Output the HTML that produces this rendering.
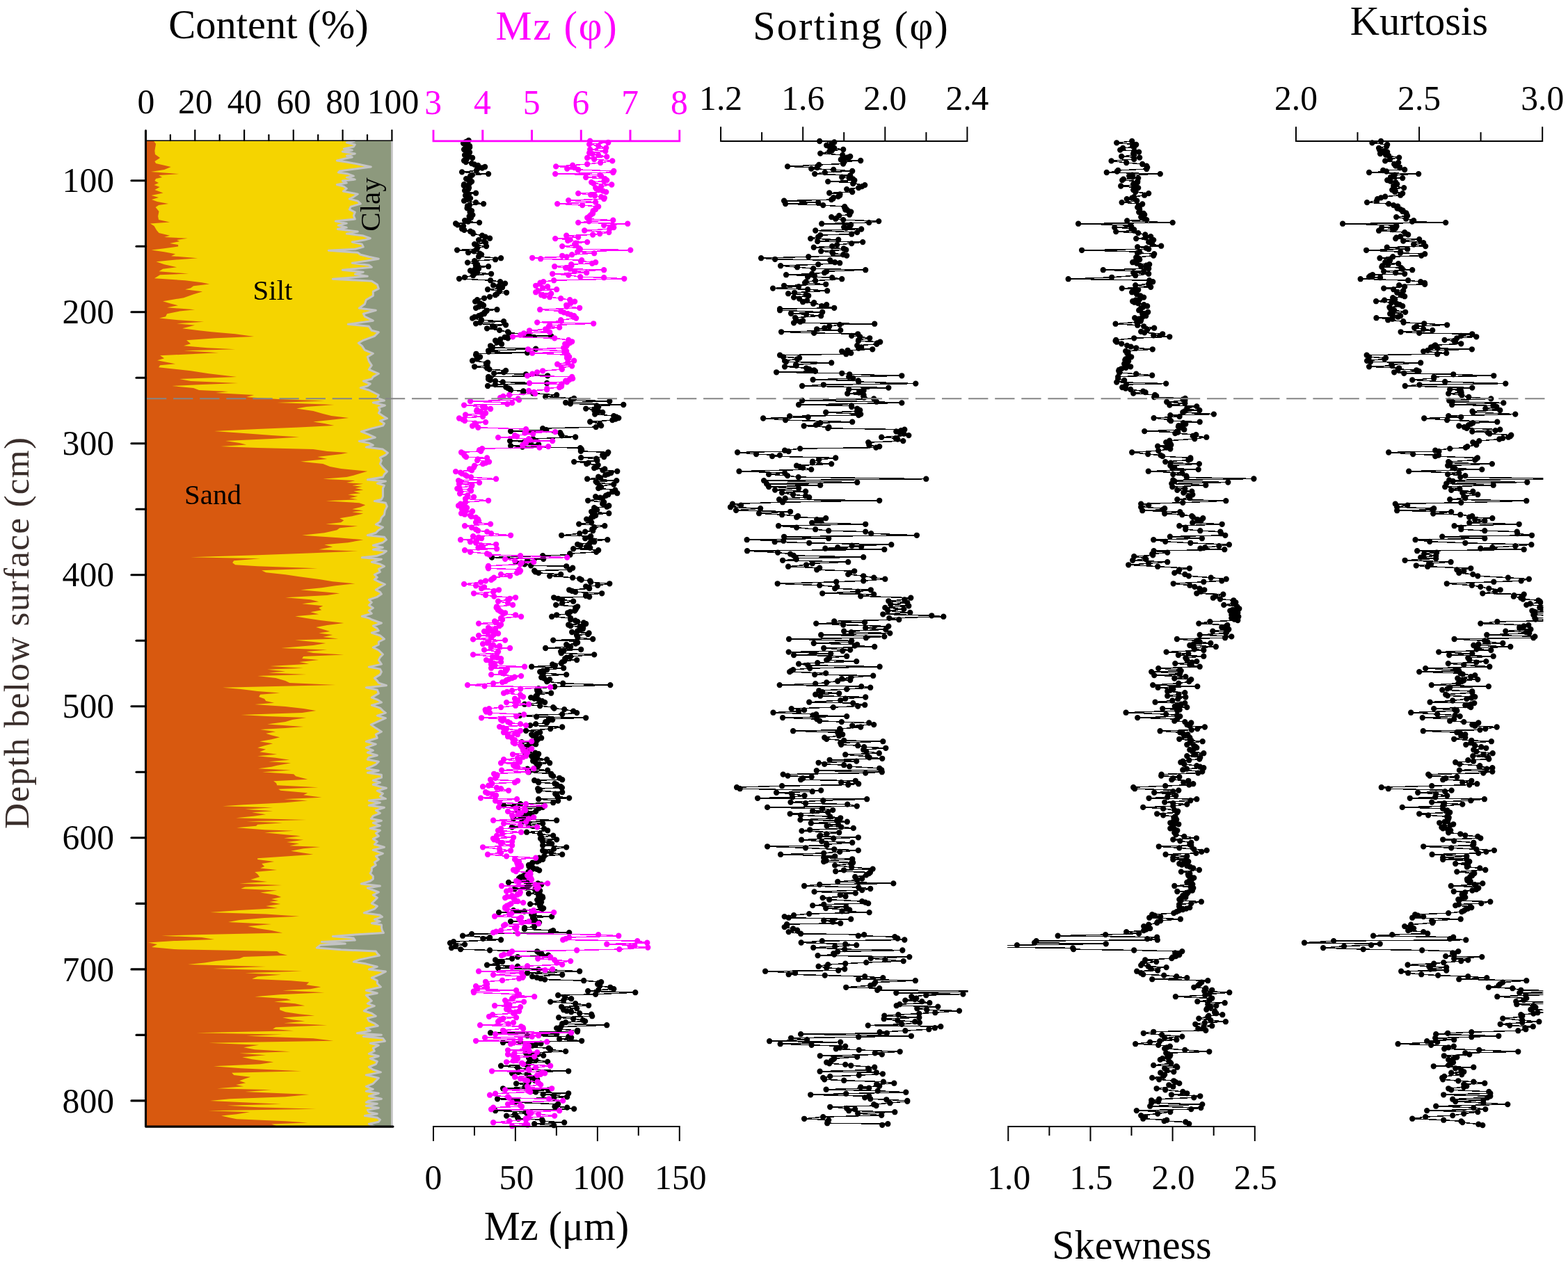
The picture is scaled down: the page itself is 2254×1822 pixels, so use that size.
<!DOCTYPE html>
<html lang="en"><head><meta charset="utf-8"><title>Grain-size parameters vs depth</title>
<style>html,body{margin:0;padding:0;background:#fff}svg{display:block}</style></head>
<body>
<svg width="2254" height="1822" viewBox="0 0 2254 1822" font-family='"Liberation Serif", "DejaVu Serif", serif' role="img" aria-label="Grain-size parameters versus depth below surface">
<rect width="2254" height="1822" fill="#fff"/>
<rect x="209.5" y="202.8" width="353.9" height="1417.3" fill="#8d997d"/>
<polygon points="209.5,202.8 510.3,202.8 498.3,205.0 510.3,208.0 508.3,211.0 494.3,214.0 506.3,216.0 492.3,218.0 510.3,221.0 498.3,224.0 506.3,226.0 496.3,228.0 484.3,231.0 498.3,233.0 514.3,236.0 533.3,240.0 510.3,243.0 488.3,246.0 486.3,248.0 500.3,250.1 508.3,253.1 498.3,255.1 510.3,258.1 492.3,260.1 498.3,263.1 484.3,265.5 494.3,268.1 498.3,271.1 493.3,275.1 514.3,279.1 508.3,283.1 502.3,286.1 514.3,289.1 518.3,293.1 504.3,297.1 502.3,301.1 510.3,305.1 508.3,310.1 510.3,315.1 482.3,318.1 498.3,321.1 486.3,324.1 498.3,327.1 485.3,329.5 514.3,333.1 498.3,336.1 522.3,339.1 532.3,342.7 524.3,345.1 506.3,348.1 520.3,351.1 522.3,355.1 510.3,358.2 472.3,360.2 514.3,363.2 518.3,366.2 530.3,369.2 544.3,372.2 526.3,375.2 506.3,378.2 530.3,381.2 534.3,384.2 492.3,388.2 522.3,391.2 510.3,394.2 528.3,397.2 478.3,401.2 534.3,404.2 542.3,409.2 544.3,415.2 536.3,419.2 536.3,425.2 526.3,431.2 524.3,437.2 516.3,443.2 540.3,446.2 522.3,451.2 524.3,455.2 536.3,461.2 500.3,466.3 530.3,469.3 534.3,475.3 544.3,477.7 538.3,483.3 522.3,489.3 515.3,493.3 520.3,497.3 524.3,503.3 536.3,508.3 528.3,513.3 530.3,519.3 534.3,525.3 530.3,531.3 544.3,537.3 536.3,541.9 534.3,545.0 522.3,548.0 532.3,552.0 528.3,555.0 518.3,557.6 530.3,561.0 536.3,564.0 544.3,568.0 542.3,572.4 552.4,576.0 536.3,579.0 553.4,583.0 544.3,586.0 546.4,590.0 544.3,594.0 550.4,598.1 556.4,601.7 546.4,605.1 552.4,609.1 550.4,612.1 534.3,616.1 519.3,620.7 528.3,624.1 539.3,629.1 528.3,632.1 516.3,634.5 530.3,637.1 536.3,640.1 526.3,643.1 550.4,646.1 557.4,651.1 554.4,654.1 546.4,658.1 548.4,662.1 546.4,667.1 550.4,672.1 556.4,678.1 552.4,682.1 550.4,686.1 528.3,689.7 554.4,692.1 542.3,695.1 552.4,698.1 550.4,702.1 550.4,708.2 550.4,714.2 548.4,718.2 538.3,720.6 554.4,723.2 556.4,728.2 553.4,734.2 552.4,740.2 548.4,744.2 546.4,750.2 540.3,754.2 550.4,758.2 544.3,762.2 540.3,766.2 528.3,769.8 552.4,772.2 555.4,776.2 550.4,780.2 536.3,784.2 550.4,787.2 536.3,790.2 555.4,792.6 550.4,796.2 542.3,799.2 520.3,801.8 548.4,804.2 534.3,808.2 546.4,811.3 552.4,814.3 544.3,818.3 546.4,822.3 538.3,826.3 542.3,830.3 538.3,833.3 544.3,836.3 553.4,840.3 546.4,844.3 540.3,848.3 546.4,851.3 548.4,854.3 542.3,858.3 530.3,862.3 534.3,866.3 530.3,870.3 536.3,874.3 530.3,878.3 534.3,882.3 520.3,886.3 530.3,888.9 534.3,891.0 548.4,896.0 536.3,900.0 542.3,904.0 544.3,907.0 534.3,910.0 546.4,914.0 552.4,919.0 544.3,923.0 544.3,927.0 536.3,931.0 544.3,935.0 550.4,941.0 546.4,945.1 544.3,949.1 548.4,955.1 530.3,959.1 546.4,962.1 548.4,966.1 546.4,970.1 538.3,975.1 542.3,979.1 544.3,982.1 555.4,985.7 526.3,988.7 542.3,992.1 544.3,997.1 534.3,1003.1 542.3,1006.1 548.4,1010.1 534.3,1014.1 546.4,1018.1 550.4,1022.1 554.4,1025.1 542.3,1029.1 554.4,1032.7 546.4,1036.1 533.3,1042.1 540.3,1047.1 548.4,1052.2 540.3,1056.2 542.3,1061.2 526.3,1066.2 540.3,1070.2 526.3,1075.2 536.3,1079.2 528.3,1082.2 542.3,1086.2 530.3,1089.2 528.3,1092.2 544.3,1095.2 540.3,1099.2 534.3,1102.2 527.3,1105.2 544.3,1108.2 528.3,1111.2 548.4,1114.2 548.4,1118.2 536.3,1122.2 546.4,1125.2 536.3,1128.2 546.4,1131.2 555.4,1133.2 542.3,1137.2 550.4,1141.2 546.4,1145.2 554.4,1148.6 530.3,1151.2 546.4,1154.2 530.3,1158.3 552.4,1161.3 540.3,1165.3 546.4,1169.3 536.3,1173.3 533.3,1177.3 548.4,1180.3 536.3,1183.3 546.4,1187.3 532.3,1191.3 546.4,1194.3 540.3,1198.3 544.3,1202.3 536.3,1206.3 542.3,1210.3 538.3,1214.3 552.4,1218.3 536.3,1222.3 550.4,1227.3 540.3,1231.3 544.3,1235.9 538.3,1240.0 540.3,1244.0 534.3,1248.0 534.3,1252.0 532.3,1256.0 536.3,1260.0 536.3,1264.0 532.3,1267.0 519.3,1271.0 546.4,1274.0 528.3,1277.0 536.3,1280.0 544.3,1283.0 536.3,1287.0 542.3,1291.1 538.3,1295.1 534.3,1299.1 542.3,1303.1 538.3,1307.1 523.3,1312.7 546.4,1316.1 549.4,1318.5 538.3,1322.1 546.4,1325.1 534.3,1327.7 548.4,1330.1 548.4,1334.1 549.4,1338.1 551.4,1341.5 510.3,1344.1 478.3,1346.5 508.3,1349.1 510.3,1352.1 462.3,1354.5 496.3,1357.1 460.3,1359.1 455.3,1363.1 490.3,1365.7 540.3,1368.1 542.3,1371.1 545.3,1374.1 530.3,1377.1 516.3,1380.1 508.3,1383.1 526.3,1386.1 542.3,1390.1 530.3,1394.1 554.4,1397.1 546.4,1401.2 534.3,1406.2 542.3,1410.2 542.3,1414.2 547.4,1419.2 526.3,1424.2 542.3,1428.2 526.3,1431.2 530.3,1435.2 534.3,1439.2 528.3,1443.2 538.3,1446.6 528.3,1450.2 523.3,1453.8 534.3,1457.2 540.3,1461.2 528.3,1464.2 530.3,1468.2 538.3,1471.8 543.3,1475.2 526.3,1478.6 532.3,1482.2 513.3,1485.8 548.4,1488.2 522.3,1490.6 550.4,1493.2 553.4,1497.2 532.3,1500.2 544.3,1503.2 536.3,1507.3 538.3,1511.3 530.3,1515.3 544.3,1518.7 532.3,1522.3 542.3,1526.3 540.3,1530.3 530.3,1534.3 536.3,1538.3 547.4,1541.9 526.3,1545.9 544.3,1550.3 540.3,1554.3 536.3,1558.3 526.3,1562.3 536.3,1566.3 526.3,1569.3 544.3,1572.3 530.3,1576.3 548.4,1580.3 530.3,1582.9 526.3,1585.2 542.3,1587.2 526.3,1590.2 544.3,1593.2 528.3,1596.2 530.3,1599.2 542.3,1601.8 524.3,1604.6 542.3,1607.2 546.4,1610.2 544.3,1613.2 530.3,1616.2 538.3,1620.1 209.5,1620.1" fill="#f5d400"/>
<clipPath id="c0"><rect x="209.5" y="200.8" width="353.9" height="1419.3"/></clipPath>
<polyline points="510.3,202.8 498.3,205.0 510.3,208.0 508.3,211.0 494.3,214.0 506.3,216.0 492.3,218.0 510.3,221.0 498.3,224.0 506.3,226.0 496.3,228.0 484.3,231.0 498.3,233.0 514.3,236.0 533.3,240.0 510.3,243.0 488.3,246.0 486.3,248.0 500.3,250.1 508.3,253.1 498.3,255.1 510.3,258.1 492.3,260.1 498.3,263.1 484.3,265.5 494.3,268.1 498.3,271.1 493.3,275.1 514.3,279.1 508.3,283.1 502.3,286.1 514.3,289.1 518.3,293.1 504.3,297.1 502.3,301.1 510.3,305.1 508.3,310.1 510.3,315.1 482.3,318.1 498.3,321.1 486.3,324.1 498.3,327.1 485.3,329.5 514.3,333.1 498.3,336.1 522.3,339.1 532.3,342.7 524.3,345.1 506.3,348.1 520.3,351.1 522.3,355.1 510.3,358.2 472.3,360.2 514.3,363.2 518.3,366.2 530.3,369.2 544.3,372.2 526.3,375.2 506.3,378.2 530.3,381.2 534.3,384.2 492.3,388.2 522.3,391.2 510.3,394.2 528.3,397.2 478.3,401.2 534.3,404.2 542.3,409.2 544.3,415.2 536.3,419.2 536.3,425.2 526.3,431.2 524.3,437.2 516.3,443.2 540.3,446.2 522.3,451.2 524.3,455.2 536.3,461.2 500.3,466.3 530.3,469.3 534.3,475.3 544.3,477.7 538.3,483.3 522.3,489.3 515.3,493.3 520.3,497.3 524.3,503.3 536.3,508.3 528.3,513.3 530.3,519.3 534.3,525.3 530.3,531.3 544.3,537.3 536.3,541.9 534.3,545.0 522.3,548.0 532.3,552.0 528.3,555.0 518.3,557.6 530.3,561.0 536.3,564.0 544.3,568.0 542.3,572.4 552.4,576.0 536.3,579.0 553.4,583.0 544.3,586.0 546.4,590.0 544.3,594.0 550.4,598.1 556.4,601.7 546.4,605.1 552.4,609.1 550.4,612.1 534.3,616.1 519.3,620.7 528.3,624.1 539.3,629.1 528.3,632.1 516.3,634.5 530.3,637.1 536.3,640.1 526.3,643.1 550.4,646.1 557.4,651.1 554.4,654.1 546.4,658.1 548.4,662.1 546.4,667.1 550.4,672.1 556.4,678.1 552.4,682.1 550.4,686.1 528.3,689.7 554.4,692.1 542.3,695.1 552.4,698.1 550.4,702.1 550.4,708.2 550.4,714.2 548.4,718.2 538.3,720.6 554.4,723.2 556.4,728.2 553.4,734.2 552.4,740.2 548.4,744.2 546.4,750.2 540.3,754.2 550.4,758.2 544.3,762.2 540.3,766.2 528.3,769.8 552.4,772.2 555.4,776.2 550.4,780.2 536.3,784.2 550.4,787.2 536.3,790.2 555.4,792.6 550.4,796.2 542.3,799.2 520.3,801.8 548.4,804.2 534.3,808.2 546.4,811.3 552.4,814.3 544.3,818.3 546.4,822.3 538.3,826.3 542.3,830.3 538.3,833.3 544.3,836.3 553.4,840.3 546.4,844.3 540.3,848.3 546.4,851.3 548.4,854.3 542.3,858.3 530.3,862.3 534.3,866.3 530.3,870.3 536.3,874.3 530.3,878.3 534.3,882.3 520.3,886.3 530.3,888.9 534.3,891.0 548.4,896.0 536.3,900.0 542.3,904.0 544.3,907.0 534.3,910.0 546.4,914.0 552.4,919.0 544.3,923.0 544.3,927.0 536.3,931.0 544.3,935.0 550.4,941.0 546.4,945.1 544.3,949.1 548.4,955.1 530.3,959.1 546.4,962.1 548.4,966.1 546.4,970.1 538.3,975.1 542.3,979.1 544.3,982.1 555.4,985.7 526.3,988.7 542.3,992.1 544.3,997.1 534.3,1003.1 542.3,1006.1 548.4,1010.1 534.3,1014.1 546.4,1018.1 550.4,1022.1 554.4,1025.1 542.3,1029.1 554.4,1032.7 546.4,1036.1 533.3,1042.1 540.3,1047.1 548.4,1052.2 540.3,1056.2 542.3,1061.2 526.3,1066.2 540.3,1070.2 526.3,1075.2 536.3,1079.2 528.3,1082.2 542.3,1086.2 530.3,1089.2 528.3,1092.2 544.3,1095.2 540.3,1099.2 534.3,1102.2 527.3,1105.2 544.3,1108.2 528.3,1111.2 548.4,1114.2 548.4,1118.2 536.3,1122.2 546.4,1125.2 536.3,1128.2 546.4,1131.2 555.4,1133.2 542.3,1137.2 550.4,1141.2 546.4,1145.2 554.4,1148.6 530.3,1151.2 546.4,1154.2 530.3,1158.3 552.4,1161.3 540.3,1165.3 546.4,1169.3 536.3,1173.3 533.3,1177.3 548.4,1180.3 536.3,1183.3 546.4,1187.3 532.3,1191.3 546.4,1194.3 540.3,1198.3 544.3,1202.3 536.3,1206.3 542.3,1210.3 538.3,1214.3 552.4,1218.3 536.3,1222.3 550.4,1227.3 540.3,1231.3 544.3,1235.9 538.3,1240.0 540.3,1244.0 534.3,1248.0 534.3,1252.0 532.3,1256.0 536.3,1260.0 536.3,1264.0 532.3,1267.0 519.3,1271.0 546.4,1274.0 528.3,1277.0 536.3,1280.0 544.3,1283.0 536.3,1287.0 542.3,1291.1 538.3,1295.1 534.3,1299.1 542.3,1303.1 538.3,1307.1 523.3,1312.7 546.4,1316.1 549.4,1318.5 538.3,1322.1 546.4,1325.1 534.3,1327.7 548.4,1330.1 548.4,1334.1 549.4,1338.1 551.4,1341.5 510.3,1344.1 478.3,1346.5 508.3,1349.1 510.3,1352.1 462.3,1354.5 496.3,1357.1 460.3,1359.1 455.3,1363.1 490.3,1365.7 540.3,1368.1 542.3,1371.1 545.3,1374.1 530.3,1377.1 516.3,1380.1 508.3,1383.1 526.3,1386.1 542.3,1390.1 530.3,1394.1 554.4,1397.1 546.4,1401.2 534.3,1406.2 542.3,1410.2 542.3,1414.2 547.4,1419.2 526.3,1424.2 542.3,1428.2 526.3,1431.2 530.3,1435.2 534.3,1439.2 528.3,1443.2 538.3,1446.6 528.3,1450.2 523.3,1453.8 534.3,1457.2 540.3,1461.2 528.3,1464.2 530.3,1468.2 538.3,1471.8 543.3,1475.2 526.3,1478.6 532.3,1482.2 513.3,1485.8 548.4,1488.2 522.3,1490.6 550.4,1493.2 553.4,1497.2 532.3,1500.2 544.3,1503.2 536.3,1507.3 538.3,1511.3 530.3,1515.3 544.3,1518.7 532.3,1522.3 542.3,1526.3 540.3,1530.3 530.3,1534.3 536.3,1538.3 547.4,1541.9 526.3,1545.9 544.3,1550.3 540.3,1554.3 536.3,1558.3 526.3,1562.3 536.3,1566.3 526.3,1569.3 544.3,1572.3 530.3,1576.3 548.4,1580.3 530.3,1582.9 526.3,1585.2 542.3,1587.2 526.3,1590.2 544.3,1593.2 528.3,1596.2 530.3,1599.2 542.3,1601.8 524.3,1604.6 542.3,1607.2 546.4,1610.2 544.3,1613.2 530.3,1616.2 538.3,1620.1" fill="none" stroke="#c4c4c4" stroke-width="3.0" stroke-linejoin="round" clip-path="url(#c0)"/>
<polygon points="209.5,202.8 221.0,202.8 224.1,207.0 223.0,213.0 222.4,217.0 223.0,222.0 230.1,227.0 222.4,232.0 224.1,235.0 245.7,240.0 236.1,244.0 217.0,247.0 257.1,250.1 228.1,252.1 233.1,255.1 224.1,257.1 222.4,260.1 228.1,263.1 221.6,266.1 229.7,269.1 222.4,273.1 234.5,277.5 217.6,281.1 228.1,284.1 218.0,287.1 226.1,290.1 242.1,293.1 228.1,295.1 223.6,298.1 228.5,304.1 227.1,311.1 228.1,316.1 244.1,319.5 216.0,321.5 221.6,325.1 225.1,331.1 228.5,335.1 244.1,338.7 236.1,341.1 269.7,342.7 254.1,345.1 258.1,347.1 244.1,350.1 256.1,352.1 256.1,354.5 236.1,357.2 217.6,359.6 236.1,362.2 252.1,365.2 246.1,368.2 284.1,371.2 250.1,373.8 224.5,376.2 236.1,380.2 254.1,384.2 234.1,386.8 228.5,390.2 271.1,393.6 230.1,395.2 222.0,400.2 266.1,403.2 290.1,406.2 301.1,408.4 278.1,411.2 274.1,414.2 266.1,416.2 291.1,419.2 278.1,423.2 264.1,428.2 234.1,433.2 244.1,436.2 256.1,439.2 240.1,442.2 280.1,445.2 258.1,447.6 240.1,451.2 238.1,455.2 229.1,457.6 256.1,460.2 293.1,462.8 254.1,465.3 280.1,467.7 262.1,472.3 286.1,475.3 304.1,477.3 338.2,480.3 365.2,483.9 310.1,486.3 268.1,489.3 274.1,494.3 264.1,497.3 298.1,500.3 338.2,502.3 264.1,504.3 314.1,507.3 230.1,511.3 236.1,515.3 226.1,518.3 252.1,523.3 230.1,525.3 228.1,528.3 274.1,533.3 300.1,537.3 340.2,541.9 258.1,545.0 274.1,548.0 342.2,551.0 290.1,553.0 247.1,555.0 278.1,558.0 286.1,561.0 328.1,563.0 310.1,565.0 365.2,568.0 354.2,571.0 400.2,574.0 466.3,576.4 398.2,579.0 480.3,582.0 440.3,585.0 426.2,587.6 450.3,591.0 464.3,595.0 476.3,598.1 501.3,601.1 474.3,604.1 450.3,606.5 466.3,609.1 480.3,612.1 430.2,614.5 370.2,617.1 308.1,620.1 350.2,623.1 390.2,626.1 430.2,628.5 390.2,631.1 324.1,634.1 344.2,637.1 354.2,639.5 317.1,642.1 370.2,644.1 450.3,646.1 470.3,649.1 500.3,651.1 490.3,653.1 456.3,657.1 470.3,660.1 432.2,663.7 464.3,667.1 474.3,671.1 490.3,674.1 528.3,677.7 520.3,680.1 510.3,683.1 498.3,686.1 464.3,688.7 510.3,691.1 498.3,694.1 522.3,695.7 506.3,698.1 520.3,700.1 510.3,702.1 522.3,704.6 508.3,706.6 518.3,709.2 500.3,711.2 514.3,713.8 502.3,716.2 514.3,718.2 468.3,720.2 516.3,723.2 525.3,726.2 518.3,729.2 506.3,732.2 522.3,734.2 506.3,736.2 522.3,738.6 506.3,742.2 488.3,745.2 494.3,748.2 490.3,751.2 468.3,753.8 514.3,756.6 488.3,759.2 484.3,762.2 466.3,766.2 434.2,769.8 486.3,773.2 522.3,776.2 500.3,780.2 466.3,783.2 478.3,786.6 458.3,790.2 514.3,792.6 450.3,795.2 370.2,798.2 274.1,801.2 374.2,803.2 336.2,806.2 334.2,809.2 338.2,812.3 370.2,814.3 456.3,817.3 376.2,820.3 382.2,823.3 410.2,826.3 430.2,829.3 460.3,833.3 478.3,836.3 510.3,839.3 482.3,842.3 462.3,845.3 432.2,848.3 466.3,851.3 488.3,853.3 470.3,855.9 410.2,859.3 446.3,862.3 458.3,865.3 434.2,868.3 464.3,871.3 458.3,874.3 462.3,877.3 446.3,880.3 458.3,883.3 424.2,886.3 440.3,888.9 460.3,892.0 494.3,896.0 470.3,899.0 454.3,902.0 464.3,905.0 474.3,908.0 458.3,910.6 478.3,913.0 464.3,916.0 486.3,918.6 424.2,920.6 450.3,923.0 468.3,925.0 450.3,928.0 404.2,932.0 470.3,934.6 440.3,937.0 450.3,939.0 494.3,941.4 436.2,944.1 434.2,947.1 458.3,949.1 430.2,952.1 444.3,954.7 388.2,958.1 436.2,960.7 384.2,962.7 410.2,965.5 386.2,967.5 440.3,970.1 370.2,972.1 396.2,975.1 410.2,979.1 416.2,982.1 482.3,985.1 320.1,988.7 346.2,991.1 370.2,994.1 402.2,996.5 374.2,998.7 372.2,1002.1 380.2,1005.1 382.2,1008.1 394.2,1010.7 366.2,1013.1 410.2,1016.1 436.2,1019.1 454.3,1022.1 434.2,1025.1 346.2,1028.1 384.2,1030.1 440.3,1032.1 420.2,1035.1 410.2,1038.1 384.2,1041.5 436.2,1045.1 410.2,1047.1 374.2,1049.1 396.2,1052.2 382.2,1054.8 390.2,1057.2 402.2,1060.2 390.2,1063.2 373.2,1066.2 392.2,1069.2 380.2,1072.2 370.2,1075.2 382.2,1077.6 373.2,1081.2 398.2,1084.8 370.2,1087.2 396.2,1089.8 416.2,1092.8 386.2,1095.2 418.2,1097.2 398.2,1100.8 390.2,1102.8 371.2,1105.2 418.2,1107.6 377.2,1110.2 422.2,1113.2 425.2,1116.2 442.3,1120.8 393.2,1123.2 397.2,1126.2 398.2,1129.2 457.3,1132.2 400.2,1134.8 403.2,1136.8 442.3,1140.2 436.2,1143.2 462.3,1146.8 408.2,1149.2 442.3,1151.2 410.2,1154.2 350.2,1157.2 320.1,1159.3 392.2,1161.3 352.2,1163.7 392.2,1166.3 362.2,1168.3 382.2,1171.3 364.2,1173.7 339.2,1176.3 440.3,1178.9 354.2,1181.3 406.2,1183.3 370.2,1185.7 368.2,1187.7 340.2,1190.3 380.2,1193.3 422.2,1194.7 380.2,1197.3 410.2,1200.3 432.2,1202.3 408.2,1205.3 436.2,1207.7 412.2,1210.9 430.2,1213.3 416.2,1216.3 460.3,1217.9 436.2,1220.3 418.2,1223.7 434.2,1226.3 450.3,1228.7 414.2,1231.3 370.2,1234.3 370.2,1235.9 394.2,1239.0 376.2,1242.0 380.2,1246.0 374.2,1248.4 398.2,1251.0 366.2,1254.0 370.2,1257.0 373.2,1261.0 360.2,1265.0 384.2,1268.0 344.2,1270.4 405.2,1273.0 352.2,1275.4 346.2,1278.0 398.2,1280.4 374.2,1283.6 396.2,1287.0 404.2,1290.1 390.2,1293.1 400.2,1295.1 387.2,1297.1 403.2,1300.1 382.2,1303.1 399.2,1306.1 344.2,1309.1 302.1,1312.1 382.2,1314.5 430.2,1317.7 380.2,1320.1 344.2,1323.1 328.1,1326.1 390.2,1329.1 356.2,1332.1 370.2,1335.1 390.2,1338.1 406.2,1341.5 290.1,1344.1 232.1,1345.7 290.1,1348.1 308.1,1351.1 250.1,1353.1 213.0,1355.5 226.1,1358.1 218.0,1362.1 250.1,1365.1 398.2,1368.1 402.2,1371.1 413.2,1373.7 350.2,1376.1 344.2,1378.5 310.1,1382.1 294.1,1384.5 270.1,1387.1 382.2,1390.1 306.1,1393.1 434.2,1396.5 352.2,1399.2 404.2,1401.8 370.2,1404.2 362.2,1407.8 418.2,1410.2 444.3,1412.6 440.3,1416.2 461.3,1419.2 446.3,1422.2 406.2,1424.2 466.3,1427.2 402.2,1430.2 366.2,1433.2 412.2,1436.2 418.2,1438.2 394.2,1440.6 424.2,1443.2 438.2,1446.2 402.2,1448.6 402.2,1452.2 410.2,1455.2 430.2,1458.2 452.3,1460.6 406.2,1463.2 420.2,1466.2 438.2,1468.6 408.2,1471.2 470.3,1474.2 396.2,1477.2 392.2,1479.8 422.2,1482.2 282.1,1485.2 406.2,1487.8 354.2,1489.8 450.3,1493.2 479.3,1496.8 300.1,1499.8 372.2,1502.8 350.2,1506.3 366.2,1509.3 417.2,1512.3 344.2,1514.7 382.2,1517.3 348.2,1520.3 362.2,1523.3 393.2,1527.3 374.2,1530.3 307.1,1533.3 346.2,1536.3 433.2,1540.3 333.2,1542.7 336.2,1545.9 360.2,1548.7 352.2,1551.3 344.2,1554.3 353.2,1557.3 339.2,1559.9 350.2,1562.3 312.1,1565.3 390.2,1567.3 352.2,1569.9 444.3,1573.9 410.2,1577.3 330.1,1580.3 302.1,1582.9 350.2,1585.2 404.2,1587.8 326.1,1589.8 370.2,1592.2 454.3,1594.8 299.1,1597.2 359.2,1599.2 340.2,1602.2 318.1,1604.6 330.1,1607.2 340.2,1609.2 410.2,1612.2 442.3,1614.6 390.2,1616.6 400.2,1620.1 209.5,1620.1" fill="#d8590f"/>
<line x1="563.4" y1="202.8" x2="563.4" y2="1620.1" stroke="#c4c4c4" stroke-width="2.8" />
<line x1="209.5" y1="202.2" x2="564.4" y2="202.2" stroke="#000" stroke-width="1.6" />
<line x1="244.9" y1="202.2" x2="244.9" y2="194.2" stroke="#000" stroke-width="2.2" stroke-linecap="round"/>
<line x1="280.3" y1="202.2" x2="280.3" y2="187.3" stroke="#000" stroke-width="2.2" stroke-linecap="round"/>
<line x1="315.7" y1="202.2" x2="315.7" y2="194.2" stroke="#000" stroke-width="2.2" stroke-linecap="round"/>
<line x1="351.1" y1="202.2" x2="351.1" y2="187.3" stroke="#000" stroke-width="2.2" stroke-linecap="round"/>
<line x1="386.4" y1="202.2" x2="386.4" y2="194.2" stroke="#000" stroke-width="2.2" stroke-linecap="round"/>
<line x1="421.8" y1="202.2" x2="421.8" y2="187.3" stroke="#000" stroke-width="2.2" stroke-linecap="round"/>
<line x1="457.2" y1="202.2" x2="457.2" y2="194.2" stroke="#000" stroke-width="2.2" stroke-linecap="round"/>
<line x1="492.6" y1="202.2" x2="492.6" y2="187.3" stroke="#000" stroke-width="2.2" stroke-linecap="round"/>
<line x1="528.0" y1="202.2" x2="528.0" y2="194.2" stroke="#000" stroke-width="2.2" stroke-linecap="round"/>
<line x1="563.4" y1="202.2" x2="563.4" y2="187.3" stroke="#000" stroke-width="2.2" stroke-linecap="round"/>
<text transform="translate(209.9,163.4) scale(1,1.04)" font-size="49.6" text-anchor="middle" fill="#000" >0</text>
<text transform="translate(280.7,163.4) scale(1,1.04)" font-size="49.6" text-anchor="middle" fill="#000" >20</text>
<text transform="translate(351.5,163.4) scale(1,1.04)" font-size="49.6" text-anchor="middle" fill="#000" >40</text>
<text transform="translate(422.2,163.4) scale(1,1.04)" font-size="49.6" text-anchor="middle" fill="#000" >60</text>
<text transform="translate(493.0,163.4) scale(1,1.04)" font-size="49.6" text-anchor="middle" fill="#000" >80</text>
<text transform="translate(565.0,163.4) scale(1,1.04)" font-size="49.6" text-anchor="middle" fill="#000" >100</text>
<path d="M209.5 187.8V1620.1H565.0" fill="none" stroke="#000" stroke-width="3.1" stroke-linecap="round" stroke-linejoin="round"/>
<line x1="209.5" y1="259.8" x2="188.9" y2="259.8" stroke="#000" stroke-width="3.1" stroke-linecap="round"/>
<text transform="translate(164.0,276.4) scale(1,1.04)" font-size="49.6" text-anchor="end" fill="#000" >100</text>
<line x1="209.5" y1="354.3" x2="196.0" y2="354.3" stroke="#000" stroke-width="3.1" stroke-linecap="round"/>
<line x1="209.5" y1="448.8" x2="188.9" y2="448.8" stroke="#000" stroke-width="3.1" stroke-linecap="round"/>
<text transform="translate(164.0,465.4) scale(1,1.04)" font-size="49.6" text-anchor="end" fill="#000" >200</text>
<line x1="209.5" y1="543.3" x2="196.0" y2="543.3" stroke="#000" stroke-width="3.1" stroke-linecap="round"/>
<line x1="209.5" y1="637.8" x2="188.9" y2="637.8" stroke="#000" stroke-width="3.1" stroke-linecap="round"/>
<text transform="translate(164.0,654.4) scale(1,1.04)" font-size="49.6" text-anchor="end" fill="#000" >300</text>
<line x1="209.5" y1="732.3" x2="196.0" y2="732.3" stroke="#000" stroke-width="3.1" stroke-linecap="round"/>
<line x1="209.5" y1="826.8" x2="188.9" y2="826.8" stroke="#000" stroke-width="3.1" stroke-linecap="round"/>
<text transform="translate(164.0,843.4) scale(1,1.04)" font-size="49.6" text-anchor="end" fill="#000" >400</text>
<line x1="209.5" y1="921.3" x2="196.0" y2="921.3" stroke="#000" stroke-width="3.1" stroke-linecap="round"/>
<line x1="209.5" y1="1015.8" x2="188.9" y2="1015.8" stroke="#000" stroke-width="3.1" stroke-linecap="round"/>
<text transform="translate(164.0,1032.4) scale(1,1.04)" font-size="49.6" text-anchor="end" fill="#000" >500</text>
<line x1="209.5" y1="1110.3" x2="196.0" y2="1110.3" stroke="#000" stroke-width="3.1" stroke-linecap="round"/>
<line x1="209.5" y1="1204.8" x2="188.9" y2="1204.8" stroke="#000" stroke-width="3.1" stroke-linecap="round"/>
<text transform="translate(164.0,1221.4) scale(1,1.04)" font-size="49.6" text-anchor="end" fill="#000" >600</text>
<line x1="209.5" y1="1299.4" x2="196.0" y2="1299.4" stroke="#000" stroke-width="3.1" stroke-linecap="round"/>
<line x1="209.5" y1="1393.9" x2="188.9" y2="1393.9" stroke="#000" stroke-width="3.1" stroke-linecap="round"/>
<text transform="translate(164.0,1410.5) scale(1,1.04)" font-size="49.6" text-anchor="end" fill="#000" >700</text>
<line x1="209.5" y1="1488.4" x2="196.0" y2="1488.4" stroke="#000" stroke-width="3.1" stroke-linecap="round"/>
<line x1="209.5" y1="1582.9" x2="188.9" y2="1582.9" stroke="#000" stroke-width="3.1" stroke-linecap="round"/>
<text transform="translate(164.0,1599.5) scale(1,1.04)" font-size="49.6" text-anchor="end" fill="#000" >800</text>
<text x="386.0" y="54.6" font-size="58.5" text-anchor="middle" fill="#000" >Content (%)</text>
<text transform="translate(41.1,909.8) rotate(-90)" font-size="51.2" text-anchor="middle" fill="#3a2e2b" letter-spacing="1.3">Depth below surface (cm)</text>
<text x="392.0" y="431.0" font-size="41" text-anchor="middle" fill="#000" >Silt</text>
<text x="306.0" y="725.0" font-size="41" text-anchor="middle" fill="#000" >Sand</text>
<text transform="translate(546,294) rotate(-90)" font-size="41" text-anchor="middle" fill="#000">Clay</text>
<g fill="none" stroke="#000">
<polyline points="673.7,202.0 670.0,204.0 666.1,206.0 672.4,208.0 675.1,210.0 675.2,211.7 668.5,213.4 667.1,215.0 672.7,217.0 675.1,219.0 672.8,221.0 668.1,223.0 674.5,225.0 679.1,227.0 670.7,229.0 667.1,231.0 669.7,233.0 678.1,235.0 681.9,236.5 687.1,238.0 697.1,240.0 693.1,241.5 686.1,243.0 684.9,245.2 664.1,247.4 702.1,250.1 678.9,251.6 676.1,253.1 675.7,255.1 670.1,257.1 673.5,259.1 678.1,261.1 675.6,263.1 667.1,265.1 666.8,266.7 673.6,268.4 674.1,270.1 673.3,272.1 668.1,274.1 669.7,275.9 684.1,277.7 673.9,279.4 669.1,281.1 670.8,283.1 676.1,285.1 671.8,286.9 667.1,288.7 684.1,291.1 695.1,293.1 675.2,294.6 672.1,296.1 671.9,297.8 671.6,299.4 675.1,301.1 678.0,303.1 675.6,305.1 676.1,307.1 679.4,309.1 674.6,311.1 677.1,313.1 674.4,315.1 668.1,317.1 673.0,318.6 689.1,320.1 655.1,321.5 657.7,323.3 666.1,325.1 664.3,327.1 664.1,329.1 667.4,330.9 676.1,332.7 679.6,334.4 680.1,336.1 693.1,338.7 697.7,340.7 704.1,342.7 688.1,345.1 695.8,347.1 698.1,349.1 682.1,351.1 685.3,352.6 699.1,354.1 686.1,356.8 685.3,358.2 657.1,359.6 681.3,361.4 673.1,363.2 689.8,364.7 692.1,366.2 688.7,367.7 688.1,369.2 720.1,371.2 712.1,373.2 682.1,375.2 672.1,377.6 686.1,380.2 683.9,381.7 702.1,383.2 687.7,384.7 688.1,386.2 682.4,387.7 676.1,389.2 678.9,390.7 686.1,392.2 706.1,393.8 680.1,396.2 668.1,398.8 660.1,400.8 705.1,403.2 719.1,405.2 726.1,407.6 709.1,410.2 716.6,411.7 722.1,413.2 718.6,414.7 701.1,416.2 718.1,418.2 728.1,420.8 714.4,422.5 712.1,424.2 704.1,426.8 696.1,428.8 686.1,431.2 683.1,433.6 690.1,436.2 693.1,437.7 695.1,439.2 688.2,441.0 684.1,442.8 714.5,445.2 699.8,446.7 698.1,448.2 696.2,449.7 696.1,451.2 691.9,452.7 688.1,454.2 682.2,455.9 679.1,457.6 692.1,460.2 724.1,462.2 690.2,463.8 684.1,465.3 727.1,467.3 708.1,468.8 711.1,470.3 700.1,472.3 718.1,474.9 730.1,477.3 731.2,478.8 760.1,480.3 760.1,481.8 792.2,483.3 725.7,484.8 730.1,486.3 719.3,488.0 712.1,489.7 714.1,492.3 721.1,494.7 705.1,497.3 708.1,499.7 770.2,501.7 702.1,504.3 702.4,505.8 758.1,507.3 684.5,508.8 684.1,510.3 685.0,511.8 690.1,513.3 685.7,514.8 686.1,516.3 679.1,518.7 701.1,521.3 698.9,522.8 700.1,524.3 700.4,525.8 682.1,527.3 700.1,529.3 703.5,531.1 727.1,532.9 724.1,535.3 710.2,536.8 756.1,538.3 787.2,540.3 702.1,541.9 704.7,543.5 702.1,545.0 704.7,546.5 712.1,548.0 722.8,549.5 786.2,551.0 711.9,553.0 701.1,555.0 727.2,556.5 730.1,558.0 732.9,559.5 734.1,561.0 752.4,562.5 752.1,564.0 766.2,565.6 800.2,568.0 784.2,570.4 825.2,573.0 820.9,575.0 876.3,577.0 813.2,579.0 819.9,580.5 896.3,582.0 857.7,583.5 860.2,585.0 842.2,587.6 854.2,590.0 860.2,591.5 866.2,593.0 855.2,595.6 882.3,598.1 886.1,599.6 889.3,601.1 884.9,602.6 880.3,604.1 848.2,606.5 862.2,609.1 862.9,610.6 864.2,612.1 856.7,614.1 780.2,616.1 785.4,618.1 734.1,620.1 805.2,622.1 806.2,624.1 807.5,626.3 827.2,628.5 766.2,631.1 765.6,632.6 733.1,634.1 760.3,635.6 756.1,637.1 774.2,639.1 734.1,641.1 751.0,642.6 834.2,644.1 835.6,645.6 836.2,647.1 834.9,648.8 874.3,650.5 873.2,652.3 866.2,654.1 868.8,655.6 868.2,657.1 835.2,658.1 857.2,659.6 858.2,661.1 858.4,662.6 825.2,664.1 845.8,665.6 843.2,667.1 859.7,668.6 858.2,670.1 857.8,671.6 854.2,673.1 869.3,674.5 866.4,676.1 887.3,677.7 878.3,680.1 874.3,681.6 870.3,683.1 860.2,685.7 863.3,687.2 844.2,688.7 886.3,691.1 856.6,692.6 858.2,694.1 882.3,696.5 862.2,699.1 864.2,700.6 860.2,702.1 884.3,704.6 880.3,707.2 887.3,709.2 874.3,711.2 871.0,712.7 856.2,714.2 862.8,715.7 866.2,717.2 845.2,719.8 868.2,722.2 866.2,724.6 875.3,727.2 872.5,728.7 854.2,730.2 856.3,731.7 858.2,733.2 850.2,735.8 875.3,738.2 852.1,739.7 856.2,741.2 853.1,742.7 850.2,744.2 843.2,746.6 848.2,749.2 850.2,751.2 832.2,753.6 869.3,756.2 854.2,758.6 851.2,761.2 852.2,763.2 841.2,764.6 833.2,767.2 807.2,769.8 849.2,771.2 847.7,772.7 841.2,774.2 873.3,776.2 853.6,777.7 854.2,779.2 848.2,780.6 830.2,782.8 834.3,784.5 843.2,786.2 848.3,787.7 824.2,789.2 860.2,791.2 857.2,793.8 819.2,796.2 819.5,797.7 780.2,799.2 707.1,801.6 781.2,803.8 758.1,806.2 741.1,808.2 749.2,809.7 754.1,811.3 763.2,813.3 814.2,814.3 823.2,816.7 819.2,819.3 768.2,820.7 769.5,822.3 774.2,823.9 806.2,825.9 790.2,828.3 823.2,830.7 833.2,832.3 835.7,833.8 848.2,835.3 849.2,837.3 876.3,839.3 859.2,841.9 842.2,843.3 846.5,844.8 847.2,846.3 818.2,848.3 822.3,849.8 827.2,851.3 865.2,853.3 842.2,855.3 842.1,856.8 847.2,858.3 796.2,859.3 802.4,860.8 808.2,862.3 824.2,864.7 808.2,867.3 799.2,869.9 830.2,872.3 827.3,873.8 828.2,875.3 827.4,876.8 826.2,878.3 819.8,879.8 816.2,881.3 817.3,882.8 800.2,884.3 793.2,886.7 820.2,888.9 820.2,891.0 827.1,892.5 830.2,894.0 839.1,895.5 842.2,897.0 817.2,898.5 820.2,900.0 833.5,901.5 838.2,903.0 837.8,904.5 834.2,906.0 830.2,907.5 822.2,909.0 846.6,910.5 845.2,912.0 829.0,913.5 830.2,915.0 830.5,917.0 852.2,919.0 795.2,920.6 829.0,922.3 830.2,924.0 827.6,925.5 814.2,927.0 815.7,928.5 820.2,930.0 784.2,932.0 835.2,934.0 810.6,935.5 806.2,937.0 806.9,939.2 854.2,941.4 820.2,944.1 814.5,945.6 812.2,947.1 829.2,949.1 811.4,950.6 808.2,952.1 806.9,953.8 794.2,955.5 798.0,957.1 764.2,958.7 810.2,960.7 786.2,963.1 780.5,964.6 776.2,966.1 781.1,968.1 814.2,970.1 779.3,972.1 778.2,974.1 782.2,975.6 790.2,977.1 788.4,978.6 786.2,980.1 809.2,982.7 877.3,985.1 797.2,987.5 774.2,990.1 772.1,991.6 772.2,993.1 775.8,994.9 792.2,996.7 772.2,999.1 770.4,1001.1 763.2,1003.1 768.1,1004.6 774.2,1006.1 779.4,1008.1 783.2,1010.1 754.1,1012.7 776.2,1015.1 795.2,1017.1 796.7,1018.6 811.2,1020.1 824.2,1022.7 829.2,1025.1 808.2,1027.1 747.1,1029.1 771.2,1030.7 842.2,1032.3 789.0,1033.7 794.2,1035.1 788.1,1036.6 784.2,1038.1 785.9,1039.6 770.2,1041.1 762.2,1043.1 808.2,1045.5 791.2,1048.1 756.1,1050.8 776.2,1053.2 772.0,1054.7 764.2,1056.2 765.9,1057.7 770.2,1059.2 778.2,1061.2 773.6,1062.7 772.2,1064.2 769.7,1065.7 750.1,1067.2 767.5,1068.7 770.2,1070.2 760.1,1072.2 756.1,1073.7 752.1,1075.2 754.7,1076.7 758.1,1078.2 758.5,1079.7 754.1,1081.2 769.6,1082.7 774.2,1084.2 771.7,1085.7 764.2,1087.2 765.6,1088.7 772.2,1090.2 786.2,1092.2 766.2,1094.2 769.2,1095.7 790.2,1097.2 775.4,1098.7 772.2,1100.2 773.6,1101.7 772.2,1103.2 758.1,1105.6 787.2,1107.6 760.1,1110.2 792.2,1112.8 792.5,1114.5 795.2,1116.2 804.2,1118.8 808.2,1121.2 768.2,1122.2 773.3,1123.7 774.2,1125.2 797.5,1126.7 800.2,1128.2 801.1,1129.7 806.2,1131.2 807.9,1132.7 773.2,1134.2 776.0,1135.7 774.2,1137.2 808.2,1139.2 798.2,1141.6 800.6,1143.4 801.2,1145.2 818.2,1147.6 774.2,1149.2 802.2,1151.6 795.2,1154.2 748.1,1156.2 724.1,1158.3 780.2,1160.9 774.8,1162.3 744.1,1163.7 743.8,1165.3 770.2,1166.9 756.1,1169.3 762.4,1170.8 764.2,1172.3 760.2,1173.8 752.1,1175.3 738.1,1177.3 800.2,1179.7 750.1,1182.3 780.2,1184.3 760.1,1186.9 736.1,1189.3 782.2,1191.7 787.2,1194.3 757.1,1196.7 776.2,1199.3 795.2,1201.7 778.2,1204.3 777.1,1205.8 800.2,1207.3 779.5,1208.8 780.2,1210.3 789.1,1211.8 793.2,1213.3 780.2,1215.7 814.2,1218.3 796.2,1220.9 780.2,1223.3 784.4,1224.8 792.2,1226.3 808.2,1228.7 782.2,1231.3 775.2,1233.7 780.2,1235.9 775.1,1237.5 772.2,1239.0 765.4,1240.7 764.6,1242.3 760.1,1244.0 760.5,1246.0 766.2,1248.0 771.7,1249.8 775.2,1251.6 759.6,1253.8 760.1,1256.0 754.7,1258.0 752.1,1260.0 748.0,1261.5 746.1,1263.0 753.5,1264.5 756.1,1266.0 757.9,1267.5 731.1,1269.0 773.3,1270.5 778.2,1272.0 760.3,1273.5 758.1,1275.0 756.3,1276.5 740.1,1278.0 769.2,1279.5 776.2,1281.0 773.0,1283.0 760.1,1285.0 776.1,1286.5 774.2,1288.0 779.8,1289.5 780.2,1291.1 776.1,1292.6 772.2,1294.1 774.8,1295.6 778.2,1297.1 774.0,1298.6 762.2,1300.1 777.0,1301.6 776.2,1303.1 777.0,1304.6 781.2,1306.1 778.9,1307.6 738.1,1309.1 753.8,1310.6 717.1,1312.1 767.3,1313.6 764.2,1315.1 767.8,1316.6 793.2,1318.1 766.0,1319.6 766.2,1321.1 769.0,1323.1 734.1,1325.1 775.1,1326.6 774.2,1328.1 769.3,1329.6 768.2,1331.1 768.0,1332.6 754.1,1334.1 753.9,1336.1 795.2,1338.1 791.7,1339.6 818.2,1341.1 678.1,1343.1 665.1,1345.7 704.1,1348.1 694.3,1349.8 720.1,1351.5 652.0,1354.1 647.0,1356.1 668.1,1358.1 655.1,1360.5 649.0,1363.1 662.1,1365.1 704.1,1366.5 772.2,1368.1 773.9,1369.6 778.2,1371.1 788.2,1373.7 744.1,1376.1 736.1,1378.5 712.1,1380.5 722.1,1383.1 715.1,1385.1 700.1,1387.7 744.1,1389.7 716.1,1392.1 774.2,1394.1 833.2,1396.7 758.1,1399.2 808.2,1401.8 765.2,1404.2 771.8,1405.7 777.2,1407.2 783.2,1408.6 839.2,1410.2 864.2,1412.2 860.3,1413.7 859.2,1415.2 862.2,1417.8 877.3,1419.8 882.3,1422.2 860.2,1423.6 845.2,1425.2 913.3,1427.2 856.2,1429.8 802.2,1431.2 812.2,1433.8 821.2,1436.2 810.2,1438.6 791.2,1440.6 827.2,1443.2 846.2,1445.8 807.2,1447.8 829.2,1450.2 810.2,1452.2 814.6,1453.7 821.2,1455.2 833.2,1457.2 850.2,1458.6 851.2,1461.2 803.2,1463.2 824.2,1465.2 837.7,1466.9 841.2,1468.6 813.2,1470.2 808.2,1472.2 872.3,1474.2 806.2,1476.6 800.2,1478.6 804.2,1480.2 830.2,1481.8 830.0,1483.5 705.1,1485.2 800.2,1487.2 758.1,1489.2 817.4,1490.7 821.2,1492.2 804.2,1494.2 836.2,1496.8 723.1,1499.2 777.5,1500.7 770.2,1502.2 764.8,1503.7 758.1,1505.3 788.9,1507.3 791.2,1509.3 813.2,1511.9 756.1,1514.3 773.4,1516.1 781.2,1517.9 762.2,1519.6 760.1,1521.3 764.1,1522.8 770.2,1524.3 787.2,1526.9 760.1,1528.4 760.1,1529.9 756.7,1531.3 720.1,1532.7 744.1,1535.3 760.1,1537.9 817.2,1540.3 745.1,1541.8 736.1,1543.3 757.7,1544.8 760.1,1546.3 760.4,1547.8 762.2,1549.3 767.8,1550.8 772.2,1552.3 768.9,1553.8 760.1,1555.3 759.4,1556.8 742.1,1558.3 758.1,1559.8 756.1,1561.3 754.5,1563.3 723.1,1565.3 788.2,1567.3 767.0,1568.8 770.2,1570.3 817.2,1572.3 780.7,1573.8 796.2,1575.3 815.2,1577.3 796.3,1578.8 715.1,1580.3 744.1,1582.9 740.1,1585.2 802.2,1587.8 800.2,1589.8 797.5,1591.2 815.2,1592.6 825.2,1594.6 712.1,1597.2 756.1,1599.2 757.2,1600.7 740.1,1602.2 728.1,1604.6 744.1,1607.2 745.1,1608.7 779.2,1610.2 780.2,1612.2 811.2,1614.2 768.2,1616.2 796.2,1618.2" stroke-width="1.5" stroke-linejoin="round" shape-rendering="crispEdges"/>
<path d="M673.7 202.0h0M670.0 204.0h0M666.1 206.0h0M672.4 208.0h0M675.1 210.0h0M675.2 211.7h0M668.5 213.4h0M667.1 215.0h0M672.7 217.0h0M675.1 219.0h0M672.8 221.0h0M668.1 223.0h0M674.5 225.0h0M679.1 227.0h0M670.7 229.0h0M667.1 231.0h0M669.7 233.0h0M678.1 235.0h0M681.9 236.5h0M687.1 238.0h0M697.1 240.0h0M693.1 241.5h0M686.1 243.0h0M684.9 245.2h0M664.1 247.4h0M702.1 250.1h0M678.9 251.6h0M676.1 253.1h0M675.7 255.1h0M670.1 257.1h0M673.5 259.1h0M678.1 261.1h0M675.6 263.1h0M667.1 265.1h0M666.8 266.7h0M673.6 268.4h0M674.1 270.1h0M673.3 272.1h0M668.1 274.1h0M669.7 275.9h0M684.1 277.7h0M673.9 279.4h0M669.1 281.1h0M670.8 283.1h0M676.1 285.1h0M671.8 286.9h0M667.1 288.7h0M684.1 291.1h0M695.1 293.1h0M675.2 294.6h0M672.1 296.1h0M671.9 297.8h0M671.6 299.4h0M675.1 301.1h0M678.0 303.1h0M675.6 305.1h0M676.1 307.1h0M679.4 309.1h0M674.6 311.1h0M677.1 313.1h0M674.4 315.1h0M668.1 317.1h0M673.0 318.6h0M689.1 320.1h0M655.1 321.5h0M657.7 323.3h0M666.1 325.1h0M664.3 327.1h0M664.1 329.1h0M667.4 330.9h0M676.1 332.7h0M679.6 334.4h0M680.1 336.1h0M693.1 338.7h0M697.7 340.7h0M704.1 342.7h0M688.1 345.1h0M695.8 347.1h0M698.1 349.1h0M682.1 351.1h0M685.3 352.6h0M699.1 354.1h0M686.1 356.8h0M685.3 358.2h0M657.1 359.6h0M681.3 361.4h0M673.1 363.2h0M689.8 364.7h0M692.1 366.2h0M688.7 367.7h0M688.1 369.2h0M720.1 371.2h0M712.1 373.2h0M682.1 375.2h0M672.1 377.6h0M686.1 380.2h0M683.9 381.7h0M702.1 383.2h0M687.7 384.7h0M688.1 386.2h0M682.4 387.7h0M676.1 389.2h0M678.9 390.7h0M686.1 392.2h0M706.1 393.8h0M680.1 396.2h0M668.1 398.8h0M660.1 400.8h0M705.1 403.2h0M719.1 405.2h0M726.1 407.6h0M709.1 410.2h0M716.6 411.7h0M722.1 413.2h0M718.6 414.7h0M701.1 416.2h0M718.1 418.2h0M728.1 420.8h0M714.4 422.5h0M712.1 424.2h0M704.1 426.8h0M696.1 428.8h0M686.1 431.2h0M683.1 433.6h0M690.1 436.2h0M693.1 437.7h0M695.1 439.2h0M688.2 441.0h0M684.1 442.8h0M714.5 445.2h0M699.8 446.7h0M698.1 448.2h0M696.2 449.7h0M696.1 451.2h0M691.9 452.7h0M688.1 454.2h0M682.2 455.9h0M679.1 457.6h0M692.1 460.2h0M724.1 462.2h0M690.2 463.8h0M684.1 465.3h0M727.1 467.3h0M708.1 468.8h0M711.1 470.3h0M700.1 472.3h0M718.1 474.9h0M730.1 477.3h0M731.2 478.8h0M760.1 480.3h0M760.1 481.8h0M792.2 483.3h0M725.7 484.8h0M730.1 486.3h0M719.3 488.0h0M712.1 489.7h0M714.1 492.3h0M721.1 494.7h0M705.1 497.3h0M708.1 499.7h0M770.2 501.7h0M702.1 504.3h0M702.4 505.8h0M758.1 507.3h0M684.5 508.8h0M684.1 510.3h0M685.0 511.8h0M690.1 513.3h0M685.7 514.8h0M686.1 516.3h0M679.1 518.7h0M701.1 521.3h0M698.9 522.8h0M700.1 524.3h0M700.4 525.8h0M682.1 527.3h0M700.1 529.3h0M703.5 531.1h0M727.1 532.9h0M724.1 535.3h0M710.2 536.8h0M756.1 538.3h0M787.2 540.3h0M702.1 541.9h0M704.7 543.5h0M702.1 545.0h0M704.7 546.5h0M712.1 548.0h0M722.8 549.5h0M786.2 551.0h0M711.9 553.0h0M701.1 555.0h0M727.2 556.5h0M730.1 558.0h0M732.9 559.5h0M734.1 561.0h0M752.4 562.5h0M752.1 564.0h0M766.2 565.6h0M800.2 568.0h0M784.2 570.4h0M825.2 573.0h0M820.9 575.0h0M876.3 577.0h0M813.2 579.0h0M819.9 580.5h0M896.3 582.0h0M857.7 583.5h0M860.2 585.0h0M842.2 587.6h0M854.2 590.0h0M860.2 591.5h0M866.2 593.0h0M855.2 595.6h0M882.3 598.1h0M886.1 599.6h0M889.3 601.1h0M884.9 602.6h0M880.3 604.1h0M848.2 606.5h0M862.2 609.1h0M862.9 610.6h0M864.2 612.1h0M856.7 614.1h0M780.2 616.1h0M785.4 618.1h0M734.1 620.1h0M805.2 622.1h0M806.2 624.1h0M807.5 626.3h0M827.2 628.5h0M766.2 631.1h0M765.6 632.6h0M733.1 634.1h0M760.3 635.6h0M756.1 637.1h0M774.2 639.1h0M734.1 641.1h0M751.0 642.6h0M834.2 644.1h0M835.6 645.6h0M836.2 647.1h0M834.9 648.8h0M874.3 650.5h0M873.2 652.3h0M866.2 654.1h0M868.8 655.6h0M868.2 657.1h0M835.2 658.1h0M857.2 659.6h0M858.2 661.1h0M858.4 662.6h0M825.2 664.1h0M845.8 665.6h0M843.2 667.1h0M859.7 668.6h0M858.2 670.1h0M857.8 671.6h0M854.2 673.1h0M869.3 674.5h0M866.4 676.1h0M887.3 677.7h0M878.3 680.1h0M874.3 681.6h0M870.3 683.1h0M860.2 685.7h0M863.3 687.2h0M844.2 688.7h0M886.3 691.1h0M856.6 692.6h0M858.2 694.1h0M882.3 696.5h0M862.2 699.1h0M864.2 700.6h0M860.2 702.1h0M884.3 704.6h0M880.3 707.2h0M887.3 709.2h0M874.3 711.2h0M871.0 712.7h0M856.2 714.2h0M862.8 715.7h0M866.2 717.2h0M845.2 719.8h0M868.2 722.2h0M866.2 724.6h0M875.3 727.2h0M872.5 728.7h0M854.2 730.2h0M856.3 731.7h0M858.2 733.2h0M850.2 735.8h0M875.3 738.2h0M852.1 739.7h0M856.2 741.2h0M853.1 742.7h0M850.2 744.2h0M843.2 746.6h0M848.2 749.2h0M850.2 751.2h0M832.2 753.6h0M869.3 756.2h0M854.2 758.6h0M851.2 761.2h0M852.2 763.2h0M841.2 764.6h0M833.2 767.2h0M807.2 769.8h0M849.2 771.2h0M847.7 772.7h0M841.2 774.2h0M873.3 776.2h0M853.6 777.7h0M854.2 779.2h0M848.2 780.6h0M830.2 782.8h0M834.3 784.5h0M843.2 786.2h0M848.3 787.7h0M824.2 789.2h0M860.2 791.2h0M857.2 793.8h0M819.2 796.2h0M819.5 797.7h0M780.2 799.2h0M707.1 801.6h0M781.2 803.8h0M758.1 806.2h0M741.1 808.2h0M749.2 809.7h0M754.1 811.3h0M763.2 813.3h0M814.2 814.3h0M823.2 816.7h0M819.2 819.3h0M768.2 820.7h0M769.5 822.3h0M774.2 823.9h0M806.2 825.9h0M790.2 828.3h0M823.2 830.7h0M833.2 832.3h0M835.7 833.8h0M848.2 835.3h0M849.2 837.3h0M876.3 839.3h0M859.2 841.9h0M842.2 843.3h0M846.5 844.8h0M847.2 846.3h0M818.2 848.3h0M822.3 849.8h0M827.2 851.3h0M865.2 853.3h0M842.2 855.3h0M842.1 856.8h0M847.2 858.3h0M796.2 859.3h0M802.4 860.8h0M808.2 862.3h0M824.2 864.7h0M808.2 867.3h0M799.2 869.9h0M830.2 872.3h0M827.3 873.8h0M828.2 875.3h0M827.4 876.8h0M826.2 878.3h0M819.8 879.8h0M816.2 881.3h0M817.3 882.8h0M800.2 884.3h0M793.2 886.7h0M820.2 888.9h0M820.2 891.0h0M827.1 892.5h0M830.2 894.0h0M839.1 895.5h0M842.2 897.0h0M817.2 898.5h0M820.2 900.0h0M833.5 901.5h0M838.2 903.0h0M837.8 904.5h0M834.2 906.0h0M830.2 907.5h0M822.2 909.0h0M846.6 910.5h0M845.2 912.0h0M829.0 913.5h0M830.2 915.0h0M830.5 917.0h0M852.2 919.0h0M795.2 920.6h0M829.0 922.3h0M830.2 924.0h0M827.6 925.5h0M814.2 927.0h0M815.7 928.5h0M820.2 930.0h0M784.2 932.0h0M835.2 934.0h0M810.6 935.5h0M806.2 937.0h0M806.9 939.2h0M854.2 941.4h0M820.2 944.1h0M814.5 945.6h0M812.2 947.1h0M829.2 949.1h0M811.4 950.6h0M808.2 952.1h0M806.9 953.8h0M794.2 955.5h0M798.0 957.1h0M764.2 958.7h0M810.2 960.7h0M786.2 963.1h0M780.5 964.6h0M776.2 966.1h0M781.1 968.1h0M814.2 970.1h0M779.3 972.1h0M778.2 974.1h0M782.2 975.6h0M790.2 977.1h0M788.4 978.6h0M786.2 980.1h0M809.2 982.7h0M877.3 985.1h0M797.2 987.5h0M774.2 990.1h0M772.1 991.6h0M772.2 993.1h0M775.8 994.9h0M792.2 996.7h0M772.2 999.1h0M770.4 1001.1h0M763.2 1003.1h0M768.1 1004.6h0M774.2 1006.1h0M779.4 1008.1h0M783.2 1010.1h0M754.1 1012.7h0M776.2 1015.1h0M795.2 1017.1h0M796.7 1018.6h0M811.2 1020.1h0M824.2 1022.7h0M829.2 1025.1h0M808.2 1027.1h0M747.1 1029.1h0M771.2 1030.7h0M842.2 1032.3h0M789.0 1033.7h0M794.2 1035.1h0M788.1 1036.6h0M784.2 1038.1h0M785.9 1039.6h0M770.2 1041.1h0M762.2 1043.1h0M808.2 1045.5h0M791.2 1048.1h0M756.1 1050.8h0M776.2 1053.2h0M772.0 1054.7h0M764.2 1056.2h0M765.9 1057.7h0M770.2 1059.2h0M778.2 1061.2h0M773.6 1062.7h0M772.2 1064.2h0M769.7 1065.7h0M750.1 1067.2h0M767.5 1068.7h0M770.2 1070.2h0M760.1 1072.2h0M756.1 1073.7h0M752.1 1075.2h0M754.7 1076.7h0M758.1 1078.2h0M758.5 1079.7h0M754.1 1081.2h0M769.6 1082.7h0M774.2 1084.2h0M771.7 1085.7h0M764.2 1087.2h0M765.6 1088.7h0M772.2 1090.2h0M786.2 1092.2h0M766.2 1094.2h0M769.2 1095.7h0M790.2 1097.2h0M775.4 1098.7h0M772.2 1100.2h0M773.6 1101.7h0M772.2 1103.2h0M758.1 1105.6h0M787.2 1107.6h0M760.1 1110.2h0M792.2 1112.8h0M792.5 1114.5h0M795.2 1116.2h0M804.2 1118.8h0M808.2 1121.2h0M768.2 1122.2h0M773.3 1123.7h0M774.2 1125.2h0M797.5 1126.7h0M800.2 1128.2h0M801.1 1129.7h0M806.2 1131.2h0M807.9 1132.7h0M773.2 1134.2h0M776.0 1135.7h0M774.2 1137.2h0M808.2 1139.2h0M798.2 1141.6h0M800.6 1143.4h0M801.2 1145.2h0M818.2 1147.6h0M774.2 1149.2h0M802.2 1151.6h0M795.2 1154.2h0M748.1 1156.2h0M724.1 1158.3h0M780.2 1160.9h0M774.8 1162.3h0M744.1 1163.7h0M743.8 1165.3h0M770.2 1166.9h0M756.1 1169.3h0M762.4 1170.8h0M764.2 1172.3h0M760.2 1173.8h0M752.1 1175.3h0M738.1 1177.3h0M800.2 1179.7h0M750.1 1182.3h0M780.2 1184.3h0M760.1 1186.9h0M736.1 1189.3h0M782.2 1191.7h0M787.2 1194.3h0M757.1 1196.7h0M776.2 1199.3h0M795.2 1201.7h0M778.2 1204.3h0M777.1 1205.8h0M800.2 1207.3h0M779.5 1208.8h0M780.2 1210.3h0M789.1 1211.8h0M793.2 1213.3h0M780.2 1215.7h0M814.2 1218.3h0M796.2 1220.9h0M780.2 1223.3h0M784.4 1224.8h0M792.2 1226.3h0M808.2 1228.7h0M782.2 1231.3h0M775.2 1233.7h0M780.2 1235.9h0M775.1 1237.5h0M772.2 1239.0h0M765.4 1240.7h0M764.6 1242.3h0M760.1 1244.0h0M760.5 1246.0h0M766.2 1248.0h0M771.7 1249.8h0M775.2 1251.6h0M759.6 1253.8h0M760.1 1256.0h0M754.7 1258.0h0M752.1 1260.0h0M748.0 1261.5h0M746.1 1263.0h0M753.5 1264.5h0M756.1 1266.0h0M757.9 1267.5h0M731.1 1269.0h0M773.3 1270.5h0M778.2 1272.0h0M760.3 1273.5h0M758.1 1275.0h0M756.3 1276.5h0M740.1 1278.0h0M769.2 1279.5h0M776.2 1281.0h0M773.0 1283.0h0M760.1 1285.0h0M776.1 1286.5h0M774.2 1288.0h0M779.8 1289.5h0M780.2 1291.1h0M776.1 1292.6h0M772.2 1294.1h0M774.8 1295.6h0M778.2 1297.1h0M774.0 1298.6h0M762.2 1300.1h0M777.0 1301.6h0M776.2 1303.1h0M777.0 1304.6h0M781.2 1306.1h0M778.9 1307.6h0M738.1 1309.1h0M753.8 1310.6h0M717.1 1312.1h0M767.3 1313.6h0M764.2 1315.1h0M767.8 1316.6h0M793.2 1318.1h0M766.0 1319.6h0M766.2 1321.1h0M769.0 1323.1h0M734.1 1325.1h0M775.1 1326.6h0M774.2 1328.1h0M769.3 1329.6h0M768.2 1331.1h0M768.0 1332.6h0M754.1 1334.1h0M753.9 1336.1h0M795.2 1338.1h0M791.7 1339.6h0M818.2 1341.1h0M678.1 1343.1h0M665.1 1345.7h0M704.1 1348.1h0M694.3 1349.8h0M720.1 1351.5h0M652.0 1354.1h0M647.0 1356.1h0M668.1 1358.1h0M655.1 1360.5h0M649.0 1363.1h0M662.1 1365.1h0M704.1 1366.5h0M772.2 1368.1h0M773.9 1369.6h0M778.2 1371.1h0M788.2 1373.7h0M744.1 1376.1h0M736.1 1378.5h0M712.1 1380.5h0M722.1 1383.1h0M715.1 1385.1h0M700.1 1387.7h0M744.1 1389.7h0M716.1 1392.1h0M774.2 1394.1h0M833.2 1396.7h0M758.1 1399.2h0M808.2 1401.8h0M765.2 1404.2h0M771.8 1405.7h0M777.2 1407.2h0M783.2 1408.6h0M839.2 1410.2h0M864.2 1412.2h0M860.3 1413.7h0M859.2 1415.2h0M862.2 1417.8h0M877.3 1419.8h0M882.3 1422.2h0M860.2 1423.6h0M845.2 1425.2h0M913.3 1427.2h0M856.2 1429.8h0M802.2 1431.2h0M812.2 1433.8h0M821.2 1436.2h0M810.2 1438.6h0M791.2 1440.6h0M827.2 1443.2h0M846.2 1445.8h0M807.2 1447.8h0M829.2 1450.2h0M810.2 1452.2h0M814.6 1453.7h0M821.2 1455.2h0M833.2 1457.2h0M850.2 1458.6h0M851.2 1461.2h0M803.2 1463.2h0M824.2 1465.2h0M837.7 1466.9h0M841.2 1468.6h0M813.2 1470.2h0M808.2 1472.2h0M872.3 1474.2h0M806.2 1476.6h0M800.2 1478.6h0M804.2 1480.2h0M830.2 1481.8h0M830.0 1483.5h0M705.1 1485.2h0M800.2 1487.2h0M758.1 1489.2h0M817.4 1490.7h0M821.2 1492.2h0M804.2 1494.2h0M836.2 1496.8h0M723.1 1499.2h0M777.5 1500.7h0M770.2 1502.2h0M764.8 1503.7h0M758.1 1505.3h0M788.9 1507.3h0M791.2 1509.3h0M813.2 1511.9h0M756.1 1514.3h0M773.4 1516.1h0M781.2 1517.9h0M762.2 1519.6h0M760.1 1521.3h0M764.1 1522.8h0M770.2 1524.3h0M787.2 1526.9h0M760.1 1528.4h0M760.1 1529.9h0M756.7 1531.3h0M720.1 1532.7h0M744.1 1535.3h0M760.1 1537.9h0M817.2 1540.3h0M745.1 1541.8h0M736.1 1543.3h0M757.7 1544.8h0M760.1 1546.3h0M760.4 1547.8h0M762.2 1549.3h0M767.8 1550.8h0M772.2 1552.3h0M768.9 1553.8h0M760.1 1555.3h0M759.4 1556.8h0M742.1 1558.3h0M758.1 1559.8h0M756.1 1561.3h0M754.5 1563.3h0M723.1 1565.3h0M788.2 1567.3h0M767.0 1568.8h0M770.2 1570.3h0M817.2 1572.3h0M780.7 1573.8h0M796.2 1575.3h0M815.2 1577.3h0M796.3 1578.8h0M715.1 1580.3h0M744.1 1582.9h0M740.1 1585.2h0M802.2 1587.8h0M800.2 1589.8h0M797.5 1591.2h0M815.2 1592.6h0M825.2 1594.6h0M712.1 1597.2h0M756.1 1599.2h0M757.2 1600.7h0M740.1 1602.2h0M728.1 1604.6h0M744.1 1607.2h0M745.1 1608.7h0M779.2 1610.2h0M780.2 1612.2h0M811.2 1614.2h0M768.2 1616.2h0M796.2 1618.2h0" stroke-width="8.3" stroke-linecap="round"/>
</g>
<g fill="none" stroke="#ff00ff">
<polyline points="848.2,202.6 874.3,205.0 847.2,207.4 860.2,210.0 871.3,212.6 848.2,215.0 870.3,217.4 847.2,220.0 851.8,221.5 860.2,223.0 872.3,225.4 844.2,227.0 854.2,229.0 880.3,231.4 863.2,234.0 844.2,236.0 823.2,237.6 799.2,239.4 825.6,241.0 815.2,242.6 831.2,244.0 882.3,246.0 881.3,248.0 798.2,250.1 862.5,251.6 864.2,253.1 842.2,255.1 869.7,257.1 872.3,259.1 868.4,260.6 850.2,262.1 853.1,263.8 879.3,265.5 864.2,268.1 856.2,270.1 857.2,271.6 860.2,273.1 866.8,274.6 871.3,276.1 831.2,278.1 849.2,280.1 855.1,281.6 864.2,283.1 868.9,284.6 868.2,286.1 817.2,288.1 856.2,290.7 801.2,293.1 837.2,295.1 860.2,297.1 856.6,299.1 856.2,301.1 852.7,303.1 852.2,305.1 852.1,307.1 849.2,309.1 847.2,311.1 844.2,313.1 846.9,314.9 881.3,316.7 846.7,318.4 831.2,320.1 902.3,321.7 868.2,324.1 879.9,325.6 882.3,327.1 876.3,329.1 840.2,331.5 875.3,334.1 862.2,336.1 852.2,337.5 814.2,338.7 831.2,341.1 798.2,343.1 819.6,344.6 816.2,346.1 844.2,348.1 827.8,349.6 826.2,351.1 828.2,352.6 808.2,354.1 832.2,356.8 833.9,358.2 906.3,359.6 830.2,362.2 854.2,364.2 822.2,366.2 808.2,367.8 814.7,369.3 765.2,370.8 777.2,372.2 836.2,374.2 835.0,375.7 856.2,377.2 851.2,378.8 821.2,380.2 821.5,381.7 797.2,383.2 813.2,385.2 819.5,386.7 868.2,388.2 826.2,390.2 843.2,392.2 794.2,393.8 817.2,395.6 834.2,398.2 868.2,399.2 897.3,400.8 796.2,403.2 781.2,405.2 776.6,406.7 776.2,408.2 770.2,410.8 787.2,412.2 780.2,414.2 800.2,416.2 773.2,418.2 770.2,420.2 792.2,422.2 778.2,424.2 782.4,425.7 790.2,427.2 806.2,429.2 819.2,431.2 826.2,433.6 820.2,436.2 814.2,438.8 814.6,440.8 833.2,442.8 776.2,445.2 806.2,447.6 810.6,449.4 816.2,451.2 820.6,452.7 825.2,454.2 824.3,455.9 828.2,457.6 806.2,460.2 806.8,461.9 772.2,463.6 853.2,465.3 790.2,467.7 789.1,469.3 804.2,470.9 784.2,473.3 761.1,475.3 790.2,477.7 753.1,479.3 748.1,481.7 737.1,484.3 797.2,486.3 817.2,488.9 822.2,491.3 819.1,493.0 812.2,494.7 815.1,496.2 814.2,497.7 810.2,500.3 759.1,502.3 814.2,504.9 811.3,506.3 765.2,507.7 816.2,510.3 815.1,511.8 818.2,513.3 815.1,514.8 816.2,516.3 825.2,518.7 816.2,521.3 801.2,523.7 822.2,526.3 807.2,528.9 807.9,531.1 780.2,533.3 772.2,535.3 765.2,537.7 758.1,540.3 822.2,541.9 823.2,544.4 818.5,546.0 813.2,547.6 815.0,549.3 761.1,551.0 807.5,552.5 806.2,554.0 807.1,555.5 804.2,557.0 786.4,558.7 786.2,560.4 760.1,562.0 767.6,564.0 769.2,566.0 732.1,568.0 723.4,570.0 719.1,572.0 744.7,573.5 746.1,575.0 676.1,577.0 736.1,579.4 729.4,581.0 667.1,582.6 694.1,585.0 697.7,586.5 705.1,588.0 685.7,589.5 685.1,591.0 691.0,592.5 698.1,594.0 669.1,596.5 694.1,599.1 660.1,601.5 665.3,603.3 668.1,605.1 698.1,607.1 682.9,608.6 684.1,610.1 679.1,612.5 687.3,614.8 756.1,617.1 756.6,619.1 798.2,621.1 754.3,622.6 766.2,624.1 740.1,626.1 743.1,627.6 716.1,629.1 760.1,631.1 761.8,632.6 794.2,634.1 755.6,635.6 756.1,637.1 753.7,638.6 751.1,640.1 788.2,642.1 775.5,643.6 693.1,645.1 689.1,647.1 691.2,648.8 663.1,650.5 666.7,652.3 667.1,654.1 668.1,655.6 670.1,657.1 700.1,658.5 686.9,660.3 686.1,662.1 703.1,664.1 698.4,665.6 694.1,667.1 682.1,669.7 681.1,672.1 675.1,674.5 678.2,676.3 655.1,678.1 662.0,679.6 664.1,681.1 669.1,683.1 671.0,684.6 677.1,686.1 713.1,688.7 659.1,691.1 662.1,692.6 689.1,694.1 660.1,696.1 678.5,697.6 678.1,699.1 660.1,701.1 657.3,702.6 676.1,704.2 677.1,705.7 662.1,707.2 661.1,709.8 672.1,712.2 681.1,714.6 669.1,717.2 702.1,719.8 669.1,722.2 662.1,724.6 659.1,727.2 666.6,728.7 671.1,730.2 664.1,732.2 669.6,733.7 679.1,735.2 668.6,736.7 663.1,738.2 668.1,739.7 676.1,741.2 677.5,742.7 684.1,744.2 687.1,746.6 688.1,749.2 684.1,751.2 705.1,753.6 668.1,756.2 678.1,758.6 684.1,761.2 687.1,763.2 700.1,764.6 706.1,767.2 734.1,769.8 680.1,771.2 688.1,772.7 692.1,774.2 662.1,776.2 684.9,777.7 676.1,779.2 684.1,780.6 713.1,782.8 691.9,784.5 694.1,786.2 687.5,787.7 714.1,789.2 668.1,791.2 676.1,793.8 700.1,796.2 703.6,797.7 748.1,799.2 815.2,801.6 726.1,803.8 740.1,806.2 767.2,808.2 749.7,809.7 748.1,811.3 702.1,813.9 701.5,815.6 702.1,817.3 746.3,819.0 748.1,820.7 747.1,822.3 743.1,823.9 720.1,825.9 733.1,828.3 710.1,830.7 708.1,832.3 706.1,833.8 698.1,835.3 691.1,837.3 667.1,839.9 684.1,842.3 696.1,844.3 692.1,846.3 717.1,848.3 710.2,849.8 709.1,851.3 681.1,853.3 698.1,855.9 710.2,857.6 741.1,859.3 732.9,860.8 730.1,862.3 716.1,864.7 730.1,867.3 737.1,869.9 714.1,872.3 713.6,873.8 716.1,875.3 715.7,876.8 718.1,878.3 720.4,879.8 726.1,881.3 723.2,882.8 741.1,884.3 749.1,886.7 720.1,888.9 722.1,891.0 711.1,893.4 713.5,895.0 688.1,896.6 720.1,898.3 718.1,900.0 702.1,902.6 712.1,905.0 707.4,906.5 696.1,908.0 701.0,909.5 716.1,911.0 710.0,912.5 688.1,914.0 707.0,915.5 706.1,917.0 680.1,919.4 726.1,920.6 702.1,923.0 700.4,924.5 694.1,926.0 708.9,927.5 718.1,929.0 705.9,930.5 733.1,932.0 696.1,934.6 716.1,937.0 714.6,939.2 680.1,941.4 708.1,944.1 714.9,945.6 720.1,947.1 699.1,949.1 704.8,950.6 720.1,952.1 709.5,953.8 706.1,955.5 711.5,957.1 754.1,958.7 706.1,960.7 729.0,962.1 728.1,963.5 726.7,965.3 720.1,967.1 724.5,968.6 706.1,970.1 749.1,972.1 739.7,973.6 736.1,975.1 731.5,976.6 728.1,978.1 726.6,979.6 722.1,981.1 709.1,982.7 672.1,985.1 696.6,986.6 791.2,988.1 748.1,990.7 736.1,993.1 728.8,994.9 724.1,996.7 748.1,999.1 748.6,1000.6 752.1,1002.1 740.1,1004.7 744.1,1007.1 744.9,1008.6 728.1,1010.1 760.1,1012.7 741.1,1014.7 720.1,1017.1 703.1,1019.1 697.7,1020.6 698.1,1022.1 698.9,1023.6 704.1,1025.1 753.1,1027.5 742.1,1030.1 692.1,1032.3 724.0,1033.7 720.1,1035.1 722.2,1036.6 730.1,1038.1 733.1,1039.6 748.1,1041.1 756.1,1043.1 718.1,1045.1 723.2,1046.6 728.1,1048.1 748.1,1050.8 724.1,1053.2 740.3,1054.7 744.1,1056.2 730.1,1057.7 730.1,1059.2 736.1,1061.6 740.1,1064.2 764.2,1066.2 737.7,1067.7 740.1,1069.2 748.1,1071.6 750.1,1074.2 764.2,1076.8 752.1,1079.2 755.8,1080.7 758.1,1082.2 737.1,1084.8 756.1,1087.2 751.9,1088.7 744.1,1090.2 724.1,1092.2 747.1,1094.2 747.0,1095.7 720.1,1097.2 742.6,1098.7 738.1,1100.2 739.9,1101.7 744.1,1103.2 767.2,1105.2 721.1,1107.6 759.1,1110.2 710.1,1112.8 714.6,1114.5 714.1,1116.2 712.1,1118.8 705.1,1121.2 744.1,1122.8 740.1,1125.2 707.3,1126.7 706.1,1128.2 702.3,1129.7 694.1,1131.2 714.0,1132.7 720.1,1134.2 731.1,1136.8 698.1,1139.2 701.1,1140.7 708.1,1142.2 713.0,1143.7 712.1,1145.2 691.1,1147.6 743.1,1149.2 712.1,1151.6 718.1,1154.2 756.1,1156.2 783.2,1158.9 717.1,1160.9 741.6,1162.3 754.1,1163.7 755.2,1165.3 730.1,1166.9 749.1,1169.3 744.8,1170.8 736.1,1172.3 736.7,1173.8 767.2,1175.3 760.1,1177.3 709.1,1179.7 756.1,1182.3 724.1,1184.3 748.1,1186.9 772.2,1189.3 720.1,1191.7 716.1,1194.3 749.1,1196.7 722.1,1199.3 714.1,1201.7 738.1,1204.3 709.0,1205.8 710.1,1207.3 715.0,1208.8 736.1,1210.3 721.9,1211.8 720.1,1213.3 736.1,1215.7 694.1,1218.3 718.1,1220.9 734.1,1223.3 718.5,1224.8 720.1,1226.3 701.1,1228.7 728.1,1231.3 770.2,1233.7 740.1,1235.9 741.9,1237.5 746.1,1239.0 743.3,1241.0 744.1,1243.0 748.7,1244.5 749.1,1246.0 744.4,1247.7 744.4,1249.3 738.1,1251.0 741.7,1253.0 762.2,1255.0 762.5,1257.0 758.1,1259.0 759.9,1261.0 763.2,1263.0 764.1,1265.0 742.1,1267.0 745.7,1268.7 787.2,1270.4 769.5,1272.2 721.1,1274.0 774.0,1276.0 772.2,1278.0 733.6,1279.8 728.1,1281.6 747.8,1283.3 747.1,1285.0 743.9,1286.5 736.1,1288.0 729.0,1289.5 726.1,1291.1 738.8,1292.6 740.1,1294.1 744.3,1296.1 752.1,1298.1 734.6,1299.6 732.1,1301.1 728.5,1302.7 726.2,1304.4 726.1,1306.1 728.9,1307.6 767.2,1309.1 764.5,1310.6 796.2,1312.1 735.4,1313.6 732.1,1315.1 711.1,1317.7 749.2,1319.4 746.1,1321.1 747.3,1323.1 760.1,1325.1 750.3,1326.6 774.2,1328.1 726.2,1329.6 724.1,1331.1 742.6,1332.6 740.1,1334.1 741.9,1336.1 720.1,1338.1 713.2,1339.6 709.1,1341.1 744.4,1342.6 860.2,1344.1 889.3,1345.7 818.2,1348.1 813.5,1349.8 809.2,1351.5 916.3,1353.1 930.3,1355.7 872.3,1357.7 912.3,1359.7 905.8,1361.1 931.3,1362.5 890.3,1365.1 829.2,1366.5 736.1,1368.1 734.3,1369.6 732.1,1371.1 724.3,1372.6 721.1,1374.1 791.2,1376.1 773.2,1378.5 797.2,1380.5 820.2,1382.1 800.2,1384.5 808.2,1387.1 758.1,1389.1 736.1,1391.1 794.2,1393.7 783.7,1395.2 688.1,1396.7 750.1,1399.2 709.1,1401.8 752.1,1404.2 751.2,1405.7 746.1,1407.2 722.1,1409.8 698.1,1411.8 699.0,1413.5 700.1,1415.2 698.6,1416.7 684.1,1418.2 700.1,1420.2 686.1,1422.2 742.1,1424.2 680.8,1425.7 681.1,1427.2 746.1,1429.8 743.5,1431.5 768.2,1433.2 737.9,1434.7 736.1,1436.2 726.1,1438.6 753.1,1440.6 728.1,1443.2 732.5,1444.7 711.1,1446.2 748.1,1448.2 728.6,1449.7 728.1,1451.2 731.6,1452.7 746.1,1454.2 740.5,1455.7 738.1,1457.2 708.1,1459.2 703.1,1461.8 742.1,1463.2 723.3,1464.7 720.1,1466.2 717.5,1467.7 716.1,1469.2 738.1,1470.6 730.7,1472.4 690.1,1474.2 749.1,1476.2 751.7,1477.7 752.1,1479.2 723.1,1481.8 725.6,1483.5 821.2,1485.2 712.1,1487.2 774.2,1489.2 764.7,1490.7 697.1,1492.2 748.1,1494.6 684.1,1496.8 786.2,1498.2 738.2,1499.7 734.1,1501.2 755.3,1502.7 760.1,1504.2 759.8,1505.8 754.1,1507.3 754.0,1508.8 730.1,1510.3 760.8,1511.8 772.2,1513.3 739.5,1514.8 730.1,1516.3 737.3,1517.8 768.2,1519.3 742.3,1520.8 744.1,1522.3 742.9,1523.8 738.1,1525.3 728.1,1527.3 750.2,1528.8 752.1,1530.3 791.2,1532.7 770.2,1535.3 760.1,1537.3 760.7,1538.8 707.1,1540.3 779.4,1541.8 783.2,1543.3 777.2,1544.8 772.2,1546.3 740.1,1548.7 748.1,1551.3 754.2,1552.8 758.1,1554.3 772.6,1555.8 774.2,1557.3 777.2,1559.9 758.1,1562.3 758.8,1563.8 793.2,1565.3 726.1,1567.3 759.4,1568.8 762.2,1570.3 712.1,1572.7 704.1,1574.7 730.1,1577.3 731.6,1578.8 789.2,1580.3 809.2,1582.9 736.1,1585.2 730.1,1587.8 748.1,1589.8 750.0,1591.2 709.1,1592.6 706.1,1595.2 804.2,1597.2 760.1,1599.2 763.3,1600.7 774.2,1602.2 797.2,1604.6 760.1,1607.2 755.8,1608.7 756.1,1610.2 732.1,1612.2 709.1,1614.2 756.1,1616.2 758.4,1617.7 736.1,1619.2" stroke-width="1.5" stroke-linejoin="round" shape-rendering="crispEdges"/>
<path d="M848.2 202.6h0M874.3 205.0h0M847.2 207.4h0M860.2 210.0h0M871.3 212.6h0M848.2 215.0h0M870.3 217.4h0M847.2 220.0h0M851.8 221.5h0M860.2 223.0h0M872.3 225.4h0M844.2 227.0h0M854.2 229.0h0M880.3 231.4h0M863.2 234.0h0M844.2 236.0h0M823.2 237.6h0M799.2 239.4h0M825.6 241.0h0M815.2 242.6h0M831.2 244.0h0M882.3 246.0h0M881.3 248.0h0M798.2 250.1h0M862.5 251.6h0M864.2 253.1h0M842.2 255.1h0M869.7 257.1h0M872.3 259.1h0M868.4 260.6h0M850.2 262.1h0M853.1 263.8h0M879.3 265.5h0M864.2 268.1h0M856.2 270.1h0M857.2 271.6h0M860.2 273.1h0M866.8 274.6h0M871.3 276.1h0M831.2 278.1h0M849.2 280.1h0M855.1 281.6h0M864.2 283.1h0M868.9 284.6h0M868.2 286.1h0M817.2 288.1h0M856.2 290.7h0M801.2 293.1h0M837.2 295.1h0M860.2 297.1h0M856.6 299.1h0M856.2 301.1h0M852.7 303.1h0M852.2 305.1h0M852.1 307.1h0M849.2 309.1h0M847.2 311.1h0M844.2 313.1h0M846.9 314.9h0M881.3 316.7h0M846.7 318.4h0M831.2 320.1h0M902.3 321.7h0M868.2 324.1h0M879.9 325.6h0M882.3 327.1h0M876.3 329.1h0M840.2 331.5h0M875.3 334.1h0M862.2 336.1h0M852.2 337.5h0M814.2 338.7h0M831.2 341.1h0M798.2 343.1h0M819.6 344.6h0M816.2 346.1h0M844.2 348.1h0M827.8 349.6h0M826.2 351.1h0M828.2 352.6h0M808.2 354.1h0M832.2 356.8h0M833.9 358.2h0M906.3 359.6h0M830.2 362.2h0M854.2 364.2h0M822.2 366.2h0M808.2 367.8h0M814.7 369.3h0M765.2 370.8h0M777.2 372.2h0M836.2 374.2h0M835.0 375.7h0M856.2 377.2h0M851.2 378.8h0M821.2 380.2h0M821.5 381.7h0M797.2 383.2h0M813.2 385.2h0M819.5 386.7h0M868.2 388.2h0M826.2 390.2h0M843.2 392.2h0M794.2 393.8h0M817.2 395.6h0M834.2 398.2h0M868.2 399.2h0M897.3 400.8h0M796.2 403.2h0M781.2 405.2h0M776.6 406.7h0M776.2 408.2h0M770.2 410.8h0M787.2 412.2h0M780.2 414.2h0M800.2 416.2h0M773.2 418.2h0M770.2 420.2h0M792.2 422.2h0M778.2 424.2h0M782.4 425.7h0M790.2 427.2h0M806.2 429.2h0M819.2 431.2h0M826.2 433.6h0M820.2 436.2h0M814.2 438.8h0M814.6 440.8h0M833.2 442.8h0M776.2 445.2h0M806.2 447.6h0M810.6 449.4h0M816.2 451.2h0M820.6 452.7h0M825.2 454.2h0M824.3 455.9h0M828.2 457.6h0M806.2 460.2h0M806.8 461.9h0M772.2 463.6h0M853.2 465.3h0M790.2 467.7h0M789.1 469.3h0M804.2 470.9h0M784.2 473.3h0M761.1 475.3h0M790.2 477.7h0M753.1 479.3h0M748.1 481.7h0M737.1 484.3h0M797.2 486.3h0M817.2 488.9h0M822.2 491.3h0M819.1 493.0h0M812.2 494.7h0M815.1 496.2h0M814.2 497.7h0M810.2 500.3h0M759.1 502.3h0M814.2 504.9h0M811.3 506.3h0M765.2 507.7h0M816.2 510.3h0M815.1 511.8h0M818.2 513.3h0M815.1 514.8h0M816.2 516.3h0M825.2 518.7h0M816.2 521.3h0M801.2 523.7h0M822.2 526.3h0M807.2 528.9h0M807.9 531.1h0M780.2 533.3h0M772.2 535.3h0M765.2 537.7h0M758.1 540.3h0M822.2 541.9h0M823.2 544.4h0M818.5 546.0h0M813.2 547.6h0M815.0 549.3h0M761.1 551.0h0M807.5 552.5h0M806.2 554.0h0M807.1 555.5h0M804.2 557.0h0M786.4 558.7h0M786.2 560.4h0M760.1 562.0h0M767.6 564.0h0M769.2 566.0h0M732.1 568.0h0M723.4 570.0h0M719.1 572.0h0M744.7 573.5h0M746.1 575.0h0M676.1 577.0h0M736.1 579.4h0M729.4 581.0h0M667.1 582.6h0M694.1 585.0h0M697.7 586.5h0M705.1 588.0h0M685.7 589.5h0M685.1 591.0h0M691.0 592.5h0M698.1 594.0h0M669.1 596.5h0M694.1 599.1h0M660.1 601.5h0M665.3 603.3h0M668.1 605.1h0M698.1 607.1h0M682.9 608.6h0M684.1 610.1h0M679.1 612.5h0M687.3 614.8h0M756.1 617.1h0M756.6 619.1h0M798.2 621.1h0M754.3 622.6h0M766.2 624.1h0M740.1 626.1h0M743.1 627.6h0M716.1 629.1h0M760.1 631.1h0M761.8 632.6h0M794.2 634.1h0M755.6 635.6h0M756.1 637.1h0M753.7 638.6h0M751.1 640.1h0M788.2 642.1h0M775.5 643.6h0M693.1 645.1h0M689.1 647.1h0M691.2 648.8h0M663.1 650.5h0M666.7 652.3h0M667.1 654.1h0M668.1 655.6h0M670.1 657.1h0M700.1 658.5h0M686.9 660.3h0M686.1 662.1h0M703.1 664.1h0M698.4 665.6h0M694.1 667.1h0M682.1 669.7h0M681.1 672.1h0M675.1 674.5h0M678.2 676.3h0M655.1 678.1h0M662.0 679.6h0M664.1 681.1h0M669.1 683.1h0M671.0 684.6h0M677.1 686.1h0M713.1 688.7h0M659.1 691.1h0M662.1 692.6h0M689.1 694.1h0M660.1 696.1h0M678.5 697.6h0M678.1 699.1h0M660.1 701.1h0M657.3 702.6h0M676.1 704.2h0M677.1 705.7h0M662.1 707.2h0M661.1 709.8h0M672.1 712.2h0M681.1 714.6h0M669.1 717.2h0M702.1 719.8h0M669.1 722.2h0M662.1 724.6h0M659.1 727.2h0M666.6 728.7h0M671.1 730.2h0M664.1 732.2h0M669.6 733.7h0M679.1 735.2h0M668.6 736.7h0M663.1 738.2h0M668.1 739.7h0M676.1 741.2h0M677.5 742.7h0M684.1 744.2h0M687.1 746.6h0M688.1 749.2h0M684.1 751.2h0M705.1 753.6h0M668.1 756.2h0M678.1 758.6h0M684.1 761.2h0M687.1 763.2h0M700.1 764.6h0M706.1 767.2h0M734.1 769.8h0M680.1 771.2h0M688.1 772.7h0M692.1 774.2h0M662.1 776.2h0M684.9 777.7h0M676.1 779.2h0M684.1 780.6h0M713.1 782.8h0M691.9 784.5h0M694.1 786.2h0M687.5 787.7h0M714.1 789.2h0M668.1 791.2h0M676.1 793.8h0M700.1 796.2h0M703.6 797.7h0M748.1 799.2h0M815.2 801.6h0M726.1 803.8h0M740.1 806.2h0M767.2 808.2h0M749.7 809.7h0M748.1 811.3h0M702.1 813.9h0M701.5 815.6h0M702.1 817.3h0M746.3 819.0h0M748.1 820.7h0M747.1 822.3h0M743.1 823.9h0M720.1 825.9h0M733.1 828.3h0M710.1 830.7h0M708.1 832.3h0M706.1 833.8h0M698.1 835.3h0M691.1 837.3h0M667.1 839.9h0M684.1 842.3h0M696.1 844.3h0M692.1 846.3h0M717.1 848.3h0M710.2 849.8h0M709.1 851.3h0M681.1 853.3h0M698.1 855.9h0M710.2 857.6h0M741.1 859.3h0M732.9 860.8h0M730.1 862.3h0M716.1 864.7h0M730.1 867.3h0M737.1 869.9h0M714.1 872.3h0M713.6 873.8h0M716.1 875.3h0M715.7 876.8h0M718.1 878.3h0M720.4 879.8h0M726.1 881.3h0M723.2 882.8h0M741.1 884.3h0M749.1 886.7h0M720.1 888.9h0M722.1 891.0h0M711.1 893.4h0M713.5 895.0h0M688.1 896.6h0M720.1 898.3h0M718.1 900.0h0M702.1 902.6h0M712.1 905.0h0M707.4 906.5h0M696.1 908.0h0M701.0 909.5h0M716.1 911.0h0M710.0 912.5h0M688.1 914.0h0M707.0 915.5h0M706.1 917.0h0M680.1 919.4h0M726.1 920.6h0M702.1 923.0h0M700.4 924.5h0M694.1 926.0h0M708.9 927.5h0M718.1 929.0h0M705.9 930.5h0M733.1 932.0h0M696.1 934.6h0M716.1 937.0h0M714.6 939.2h0M680.1 941.4h0M708.1 944.1h0M714.9 945.6h0M720.1 947.1h0M699.1 949.1h0M704.8 950.6h0M720.1 952.1h0M709.5 953.8h0M706.1 955.5h0M711.5 957.1h0M754.1 958.7h0M706.1 960.7h0M729.0 962.1h0M728.1 963.5h0M726.7 965.3h0M720.1 967.1h0M724.5 968.6h0M706.1 970.1h0M749.1 972.1h0M739.7 973.6h0M736.1 975.1h0M731.5 976.6h0M728.1 978.1h0M726.6 979.6h0M722.1 981.1h0M709.1 982.7h0M672.1 985.1h0M696.6 986.6h0M791.2 988.1h0M748.1 990.7h0M736.1 993.1h0M728.8 994.9h0M724.1 996.7h0M748.1 999.1h0M748.6 1000.6h0M752.1 1002.1h0M740.1 1004.7h0M744.1 1007.1h0M744.9 1008.6h0M728.1 1010.1h0M760.1 1012.7h0M741.1 1014.7h0M720.1 1017.1h0M703.1 1019.1h0M697.7 1020.6h0M698.1 1022.1h0M698.9 1023.6h0M704.1 1025.1h0M753.1 1027.5h0M742.1 1030.1h0M692.1 1032.3h0M724.0 1033.7h0M720.1 1035.1h0M722.2 1036.6h0M730.1 1038.1h0M733.1 1039.6h0M748.1 1041.1h0M756.1 1043.1h0M718.1 1045.1h0M723.2 1046.6h0M728.1 1048.1h0M748.1 1050.8h0M724.1 1053.2h0M740.3 1054.7h0M744.1 1056.2h0M730.1 1057.7h0M730.1 1059.2h0M736.1 1061.6h0M740.1 1064.2h0M764.2 1066.2h0M737.7 1067.7h0M740.1 1069.2h0M748.1 1071.6h0M750.1 1074.2h0M764.2 1076.8h0M752.1 1079.2h0M755.8 1080.7h0M758.1 1082.2h0M737.1 1084.8h0M756.1 1087.2h0M751.9 1088.7h0M744.1 1090.2h0M724.1 1092.2h0M747.1 1094.2h0M747.0 1095.7h0M720.1 1097.2h0M742.6 1098.7h0M738.1 1100.2h0M739.9 1101.7h0M744.1 1103.2h0M767.2 1105.2h0M721.1 1107.6h0M759.1 1110.2h0M710.1 1112.8h0M714.6 1114.5h0M714.1 1116.2h0M712.1 1118.8h0M705.1 1121.2h0M744.1 1122.8h0M740.1 1125.2h0M707.3 1126.7h0M706.1 1128.2h0M702.3 1129.7h0M694.1 1131.2h0M714.0 1132.7h0M720.1 1134.2h0M731.1 1136.8h0M698.1 1139.2h0M701.1 1140.7h0M708.1 1142.2h0M713.0 1143.7h0M712.1 1145.2h0M691.1 1147.6h0M743.1 1149.2h0M712.1 1151.6h0M718.1 1154.2h0M756.1 1156.2h0M783.2 1158.9h0M717.1 1160.9h0M741.6 1162.3h0M754.1 1163.7h0M755.2 1165.3h0M730.1 1166.9h0M749.1 1169.3h0M744.8 1170.8h0M736.1 1172.3h0M736.7 1173.8h0M767.2 1175.3h0M760.1 1177.3h0M709.1 1179.7h0M756.1 1182.3h0M724.1 1184.3h0M748.1 1186.9h0M772.2 1189.3h0M720.1 1191.7h0M716.1 1194.3h0M749.1 1196.7h0M722.1 1199.3h0M714.1 1201.7h0M738.1 1204.3h0M709.0 1205.8h0M710.1 1207.3h0M715.0 1208.8h0M736.1 1210.3h0M721.9 1211.8h0M720.1 1213.3h0M736.1 1215.7h0M694.1 1218.3h0M718.1 1220.9h0M734.1 1223.3h0M718.5 1224.8h0M720.1 1226.3h0M701.1 1228.7h0M728.1 1231.3h0M770.2 1233.7h0M740.1 1235.9h0M741.9 1237.5h0M746.1 1239.0h0M743.3 1241.0h0M744.1 1243.0h0M748.7 1244.5h0M749.1 1246.0h0M744.4 1247.7h0M744.4 1249.3h0M738.1 1251.0h0M741.7 1253.0h0M762.2 1255.0h0M762.5 1257.0h0M758.1 1259.0h0M759.9 1261.0h0M763.2 1263.0h0M764.1 1265.0h0M742.1 1267.0h0M745.7 1268.7h0M787.2 1270.4h0M769.5 1272.2h0M721.1 1274.0h0M774.0 1276.0h0M772.2 1278.0h0M733.6 1279.8h0M728.1 1281.6h0M747.8 1283.3h0M747.1 1285.0h0M743.9 1286.5h0M736.1 1288.0h0M729.0 1289.5h0M726.1 1291.1h0M738.8 1292.6h0M740.1 1294.1h0M744.3 1296.1h0M752.1 1298.1h0M734.6 1299.6h0M732.1 1301.1h0M728.5 1302.7h0M726.2 1304.4h0M726.1 1306.1h0M728.9 1307.6h0M767.2 1309.1h0M764.5 1310.6h0M796.2 1312.1h0M735.4 1313.6h0M732.1 1315.1h0M711.1 1317.7h0M749.2 1319.4h0M746.1 1321.1h0M747.3 1323.1h0M760.1 1325.1h0M750.3 1326.6h0M774.2 1328.1h0M726.2 1329.6h0M724.1 1331.1h0M742.6 1332.6h0M740.1 1334.1h0M741.9 1336.1h0M720.1 1338.1h0M713.2 1339.6h0M709.1 1341.1h0M744.4 1342.6h0M860.2 1344.1h0M889.3 1345.7h0M818.2 1348.1h0M813.5 1349.8h0M809.2 1351.5h0M916.3 1353.1h0M930.3 1355.7h0M872.3 1357.7h0M912.3 1359.7h0M905.8 1361.1h0M931.3 1362.5h0M890.3 1365.1h0M829.2 1366.5h0M736.1 1368.1h0M734.3 1369.6h0M732.1 1371.1h0M724.3 1372.6h0M721.1 1374.1h0M791.2 1376.1h0M773.2 1378.5h0M797.2 1380.5h0M820.2 1382.1h0M800.2 1384.5h0M808.2 1387.1h0M758.1 1389.1h0M736.1 1391.1h0M794.2 1393.7h0M783.7 1395.2h0M688.1 1396.7h0M750.1 1399.2h0M709.1 1401.8h0M752.1 1404.2h0M751.2 1405.7h0M746.1 1407.2h0M722.1 1409.8h0M698.1 1411.8h0M699.0 1413.5h0M700.1 1415.2h0M698.6 1416.7h0M684.1 1418.2h0M700.1 1420.2h0M686.1 1422.2h0M742.1 1424.2h0M680.8 1425.7h0M681.1 1427.2h0M746.1 1429.8h0M743.5 1431.5h0M768.2 1433.2h0M737.9 1434.7h0M736.1 1436.2h0M726.1 1438.6h0M753.1 1440.6h0M728.1 1443.2h0M732.5 1444.7h0M711.1 1446.2h0M748.1 1448.2h0M728.6 1449.7h0M728.1 1451.2h0M731.6 1452.7h0M746.1 1454.2h0M740.5 1455.7h0M738.1 1457.2h0M708.1 1459.2h0M703.1 1461.8h0M742.1 1463.2h0M723.3 1464.7h0M720.1 1466.2h0M717.5 1467.7h0M716.1 1469.2h0M738.1 1470.6h0M730.7 1472.4h0M690.1 1474.2h0M749.1 1476.2h0M751.7 1477.7h0M752.1 1479.2h0M723.1 1481.8h0M725.6 1483.5h0M821.2 1485.2h0M712.1 1487.2h0M774.2 1489.2h0M764.7 1490.7h0M697.1 1492.2h0M748.1 1494.6h0M684.1 1496.8h0M786.2 1498.2h0M738.2 1499.7h0M734.1 1501.2h0M755.3 1502.7h0M760.1 1504.2h0M759.8 1505.8h0M754.1 1507.3h0M754.0 1508.8h0M730.1 1510.3h0M760.8 1511.8h0M772.2 1513.3h0M739.5 1514.8h0M730.1 1516.3h0M737.3 1517.8h0M768.2 1519.3h0M742.3 1520.8h0M744.1 1522.3h0M742.9 1523.8h0M738.1 1525.3h0M728.1 1527.3h0M750.2 1528.8h0M752.1 1530.3h0M791.2 1532.7h0M770.2 1535.3h0M760.1 1537.3h0M760.7 1538.8h0M707.1 1540.3h0M779.4 1541.8h0M783.2 1543.3h0M777.2 1544.8h0M772.2 1546.3h0M740.1 1548.7h0M748.1 1551.3h0M754.2 1552.8h0M758.1 1554.3h0M772.6 1555.8h0M774.2 1557.3h0M777.2 1559.9h0M758.1 1562.3h0M758.8 1563.8h0M793.2 1565.3h0M726.1 1567.3h0M759.4 1568.8h0M762.2 1570.3h0M712.1 1572.7h0M704.1 1574.7h0M730.1 1577.3h0M731.6 1578.8h0M789.2 1580.3h0M809.2 1582.9h0M736.1 1585.2h0M730.1 1587.8h0M748.1 1589.8h0M750.0 1591.2h0M709.1 1592.6h0M706.1 1595.2h0M804.2 1597.2h0M760.1 1599.2h0M763.3 1600.7h0M774.2 1602.2h0M797.2 1604.6h0M760.1 1607.2h0M755.8 1608.7h0M756.1 1610.2h0M732.1 1612.2h0M709.1 1614.2h0M756.1 1616.2h0M758.4 1617.7h0M736.1 1619.2h0" stroke-width="8.3" stroke-linecap="round"/>
</g>
<path d="M623.0 186.7V202.9H976.8V186.7" fill="none" stroke="#ff00ff" stroke-width="2.8" stroke-linejoin="miter"/>
<line x1="693.8" y1="202.9" x2="693.8" y2="186.7" stroke="#ff00ff" stroke-width="3.0" />
<line x1="764.5" y1="202.9" x2="764.5" y2="186.7" stroke="#ff00ff" stroke-width="3.0" />
<line x1="835.3" y1="202.9" x2="835.3" y2="186.7" stroke="#ff00ff" stroke-width="3.0" />
<line x1="906.0" y1="202.9" x2="906.0" y2="186.7" stroke="#ff00ff" stroke-width="3.0" />
<text transform="translate(622.6,163.6) scale(1,1.04)" font-size="49.6" text-anchor="middle" fill="#ff00ff" >3</text>
<text transform="translate(693.4,163.6) scale(1,1.04)" font-size="49.6" text-anchor="middle" fill="#ff00ff" >4</text>
<text transform="translate(764.1,163.6) scale(1,1.04)" font-size="49.6" text-anchor="middle" fill="#ff00ff" >5</text>
<text transform="translate(834.9,163.6) scale(1,1.04)" font-size="49.6" text-anchor="middle" fill="#ff00ff" >6</text>
<text transform="translate(905.6,163.6) scale(1,1.04)" font-size="49.6" text-anchor="middle" fill="#ff00ff" >7</text>
<text transform="translate(976.4,163.6) scale(1,1.04)" font-size="49.6" text-anchor="middle" fill="#ff00ff" >8</text>
<text x="800.5" y="57.0" font-size="58.5" text-anchor="middle" fill="#ff00ff" letter-spacing="1.8">Mz (&#966;)</text>
<path d="M623.0 1641.1V1620.1H976.8V1641.1" fill="none" stroke="#000" stroke-width="2.0" stroke-linejoin="miter"/>
<line x1="682.0" y1="1620.1" x2="682.0" y2="1633.1" stroke="#000" stroke-width="2.0" />
<line x1="740.9" y1="1620.1" x2="740.9" y2="1641.1" stroke="#000" stroke-width="2.0" />
<line x1="799.9" y1="1620.1" x2="799.9" y2="1633.1" stroke="#000" stroke-width="2.0" />
<line x1="858.9" y1="1620.1" x2="858.9" y2="1641.1" stroke="#000" stroke-width="2.0" />
<line x1="917.8" y1="1620.1" x2="917.8" y2="1633.1" stroke="#000" stroke-width="2.0" />
<text transform="translate(623.0,1709.5) scale(1,1.04)" font-size="49.6" text-anchor="middle" fill="#000" >0</text>
<text transform="translate(742.4,1709.5) scale(1,1.04)" font-size="49.6" text-anchor="middle" fill="#000" >50</text>
<text transform="translate(860.4,1709.5) scale(1,1.04)" font-size="49.6" text-anchor="middle" fill="#000" >100</text>
<text transform="translate(978.3,1709.5) scale(1,1.04)" font-size="49.6" text-anchor="middle" fill="#000" >150</text>
<text x="800.0" y="1783.0" font-size="58.5" text-anchor="middle" fill="#000" >Mz (&#956;m)</text>
<clipPath id="c1"><rect x="996.1" y="194.9" width="395.5" height="1433.2"/></clipPath>
<g fill="none" stroke="#000" clip-path="url(#c1)">
<polyline points="1178.2,203.0 1199.3,204.5 1197.2,206.0 1195.4,207.5 1188.2,209.0 1192.4,211.0 1199.2,213.0 1212.2,215.0 1195.9,216.5 1192.2,218.0 1179.2,220.6 1211.2,223.0 1222.2,225.0 1218.2,226.5 1212.2,228.0 1208.8,229.5 1237.2,231.0 1213.7,232.5 1212.2,234.0 1212.1,235.5 1177.2,237.0 1132.1,239.4 1174.7,241.0 1166.2,242.6 1198.2,244.0 1225.2,246.0 1185.8,248.0 1171.2,250.1 1222.2,252.1 1210.2,254.7 1220.7,256.1 1226.2,257.5 1228.3,259.3 1190.2,261.1 1227.3,262.6 1226.2,264.1 1243.2,266.1 1239.1,268.1 1234.2,270.1 1217.2,272.1 1223.9,274.1 1225.2,276.1 1192.2,277.5 1207.5,279.3 1207.2,281.1 1205.0,282.6 1198.2,284.1 1197.5,285.6 1195.2,287.1 1127.1,288.7 1176.2,291.1 1129.1,293.1 1183.2,295.1 1214.2,297.1 1214.1,298.6 1216.2,300.1 1215.2,301.6 1219.2,303.1 1223.3,304.6 1222.2,306.1 1221.2,308.7 1206.2,310.1 1195.2,312.1 1201.2,314.7 1212.2,316.1 1263.2,318.1 1249.2,320.1 1181.2,321.7 1223.1,323.2 1222.2,324.7 1213.2,326.7 1216.3,328.1 1238.2,329.5 1172.2,331.5 1232.2,334.1 1224.2,336.7 1179.2,338.1 1176.2,340.7 1165.2,343.1 1205.2,344.7 1175.2,347.1 1240.2,348.1 1224.2,350.1 1203.2,352.1 1196.2,354.1 1169.8,355.7 1212.8,357.5 1216.2,359.2 1180.2,361.2 1196.3,362.7 1197.2,364.2 1212.2,366.2 1217.2,367.6 1162.2,369.2 1094.1,371.2 1114.1,372.8 1193.2,374.2 1194.0,375.7 1200.2,377.2 1207.2,378.2 1176.2,380.2 1122.1,382.2 1146.1,384.2 1169.2,386.2 1244.2,388.2 1188.2,390.2 1185.2,392.2 1167.2,393.6 1130.1,395.2 1171.0,396.7 1161.1,398.2 1196.2,399.2 1210.2,401.2 1172.2,403.6 1158.6,405.2 1157.1,406.8 1187.2,408.8 1127.1,410.8 1148.1,412.2 1111.1,414.6 1161.1,416.2 1189.2,418.2 1142.1,420.8 1133.1,422.2 1158.7,423.7 1162.2,425.2 1141.1,427.6 1149.1,429.6 1160.1,432.2 1154.1,434.2 1170.2,435.2 1169.1,436.7 1188.2,438.2 1181.2,440.2 1199.2,442.8 1121.1,444.2 1121.1,446.2 1182.2,448.8 1137.1,450.8 1159.1,452.2 1180.2,454.2 1143.1,456.8 1144.1,459.2 1154.1,461.2 1150.4,462.7 1141.1,464.3 1257.2,465.7 1207.2,466.9 1192.2,469.3 1185.2,471.7 1174.2,473.3 1208.2,474.9 1123.1,477.3 1170.2,478.9 1233.2,480.3 1224.2,482.9 1236.2,484.3 1250.2,486.3 1234.2,488.9 1233.9,490.3 1265.2,491.7 1261.3,493.3 1260.2,494.9 1232.2,496.9 1238.2,499.3 1234.2,500.8 1254.2,502.3 1218.6,503.8 1210.2,505.3 1223.2,507.7 1216.3,509.2 1121.1,510.7 1126.1,513.3 1149.1,514.8 1146.1,516.3 1128.1,518.9 1130.0,520.3 1195.2,521.7 1144.1,524.3 1144.7,525.8 1128.1,527.3 1159.1,529.3 1163.3,530.8 1170.2,532.3 1171.9,533.8 1116.1,535.3 1210.3,536.8 1221.2,538.3 1296.3,540.3 1220.2,541.9 1226.2,544.0 1168.6,546.0 1233.8,547.5 1234.2,549.0 1316.3,551.6 1183.8,553.3 1153.1,555.0 1277.3,557.6 1220.2,560.0 1241.6,561.5 1238.2,563.0 1234.9,564.5 1218.2,566.0 1241.5,568.0 1241.2,570.0 1242.1,571.7 1256.2,573.4 1153.1,576.0 1260.0,577.7 1296.3,579.4 1148.1,582.0 1224.0,583.5 1224.2,585.0 1232.2,587.6 1236.2,590.0 1232.0,591.5 1187.2,593.0 1237.2,595.6 1234.3,597.1 1135.1,598.5 1161.7,600.0 1097.1,601.5 1129.1,604.1 1225.2,606.7 1179.1,608.2 1176.2,609.7 1173.0,611.1 1155.7,612.5 1191.5,614.2 1190.3,615.9 1300.3,617.7 1295.2,619.1 1288.3,620.5 1293.2,622.1 1299.3,623.7 1306.3,626.1 1267.2,628.7 1287.4,630.1 1290.3,631.5 1298.3,634.1 1248.2,636.1 1249.6,637.6 1249.2,639.1 1249.5,640.6 1264.2,642.1 1259.3,643.6 1150.1,645.1 1128.1,647.7 1133.6,649.1 1060.1,650.5 1087.1,653.1 1121.0,654.6 1110.1,656.1 1201.2,658.5 1177.2,661.1 1168.2,663.7 1167.9,665.4 1195.2,667.1 1145.1,669.7 1149.7,671.1 1154.1,672.5 1166.2,675.1 1062.5,677.7 1128.1,680.1 1105.1,682.1 1132.1,684.1 1147.7,686.1 1331.3,688.7 1098.1,691.1 1232.2,693.7 1102.1,695.7 1179.2,697.7 1105.1,700.1 1148.1,702.1 1114.1,704.6 1158.1,706.6 1124.1,708.6 1140.1,711.2 1158.1,713.2 1163.2,715.2 1128.7,716.7 1120.1,718.2 1264.2,719.8 1125.1,722.2 1053.0,724.6 1065.1,726.6 1050.0,729.2 1093.1,731.2 1058.1,733.8 1136.1,735.8 1091.1,738.2 1124.1,740.2 1147.1,742.2 1145.2,743.7 1187.2,745.2 1174.2,747.2 1180.2,749.2 1167.2,751.8 1244.2,753.8 1119.1,756.2 1145.1,758.6 1172.2,761.2 1191.2,763.2 1244.2,764.6 1252.2,767.2 1317.9,769.8 1127.1,771.8 1191.2,774.2 1073.7,776.2 1126.3,777.7 1113.7,779.2 1163.2,780.8 1281.3,783.2 1224.6,784.7 1238.2,786.2 1204.2,787.2 1186.3,788.7 1271.3,790.2 1074.1,792.2 1118.1,794.6 1136.1,796.6 1140.9,798.9 1241.2,801.2 1144.1,802.8 1144.7,804.3 1125.1,805.8 1219.2,808.2 1167.8,810.2 1159.1,812.3 1133.1,814.7 1178.2,816.7 1174.2,819.3 1228.2,821.3 1221.2,823.9 1219.2,825.9 1241.2,828.3 1256.2,830.7 1272.3,832.7 1241.2,835.3 1202.2,836.7 1117.7,839.3 1178.2,841.7 1203.2,843.9 1200.2,846.3 1251.8,848.3 1233.2,850.7 1182.2,853.3 1256.2,854.7 1237.2,857.3 1309.3,859.7 1300.3,862.3 1277.3,864.3 1304.3,866.7 1280.3,869.3 1306.3,871.3 1272.3,873.9 1299.3,875.9 1276.3,878.3 1308.3,880.9 1269.3,883.3 1339.3,885.3 1356.3,886.7 1278.3,888.9 1292.3,891.0 1199.2,893.4 1243.1,895.0 1173.2,896.6 1212.2,898.6 1277.3,900.6 1244.2,903.0 1273.3,905.4 1213.2,907.6 1223.7,909.1 1279.3,910.6 1180.2,913.0 1271.3,915.4 1244.9,917.2 1134.1,919.0 1224.2,921.4 1223.2,923.2 1169.8,925.0 1232.2,927.0 1228.8,928.5 1257.2,930.0 1184.2,932.0 1222.2,934.6 1211.3,936.1 1133.7,937.6 1194.2,940.0 1141.1,942.0 1217.2,943.7 1192.2,946.1 1190.6,947.6 1188.2,949.1 1231.2,951.1 1175.2,953.1 1148.1,954.7 1161.4,956.7 1264.6,958.7 1164.2,961.1 1140.1,963.1 1137.3,964.6 1135.1,966.1 1187.2,968.1 1171.2,970.1 1255.2,971.7 1223.2,974.1 1210.2,976.1 1222.2,978.1 1204.2,979.5 1188.2,981.5 1172.2,983.1 1120.7,985.1 1238.2,987.1 1251.2,988.7 1217.2,991.1 1177.2,993.1 1182.2,995.1 1206.2,997.1 1172.2,998.7 1179.2,1000.7 1244.2,1002.5 1215.2,1004.7 1208.2,1007.1 1163.2,1009.7 1226.2,1011.1 1243.2,1013.7 1233.2,1015.5 1197.8,1017.1 1137.7,1019.1 1156.1,1021.1 1148.1,1022.7 1111.5,1024.7 1173.2,1027.1 1168.6,1028.6 1217.2,1030.1 1125.1,1032.1 1174.2,1034.1 1178.2,1036.7 1209.8,1038.1 1249.2,1039.5 1256.2,1042.1 1225.2,1043.5 1237.2,1045.5 1207.2,1048.1 1208.3,1049.6 1140.1,1051.2 1204.2,1053.2 1204.8,1054.7 1211.2,1056.2 1206.2,1058.2 1185.2,1060.6 1188.2,1062.8 1213.2,1064.8 1269.3,1066.2 1208.2,1068.2 1209.2,1070.8 1233.2,1072.2 1242.2,1074.2 1273.3,1075.8 1241.2,1078.2 1245.2,1080.8 1263.8,1083.2 1215.2,1085.2 1247.2,1087.8 1249.7,1089.3 1268.2,1090.8 1192.6,1092.8 1231.2,1094.6 1176.6,1096.8 1185.2,1098.8 1213.2,1100.2 1221.2,1102.2 1264.2,1104.8 1267.2,1107.2 1173.8,1108.2 1267.8,1110.2 1244.2,1111.6 1125.7,1113.6 1132.5,1115.6 1166.6,1117.2 1154.1,1119.2 1151.1,1121.2 1229.8,1122.8 1209.2,1125.2 1234.2,1127.2 1219.2,1128.6 1124.1,1130.2 1059.1,1132.2 1063.7,1134.2 1180.2,1136.6 1167.8,1138.2 1116.1,1139.8 1138.1,1141.6 1156.5,1144.2 1139.1,1146.2 1089.1,1147.8 1246.2,1149.2 1183.2,1151.2 1136.5,1153.6 1158.1,1155.2 1218.2,1156.6 1231.8,1159.3 1103.1,1160.9 1182.2,1162.9 1197.2,1164.9 1168.2,1166.3 1190.2,1168.3 1135.7,1170.3 1151.1,1172.3 1193.2,1174.3 1208.2,1176.3 1150.5,1178.9 1203.1,1180.3 1217.8,1181.7 1165.8,1183.7 1205.2,1185.9 1188.6,1187.7 1209.2,1189.3 1226.8,1190.9 1164.2,1193.3 1152.5,1194.9 1206.2,1197.3 1188.2,1199.3 1179.2,1201.3 1178.0,1202.8 1233.8,1204.3 1198.2,1205.7 1152.1,1207.7 1181.2,1209.9 1225.2,1211.7 1188.2,1214.3 1188.3,1215.8 1103.1,1217.3 1158.1,1219.3 1199.2,1221.3 1233.8,1222.9 1207.2,1224.9 1184.2,1226.9 1122.1,1228.7 1200.2,1231.3 1184.2,1233.3 1225.2,1235.3 1225.2,1236.0 1187.6,1237.5 1184.2,1239.0 1226.1,1240.5 1223.2,1242.0 1200.2,1244.4 1224.2,1247.0 1254.6,1249.6 1213.1,1251.3 1201.2,1253.0 1250.9,1254.5 1249.2,1256.0 1245.2,1258.4 1229.2,1261.0 1239.2,1263.6 1232.2,1265.6 1204.2,1268.0 1284.3,1270.4 1178.2,1272.0 1156.1,1274.0 1234.2,1276.0 1251.2,1278.0 1239.2,1280.0 1170.6,1282.4 1229.8,1284.4 1207.8,1287.0 1215.5,1289.0 1182.6,1291.1 1192.2,1293.7 1239.2,1296.1 1243.9,1297.6 1248.2,1299.1 1184.3,1300.6 1168.2,1302.1 1216.2,1304.1 1187.2,1306.1 1221.2,1308.5 1210.4,1310.3 1249.6,1312.1 1163.2,1314.1 1141.1,1316.1 1127.7,1318.1 1133.7,1319.7 1223.2,1321.7 1184.2,1323.7 1197.2,1325.7 1208.2,1327.7 1131.1,1329.1 1131.2,1331.1 1127.7,1333.1 1140.1,1335.5 1146.1,1337.7 1133.7,1340.1 1151.1,1342.7 1242.2,1344.1 1233.8,1345.7 1286.3,1347.1 1290.3,1349.5 1300.3,1351.5 1181.8,1353.1 1151.7,1355.5 1215.2,1357.7 1231.2,1359.1 1200.2,1361.1 1169.2,1362.7 1214.2,1365.1 1297.3,1366.5 1204.2,1368.5 1198.2,1371.1 1199.2,1372.6 1175.6,1374.1 1307.3,1376.1 1251.8,1378.1 1272.3,1380.1 1298.7,1382.1 1245.2,1384.1 1215.2,1385.7 1190.2,1387.1 1176.6,1389.7 1188.2,1391.7 1214.2,1393.5 1205.2,1395.5 1100.1,1396.7 1143.1,1399.2 1133.7,1401.2 1185.8,1402.6 1243.2,1404.2 1269.3,1406.2 1234.2,1408.2 1315.9,1410.2 1258.2,1412.6 1256.2,1415.2 1251.2,1417.2 1216.2,1419.8 1264.2,1421.2 1261.2,1423.8 1440.4,1425.2 1288.3,1427.8 1384.4,1429.6 1331.3,1431.2 1310.3,1433.2 1317.3,1435.6 1315.1,1437.1 1301.3,1438.6 1325.3,1440.2 1336.3,1442.2 1293.3,1444.2 1288.7,1446.2 1348.3,1447.6 1318.3,1450.2 1332.3,1452.2 1379.0,1453.6 1344.3,1456.2 1321.3,1457.6 1291.3,1459.2 1271.3,1460.6 1321.3,1463.2 1270.7,1465.2 1290.3,1467.6 1315.3,1469.2 1321.9,1470.6 1296.3,1472.8 1247.8,1474.6 1352.3,1476.2 1343.9,1478.2 1335.3,1480.2 1301.3,1482.2 1264.6,1484.2 1274.9,1485.7 1151.1,1487.2 1309.9,1489.8 1234.2,1491.2 1137.1,1492.8 1160.1,1495.2 1106.1,1497.2 1208.2,1498.6 1121.7,1501.2 1166.6,1502.8 1215.2,1504.6 1207.6,1506.5 1201.8,1508.3 1234.8,1509.9 1293.7,1512.3 1257.8,1514.3 1267.8,1516.3 1178.8,1518.3 1232.2,1519.9 1199.2,1522.3 1197.4,1523.8 1195.2,1525.3 1188.2,1527.7 1192.2,1529.3 1215.2,1530.9 1223.2,1532.3 1257.2,1534.7 1248.2,1536.7 1249.2,1538.7 1178.6,1540.7 1259.8,1542.3 1268.9,1544.3 1234.8,1546.3 1193.2,1547.9 1183.2,1549.9 1185.2,1552.3 1213.2,1553.7 1269.9,1555.7 1285.3,1557.7 1260.2,1559.3 1264.2,1561.7 1237.2,1563.3 1249.2,1564.7 1187.6,1566.7 1261.8,1568.7 1302.3,1570.7 1216.2,1572.7 1165.2,1574.3 1249.2,1576.3 1243.2,1578.3 1251.2,1580.3 1274.3,1581.3 1304.3,1582.9 1304.3,1583.8 1279.3,1586.2 1256.2,1588.2 1259.6,1590.0 1193.2,1591.8 1217.2,1593.8 1229.2,1595.2 1220.2,1597.2 1286.3,1599.2 1233.2,1601.2 1267.2,1603.8 1183.2,1606.2 1156.1,1608.8 1191.2,1610.6 1189.6,1612.9 1189.2,1615.2 1276.3,1616.2 1268.2,1617.8" stroke-width="1.5" stroke-linejoin="round" shape-rendering="crispEdges"/>
<path d="M1178.2 203.0h0M1199.3 204.5h0M1197.2 206.0h0M1195.4 207.5h0M1188.2 209.0h0M1192.4 211.0h0M1199.2 213.0h0M1212.2 215.0h0M1195.9 216.5h0M1192.2 218.0h0M1179.2 220.6h0M1211.2 223.0h0M1222.2 225.0h0M1218.2 226.5h0M1212.2 228.0h0M1208.8 229.5h0M1237.2 231.0h0M1213.7 232.5h0M1212.2 234.0h0M1212.1 235.5h0M1177.2 237.0h0M1132.1 239.4h0M1174.7 241.0h0M1166.2 242.6h0M1198.2 244.0h0M1225.2 246.0h0M1185.8 248.0h0M1171.2 250.1h0M1222.2 252.1h0M1210.2 254.7h0M1220.7 256.1h0M1226.2 257.5h0M1228.3 259.3h0M1190.2 261.1h0M1227.3 262.6h0M1226.2 264.1h0M1243.2 266.1h0M1239.1 268.1h0M1234.2 270.1h0M1217.2 272.1h0M1223.9 274.1h0M1225.2 276.1h0M1192.2 277.5h0M1207.5 279.3h0M1207.2 281.1h0M1205.0 282.6h0M1198.2 284.1h0M1197.5 285.6h0M1195.2 287.1h0M1127.1 288.7h0M1176.2 291.1h0M1129.1 293.1h0M1183.2 295.1h0M1214.2 297.1h0M1214.1 298.6h0M1216.2 300.1h0M1215.2 301.6h0M1219.2 303.1h0M1223.3 304.6h0M1222.2 306.1h0M1221.2 308.7h0M1206.2 310.1h0M1195.2 312.1h0M1201.2 314.7h0M1212.2 316.1h0M1263.2 318.1h0M1249.2 320.1h0M1181.2 321.7h0M1223.1 323.2h0M1222.2 324.7h0M1213.2 326.7h0M1216.3 328.1h0M1238.2 329.5h0M1172.2 331.5h0M1232.2 334.1h0M1224.2 336.7h0M1179.2 338.1h0M1176.2 340.7h0M1165.2 343.1h0M1205.2 344.7h0M1175.2 347.1h0M1240.2 348.1h0M1224.2 350.1h0M1203.2 352.1h0M1196.2 354.1h0M1169.8 355.7h0M1212.8 357.5h0M1216.2 359.2h0M1180.2 361.2h0M1196.3 362.7h0M1197.2 364.2h0M1212.2 366.2h0M1217.2 367.6h0M1162.2 369.2h0M1094.1 371.2h0M1114.1 372.8h0M1193.2 374.2h0M1194.0 375.7h0M1200.2 377.2h0M1207.2 378.2h0M1176.2 380.2h0M1122.1 382.2h0M1146.1 384.2h0M1169.2 386.2h0M1244.2 388.2h0M1188.2 390.2h0M1185.2 392.2h0M1167.2 393.6h0M1130.1 395.2h0M1171.0 396.7h0M1161.1 398.2h0M1196.2 399.2h0M1210.2 401.2h0M1172.2 403.6h0M1158.6 405.2h0M1157.1 406.8h0M1187.2 408.8h0M1127.1 410.8h0M1148.1 412.2h0M1111.1 414.6h0M1161.1 416.2h0M1189.2 418.2h0M1142.1 420.8h0M1133.1 422.2h0M1158.7 423.7h0M1162.2 425.2h0M1141.1 427.6h0M1149.1 429.6h0M1160.1 432.2h0M1154.1 434.2h0M1170.2 435.2h0M1169.1 436.7h0M1188.2 438.2h0M1181.2 440.2h0M1199.2 442.8h0M1121.1 444.2h0M1121.1 446.2h0M1182.2 448.8h0M1137.1 450.8h0M1159.1 452.2h0M1180.2 454.2h0M1143.1 456.8h0M1144.1 459.2h0M1154.1 461.2h0M1150.4 462.7h0M1141.1 464.3h0M1257.2 465.7h0M1207.2 466.9h0M1192.2 469.3h0M1185.2 471.7h0M1174.2 473.3h0M1208.2 474.9h0M1123.1 477.3h0M1170.2 478.9h0M1233.2 480.3h0M1224.2 482.9h0M1236.2 484.3h0M1250.2 486.3h0M1234.2 488.9h0M1233.9 490.3h0M1265.2 491.7h0M1261.3 493.3h0M1260.2 494.9h0M1232.2 496.9h0M1238.2 499.3h0M1234.2 500.8h0M1254.2 502.3h0M1218.6 503.8h0M1210.2 505.3h0M1223.2 507.7h0M1216.3 509.2h0M1121.1 510.7h0M1126.1 513.3h0M1149.1 514.8h0M1146.1 516.3h0M1128.1 518.9h0M1130.0 520.3h0M1195.2 521.7h0M1144.1 524.3h0M1144.7 525.8h0M1128.1 527.3h0M1159.1 529.3h0M1163.3 530.8h0M1170.2 532.3h0M1171.9 533.8h0M1116.1 535.3h0M1210.3 536.8h0M1221.2 538.3h0M1296.3 540.3h0M1220.2 541.9h0M1226.2 544.0h0M1168.6 546.0h0M1233.8 547.5h0M1234.2 549.0h0M1316.3 551.6h0M1183.8 553.3h0M1153.1 555.0h0M1277.3 557.6h0M1220.2 560.0h0M1241.6 561.5h0M1238.2 563.0h0M1234.9 564.5h0M1218.2 566.0h0M1241.5 568.0h0M1241.2 570.0h0M1242.1 571.7h0M1256.2 573.4h0M1153.1 576.0h0M1260.0 577.7h0M1296.3 579.4h0M1148.1 582.0h0M1224.0 583.5h0M1224.2 585.0h0M1232.2 587.6h0M1236.2 590.0h0M1232.0 591.5h0M1187.2 593.0h0M1237.2 595.6h0M1234.3 597.1h0M1135.1 598.5h0M1161.7 600.0h0M1097.1 601.5h0M1129.1 604.1h0M1225.2 606.7h0M1179.1 608.2h0M1176.2 609.7h0M1173.0 611.1h0M1155.7 612.5h0M1191.5 614.2h0M1190.3 615.9h0M1300.3 617.7h0M1295.2 619.1h0M1288.3 620.5h0M1293.2 622.1h0M1299.3 623.7h0M1306.3 626.1h0M1267.2 628.7h0M1287.4 630.1h0M1290.3 631.5h0M1298.3 634.1h0M1248.2 636.1h0M1249.6 637.6h0M1249.2 639.1h0M1249.5 640.6h0M1264.2 642.1h0M1259.3 643.6h0M1150.1 645.1h0M1128.1 647.7h0M1133.6 649.1h0M1060.1 650.5h0M1087.1 653.1h0M1121.0 654.6h0M1110.1 656.1h0M1201.2 658.5h0M1177.2 661.1h0M1168.2 663.7h0M1167.9 665.4h0M1195.2 667.1h0M1145.1 669.7h0M1149.7 671.1h0M1154.1 672.5h0M1166.2 675.1h0M1062.5 677.7h0M1128.1 680.1h0M1105.1 682.1h0M1132.1 684.1h0M1147.7 686.1h0M1331.3 688.7h0M1098.1 691.1h0M1232.2 693.7h0M1102.1 695.7h0M1179.2 697.7h0M1105.1 700.1h0M1148.1 702.1h0M1114.1 704.6h0M1158.1 706.6h0M1124.1 708.6h0M1140.1 711.2h0M1158.1 713.2h0M1163.2 715.2h0M1128.7 716.7h0M1120.1 718.2h0M1264.2 719.8h0M1125.1 722.2h0M1053.0 724.6h0M1065.1 726.6h0M1050.0 729.2h0M1093.1 731.2h0M1058.1 733.8h0M1136.1 735.8h0M1091.1 738.2h0M1124.1 740.2h0M1147.1 742.2h0M1145.2 743.7h0M1187.2 745.2h0M1174.2 747.2h0M1180.2 749.2h0M1167.2 751.8h0M1244.2 753.8h0M1119.1 756.2h0M1145.1 758.6h0M1172.2 761.2h0M1191.2 763.2h0M1244.2 764.6h0M1252.2 767.2h0M1317.9 769.8h0M1127.1 771.8h0M1191.2 774.2h0M1073.7 776.2h0M1126.3 777.7h0M1113.7 779.2h0M1163.2 780.8h0M1281.3 783.2h0M1224.6 784.7h0M1238.2 786.2h0M1204.2 787.2h0M1186.3 788.7h0M1271.3 790.2h0M1074.1 792.2h0M1118.1 794.6h0M1136.1 796.6h0M1140.9 798.9h0M1241.2 801.2h0M1144.1 802.8h0M1144.7 804.3h0M1125.1 805.8h0M1219.2 808.2h0M1167.8 810.2h0M1159.1 812.3h0M1133.1 814.7h0M1178.2 816.7h0M1174.2 819.3h0M1228.2 821.3h0M1221.2 823.9h0M1219.2 825.9h0M1241.2 828.3h0M1256.2 830.7h0M1272.3 832.7h0M1241.2 835.3h0M1202.2 836.7h0M1117.7 839.3h0M1178.2 841.7h0M1203.2 843.9h0M1200.2 846.3h0M1251.8 848.3h0M1233.2 850.7h0M1182.2 853.3h0M1256.2 854.7h0M1237.2 857.3h0M1309.3 859.7h0M1300.3 862.3h0M1277.3 864.3h0M1304.3 866.7h0M1280.3 869.3h0M1306.3 871.3h0M1272.3 873.9h0M1299.3 875.9h0M1276.3 878.3h0M1308.3 880.9h0M1269.3 883.3h0M1339.3 885.3h0M1356.3 886.7h0M1278.3 888.9h0M1292.3 891.0h0M1199.2 893.4h0M1243.1 895.0h0M1173.2 896.6h0M1212.2 898.6h0M1277.3 900.6h0M1244.2 903.0h0M1273.3 905.4h0M1213.2 907.6h0M1223.7 909.1h0M1279.3 910.6h0M1180.2 913.0h0M1271.3 915.4h0M1244.9 917.2h0M1134.1 919.0h0M1224.2 921.4h0M1223.2 923.2h0M1169.8 925.0h0M1232.2 927.0h0M1228.8 928.5h0M1257.2 930.0h0M1184.2 932.0h0M1222.2 934.6h0M1211.3 936.1h0M1133.7 937.6h0M1194.2 940.0h0M1141.1 942.0h0M1217.2 943.7h0M1192.2 946.1h0M1190.6 947.6h0M1188.2 949.1h0M1231.2 951.1h0M1175.2 953.1h0M1148.1 954.7h0M1161.4 956.7h0M1264.6 958.7h0M1164.2 961.1h0M1140.1 963.1h0M1137.3 964.6h0M1135.1 966.1h0M1187.2 968.1h0M1171.2 970.1h0M1255.2 971.7h0M1223.2 974.1h0M1210.2 976.1h0M1222.2 978.1h0M1204.2 979.5h0M1188.2 981.5h0M1172.2 983.1h0M1120.7 985.1h0M1238.2 987.1h0M1251.2 988.7h0M1217.2 991.1h0M1177.2 993.1h0M1182.2 995.1h0M1206.2 997.1h0M1172.2 998.7h0M1179.2 1000.7h0M1244.2 1002.5h0M1215.2 1004.7h0M1208.2 1007.1h0M1163.2 1009.7h0M1226.2 1011.1h0M1243.2 1013.7h0M1233.2 1015.5h0M1197.8 1017.1h0M1137.7 1019.1h0M1156.1 1021.1h0M1148.1 1022.7h0M1111.5 1024.7h0M1173.2 1027.1h0M1168.6 1028.6h0M1217.2 1030.1h0M1125.1 1032.1h0M1174.2 1034.1h0M1178.2 1036.7h0M1209.8 1038.1h0M1249.2 1039.5h0M1256.2 1042.1h0M1225.2 1043.5h0M1237.2 1045.5h0M1207.2 1048.1h0M1208.3 1049.6h0M1140.1 1051.2h0M1204.2 1053.2h0M1204.8 1054.7h0M1211.2 1056.2h0M1206.2 1058.2h0M1185.2 1060.6h0M1188.2 1062.8h0M1213.2 1064.8h0M1269.3 1066.2h0M1208.2 1068.2h0M1209.2 1070.8h0M1233.2 1072.2h0M1242.2 1074.2h0M1273.3 1075.8h0M1241.2 1078.2h0M1245.2 1080.8h0M1263.8 1083.2h0M1215.2 1085.2h0M1247.2 1087.8h0M1249.7 1089.3h0M1268.2 1090.8h0M1192.6 1092.8h0M1231.2 1094.6h0M1176.6 1096.8h0M1185.2 1098.8h0M1213.2 1100.2h0M1221.2 1102.2h0M1264.2 1104.8h0M1267.2 1107.2h0M1173.8 1108.2h0M1267.8 1110.2h0M1244.2 1111.6h0M1125.7 1113.6h0M1132.5 1115.6h0M1166.6 1117.2h0M1154.1 1119.2h0M1151.1 1121.2h0M1229.8 1122.8h0M1209.2 1125.2h0M1234.2 1127.2h0M1219.2 1128.6h0M1124.1 1130.2h0M1059.1 1132.2h0M1063.7 1134.2h0M1180.2 1136.6h0M1167.8 1138.2h0M1116.1 1139.8h0M1138.1 1141.6h0M1156.5 1144.2h0M1139.1 1146.2h0M1089.1 1147.8h0M1246.2 1149.2h0M1183.2 1151.2h0M1136.5 1153.6h0M1158.1 1155.2h0M1218.2 1156.6h0M1231.8 1159.3h0M1103.1 1160.9h0M1182.2 1162.9h0M1197.2 1164.9h0M1168.2 1166.3h0M1190.2 1168.3h0M1135.7 1170.3h0M1151.1 1172.3h0M1193.2 1174.3h0M1208.2 1176.3h0M1150.5 1178.9h0M1203.1 1180.3h0M1217.8 1181.7h0M1165.8 1183.7h0M1205.2 1185.9h0M1188.6 1187.7h0M1209.2 1189.3h0M1226.8 1190.9h0M1164.2 1193.3h0M1152.5 1194.9h0M1206.2 1197.3h0M1188.2 1199.3h0M1179.2 1201.3h0M1178.0 1202.8h0M1233.8 1204.3h0M1198.2 1205.7h0M1152.1 1207.7h0M1181.2 1209.9h0M1225.2 1211.7h0M1188.2 1214.3h0M1188.3 1215.8h0M1103.1 1217.3h0M1158.1 1219.3h0M1199.2 1221.3h0M1233.8 1222.9h0M1207.2 1224.9h0M1184.2 1226.9h0M1122.1 1228.7h0M1200.2 1231.3h0M1184.2 1233.3h0M1225.2 1235.3h0M1225.2 1236.0h0M1187.6 1237.5h0M1184.2 1239.0h0M1226.1 1240.5h0M1223.2 1242.0h0M1200.2 1244.4h0M1224.2 1247.0h0M1254.6 1249.6h0M1213.1 1251.3h0M1201.2 1253.0h0M1250.9 1254.5h0M1249.2 1256.0h0M1245.2 1258.4h0M1229.2 1261.0h0M1239.2 1263.6h0M1232.2 1265.6h0M1204.2 1268.0h0M1284.3 1270.4h0M1178.2 1272.0h0M1156.1 1274.0h0M1234.2 1276.0h0M1251.2 1278.0h0M1239.2 1280.0h0M1170.6 1282.4h0M1229.8 1284.4h0M1207.8 1287.0h0M1215.5 1289.0h0M1182.6 1291.1h0M1192.2 1293.7h0M1239.2 1296.1h0M1243.9 1297.6h0M1248.2 1299.1h0M1184.3 1300.6h0M1168.2 1302.1h0M1216.2 1304.1h0M1187.2 1306.1h0M1221.2 1308.5h0M1210.4 1310.3h0M1249.6 1312.1h0M1163.2 1314.1h0M1141.1 1316.1h0M1127.7 1318.1h0M1133.7 1319.7h0M1223.2 1321.7h0M1184.2 1323.7h0M1197.2 1325.7h0M1208.2 1327.7h0M1131.1 1329.1h0M1131.2 1331.1h0M1127.7 1333.1h0M1140.1 1335.5h0M1146.1 1337.7h0M1133.7 1340.1h0M1151.1 1342.7h0M1242.2 1344.1h0M1233.8 1345.7h0M1286.3 1347.1h0M1290.3 1349.5h0M1300.3 1351.5h0M1181.8 1353.1h0M1151.7 1355.5h0M1215.2 1357.7h0M1231.2 1359.1h0M1200.2 1361.1h0M1169.2 1362.7h0M1214.2 1365.1h0M1297.3 1366.5h0M1204.2 1368.5h0M1198.2 1371.1h0M1199.2 1372.6h0M1175.6 1374.1h0M1307.3 1376.1h0M1251.8 1378.1h0M1272.3 1380.1h0M1298.7 1382.1h0M1245.2 1384.1h0M1215.2 1385.7h0M1190.2 1387.1h0M1176.6 1389.7h0M1188.2 1391.7h0M1214.2 1393.5h0M1205.2 1395.5h0M1100.1 1396.7h0M1143.1 1399.2h0M1133.7 1401.2h0M1185.8 1402.6h0M1243.2 1404.2h0M1269.3 1406.2h0M1234.2 1408.2h0M1315.9 1410.2h0M1258.2 1412.6h0M1256.2 1415.2h0M1251.2 1417.2h0M1216.2 1419.8h0M1264.2 1421.2h0M1261.2 1423.8h0M1440.4 1425.2h0M1288.3 1427.8h0M1384.4 1429.6h0M1331.3 1431.2h0M1310.3 1433.2h0M1317.3 1435.6h0M1315.1 1437.1h0M1301.3 1438.6h0M1325.3 1440.2h0M1336.3 1442.2h0M1293.3 1444.2h0M1288.7 1446.2h0M1348.3 1447.6h0M1318.3 1450.2h0M1332.3 1452.2h0M1379.0 1453.6h0M1344.3 1456.2h0M1321.3 1457.6h0M1291.3 1459.2h0M1271.3 1460.6h0M1321.3 1463.2h0M1270.7 1465.2h0M1290.3 1467.6h0M1315.3 1469.2h0M1321.9 1470.6h0M1296.3 1472.8h0M1247.8 1474.6h0M1352.3 1476.2h0M1343.9 1478.2h0M1335.3 1480.2h0M1301.3 1482.2h0M1264.6 1484.2h0M1274.9 1485.7h0M1151.1 1487.2h0M1309.9 1489.8h0M1234.2 1491.2h0M1137.1 1492.8h0M1160.1 1495.2h0M1106.1 1497.2h0M1208.2 1498.6h0M1121.7 1501.2h0M1166.6 1502.8h0M1215.2 1504.6h0M1207.6 1506.5h0M1201.8 1508.3h0M1234.8 1509.9h0M1293.7 1512.3h0M1257.8 1514.3h0M1267.8 1516.3h0M1178.8 1518.3h0M1232.2 1519.9h0M1199.2 1522.3h0M1197.4 1523.8h0M1195.2 1525.3h0M1188.2 1527.7h0M1192.2 1529.3h0M1215.2 1530.9h0M1223.2 1532.3h0M1257.2 1534.7h0M1248.2 1536.7h0M1249.2 1538.7h0M1178.6 1540.7h0M1259.8 1542.3h0M1268.9 1544.3h0M1234.8 1546.3h0M1193.2 1547.9h0M1183.2 1549.9h0M1185.2 1552.3h0M1213.2 1553.7h0M1269.9 1555.7h0M1285.3 1557.7h0M1260.2 1559.3h0M1264.2 1561.7h0M1237.2 1563.3h0M1249.2 1564.7h0M1187.6 1566.7h0M1261.8 1568.7h0M1302.3 1570.7h0M1216.2 1572.7h0M1165.2 1574.3h0M1249.2 1576.3h0M1243.2 1578.3h0M1251.2 1580.3h0M1274.3 1581.3h0M1304.3 1582.9h0M1304.3 1583.8h0M1279.3 1586.2h0M1256.2 1588.2h0M1259.6 1590.0h0M1193.2 1591.8h0M1217.2 1593.8h0M1229.2 1595.2h0M1220.2 1597.2h0M1286.3 1599.2h0M1233.2 1601.2h0M1267.2 1603.8h0M1183.2 1606.2h0M1156.1 1608.8h0M1191.2 1610.6h0M1189.6 1612.9h0M1189.2 1615.2h0M1276.3 1616.2h0M1268.2 1617.8h0" stroke-width="8.3" stroke-linecap="round"/>
</g>
<path d="M1036.1 182.3V202.9H1390.4V182.3" fill="none" stroke="#000" stroke-width="2.0" stroke-linejoin="miter"/>
<line x1="1095.1" y1="202.9" x2="1095.1" y2="190.1" stroke="#000" stroke-width="2.0" />
<line x1="1154.2" y1="202.9" x2="1154.2" y2="182.3" stroke="#000" stroke-width="2.0" />
<line x1="1213.2" y1="202.9" x2="1213.2" y2="190.1" stroke="#000" stroke-width="2.0" />
<line x1="1272.3" y1="202.9" x2="1272.3" y2="182.3" stroke="#000" stroke-width="2.0" />
<line x1="1331.4" y1="202.9" x2="1331.4" y2="190.1" stroke="#000" stroke-width="2.0" />
<text transform="translate(1036.1,158.0) scale(1,1.04)" font-size="49.6" text-anchor="middle" fill="#000" >1.2</text>
<text transform="translate(1154.2,158.0) scale(1,1.04)" font-size="49.6" text-anchor="middle" fill="#000" >1.6</text>
<text transform="translate(1272.3,158.0) scale(1,1.04)" font-size="49.6" text-anchor="middle" fill="#000" >2.0</text>
<text transform="translate(1390.4,158.0) scale(1,1.04)" font-size="49.6" text-anchor="middle" fill="#000" >2.4</text>
<text x="1223.5" y="57.0" font-size="58.5" text-anchor="middle" fill="#000" letter-spacing="2.1">Sorting (&#966;)</text>
<clipPath id="c2"><rect x="1448.1" y="194.9" width="395.7" height="1433.2"/></clipPath>
<g fill="none" stroke="#000" clip-path="url(#c2)">
<polyline points="1627.2,203.0 1605.2,205.4 1633.2,208.0 1628.2,210.0 1630.3,211.5 1614.2,213.0 1610.2,215.6 1630.5,217.1 1637.2,218.6 1629.2,221.0 1630.2,223.0 1612.2,225.0 1638.2,226.6 1630.2,229.0 1597.6,231.4 1619.2,234.0 1642.2,236.0 1648.2,238.6 1649.2,240.8 1648.2,243.0 1607.2,245.0 1605.8,246.5 1590.8,248.0 1667.8,250.1 1627.7,251.6 1623.2,253.1 1628.2,254.6 1636.2,256.1 1614.9,257.6 1613.2,259.1 1635.3,260.6 1635.2,262.1 1629.2,264.7 1632.7,266.1 1611.2,267.5 1636.2,270.1 1630.1,271.6 1629.2,273.1 1632.6,274.6 1632.2,276.1 1651.2,278.1 1645.2,280.7 1630.2,283.1 1627.3,284.6 1619.8,286.1 1634.2,288.7 1612.6,291.1 1642.2,293.5 1636.6,295.8 1635.2,298.1 1637.9,299.6 1638.2,301.1 1638.1,303.1 1637.2,305.1 1643.9,306.9 1645.2,308.7 1641.0,310.4 1640.2,312.1 1644.5,314.1 1648.2,316.1 1620.2,317.5 1685.7,320.1 1550.1,321.7 1625.2,324.1 1626.2,325.6 1602.2,327.1 1626.3,328.6 1630.2,330.1 1630.0,331.6 1604.2,333.1 1636.2,335.1 1646.2,337.5 1654.2,340.1 1646.9,341.6 1633.2,343.1 1658.2,345.1 1656.6,346.6 1651.2,348.1 1655.6,349.6 1656.2,351.1 1669.2,353.7 1635.2,355.1 1647.8,356.7 1651.2,358.2 1555.1,359.8 1638.2,362.2 1635.1,363.7 1659.2,365.2 1658.2,367.6 1633.2,370.2 1637.2,371.7 1638.2,373.2 1632.3,375.2 1628.2,377.2 1634.2,378.7 1652.2,380.2 1647.9,381.7 1640.2,383.2 1647.9,384.7 1651.2,386.2 1585.8,388.2 1644.2,390.2 1629.2,392.2 1651.2,393.8 1632.2,396.2 1598.2,398.8 1535.7,401.2 1652.2,403.2 1657.2,405.2 1652.7,406.7 1651.2,408.2 1632.2,410.2 1654.2,412.8 1612.8,414.6 1636.2,416.8 1632.0,418.5 1627.2,420.2 1633.4,421.7 1634.2,423.2 1639.4,425.4 1644.2,427.6 1638.2,430.2 1632.4,431.7 1628.2,433.2 1630.8,434.7 1636.2,436.2 1644.4,438.2 1649.2,440.2 1642.9,441.7 1640.2,443.2 1639.3,444.7 1637.2,446.2 1650.2,448.8 1642.2,451.2 1645.1,452.7 1647.2,454.2 1642.3,455.7 1631.2,457.2 1636.7,458.7 1640.2,460.2 1639.7,461.7 1634.2,463.2 1603.6,465.7 1635.2,467.7 1644.2,469.3 1659.2,471.7 1649.2,474.3 1640.2,476.9 1645.2,478.3 1671.2,480.3 1658.2,482.3 1681.3,484.3 1630.2,486.3 1604.2,488.9 1603.6,490.3 1605.2,491.7 1612.2,494.3 1620.2,496.9 1625.7,498.6 1633.2,500.3 1656.8,502.3 1618.2,504.9 1621.6,506.3 1620.2,507.7 1621.7,509.3 1622.2,510.9 1626.2,513.3 1620.8,514.8 1618.2,516.3 1617.3,517.8 1622.2,519.3 1620.7,521.3 1616.2,523.3 1619.8,525.3 1625.2,527.3 1618.5,528.8 1612.2,530.3 1608.8,531.8 1608.2,533.3 1609.2,535.9 1633.2,537.7 1656.2,539.7 1607.2,541.9 1607.2,544.4 1616.2,547.0 1605.2,549.6 1676.2,551.6 1619.0,553.0 1618.2,554.4 1613.2,557.0 1618.1,558.5 1625.2,560.0 1643.2,562.6 1646.6,564.1 1629.2,565.6 1660.2,568.0 1662.2,569.5 1659.2,571.0 1703.7,573.0 1700.6,574.5 1703.3,576.0 1677.2,578.0 1703.3,580.0 1681.3,582.6 1720.3,584.4 1706.3,587.0 1706.6,588.5 1724.3,590.0 1702.6,591.5 1700.3,593.0 1744.9,595.6 1682.3,597.1 1695.6,599.1 1658.6,601.1 1681.3,603.7 1683.1,605.2 1724.7,606.7 1700.9,608.2 1704.3,609.7 1694.3,612.1 1693.9,613.6 1698.3,615.1 1702.3,617.7 1645.2,620.1 1693.3,621.6 1689.3,623.1 1719.3,625.1 1714.7,626.9 1734.3,628.7 1717.3,631.1 1681.3,633.7 1676.2,636.1 1682.3,637.9 1683.3,639.7 1664.2,641.7 1676.2,643.6 1682.3,645.5 1665.2,648.1 1627.2,650.5 1650.2,653.1 1668.4,654.6 1671.2,656.1 1711.3,658.5 1711.4,660.0 1708.3,661.5 1675.2,664.1 1682.9,665.6 1723.9,667.1 1682.3,669.5 1688.3,672.1 1685.3,673.6 1722.7,675.1 1650.8,677.7 1699.3,680.1 1686.3,682.1 1705.3,684.5 1705.9,686.5 1802.4,688.5 1686.3,690.5 1688.4,692.0 1765.3,693.5 1684.3,695.5 1733.3,697.7 1685.3,700.1 1703.3,702.7 1692.3,704.8 1713.3,706.6 1701.3,708.6 1714.3,711.2 1708.3,713.8 1710.3,716.2 1692.3,718.2 1762.3,720.2 1700.3,722.8 1640.2,724.6 1651.2,726.6 1640.2,729.2 1674.2,731.2 1671.9,732.7 1642.2,734.2 1696.3,736.2 1674.2,738.6 1699.3,740.2 1713.3,742.2 1714.9,743.7 1729.3,745.2 1721.3,747.2 1726.3,749.2 1714.3,751.8 1756.7,753.8 1695.3,756.2 1704.3,758.6 1704.3,761.2 1725.3,763.2 1754.3,764.6 1755.3,767.2 1761.3,769.8 1681.9,771.6 1727.9,774.2 1658.2,776.2 1675.2,778.8 1711.3,780.8 1766.9,783.2 1752.3,785.2 1732.3,787.2 1725.4,788.7 1760.3,790.2 1658.6,792.2 1678.2,794.6 1656.2,796.6 1657.3,798.4 1630.2,800.2 1646.2,802.8 1647.4,804.3 1628.2,805.8 1678.2,808.2 1651.2,810.2 1622.2,812.3 1664.2,814.7 1709.9,817.3 1695.3,819.3 1694.3,821.3 1688.3,823.9 1703.3,825.9 1708.9,828.3 1740.7,830.7 1762.7,832.7 1756.3,835.3 1730.3,836.7 1686.7,839.3 1710.3,841.7 1717.3,843.9 1724.3,846.3 1731.3,848.3 1726.3,850.7 1720.3,853.3 1758.3,854.7 1747.3,857.3 1743.9,859.7 1754.0,861.5 1773.3,863.3 1773.2,864.8 1776.3,866.3 1772.6,868.1 1759.3,869.9 1778.3,872.3 1779.0,873.8 1781.3,875.3 1772.0,876.8 1768.3,878.3 1775.3,879.8 1779.3,881.3 1775.2,882.8 1770.3,884.3 1780.3,886.7 1770.3,888.9 1774.4,890.5 1779.3,892.0 1739.3,894.0 1723.3,896.6 1764.3,899.0 1762.7,900.5 1756.3,902.0 1760.3,903.5 1766.3,905.0 1743.3,907.6 1763.3,909.1 1762.3,910.6 1724.7,913.0 1770.3,915.4 1761.1,917.2 1691.9,919.0 1720.3,921.4 1724.7,923.2 1740.3,925.0 1715.4,926.5 1710.3,928.0 1747.9,930.0 1716.3,932.0 1716.9,933.5 1730.3,935.0 1676.6,937.6 1708.3,940.0 1693.9,942.0 1730.3,943.7 1704.3,946.1 1705.4,947.6 1706.3,949.1 1720.3,951.1 1713.7,952.6 1689.3,954.1 1710.3,956.1 1724.7,958.7 1665.2,961.1 1696.3,963.1 1697.7,964.6 1655.2,966.1 1696.3,968.1 1695.9,969.6 1659.2,971.1 1704.3,973.1 1688.3,975.5 1712.3,977.1 1710.5,978.6 1709.3,980.1 1694.3,982.7 1657.2,985.1 1721.3,987.1 1664.6,988.7 1686.3,991.1 1682.3,992.6 1678.2,994.1 1703.3,996.1 1694.3,998.7 1678.2,1000.7 1704.3,1002.5 1693.3,1005.1 1685.3,1007.5 1660.6,1009.7 1703.3,1011.1 1698.0,1012.6 1692.3,1014.1 1688.8,1015.6 1706.3,1017.1 1671.2,1019.1 1695.7,1020.6 1692.3,1022.1 1618.6,1024.7 1676.2,1027.1 1692.1,1028.6 1696.3,1030.1 1635.2,1032.1 1692.3,1034.1 1688.3,1036.7 1703.3,1038.1 1712.3,1039.5 1706.3,1042.1 1710.3,1044.1 1731.9,1045.5 1721.3,1048.1 1712.9,1049.6 1667.6,1051.2 1696.3,1053.2 1700.4,1054.7 1707.3,1056.2 1702.3,1058.2 1710.3,1060.6 1695.3,1062.8 1712.3,1064.8 1728.7,1066.2 1710.3,1068.2 1706.3,1070.8 1716.3,1072.2 1718.4,1073.7 1720.3,1075.2 1716.5,1076.7 1710.3,1078.2 1714.3,1080.8 1730.3,1083.2 1718.3,1085.2 1706.3,1087.2 1725.3,1089.2 1724.3,1091.6 1709.3,1093.2 1700.4,1094.7 1697.3,1096.2 1702.3,1098.8 1720.3,1101.2 1725.1,1102.7 1730.3,1104.2 1706.0,1105.7 1700.3,1107.2 1728.3,1109.6 1722.3,1111.6 1669.6,1113.6 1669.2,1115.6 1695.3,1117.2 1686.3,1119.2 1684.3,1121.2 1708.3,1122.8 1701.3,1125.2 1715.3,1127.2 1709.3,1128.6 1675.2,1130.2 1629.2,1132.2 1631.2,1134.2 1694.3,1136.6 1686.3,1138.2 1659.2,1139.8 1679.3,1141.6 1690.3,1144.2 1678.2,1146.2 1651.6,1147.8 1720.3,1149.2 1711.3,1151.2 1674.2,1153.6 1686.3,1155.2 1706.3,1156.6 1686.3,1159.3 1643.2,1160.9 1672.2,1162.9 1688.3,1164.9 1693.2,1166.6 1692.3,1168.3 1663.2,1170.3 1672.2,1172.3 1689.3,1174.3 1687.4,1175.8 1690.3,1177.3 1691.2,1178.8 1687.3,1180.3 1686.8,1181.8 1682.3,1183.3 1694.3,1185.3 1686.9,1186.8 1685.3,1188.3 1684.0,1189.8 1682.3,1191.3 1688.8,1192.8 1692.3,1194.3 1688.6,1195.8 1688.3,1197.3 1690.2,1198.8 1690.3,1200.3 1702.3,1202.9 1719.9,1205.3 1686.3,1207.3 1696.3,1209.3 1712.3,1211.7 1710.3,1214.3 1712.3,1215.8 1665.8,1217.3 1695.3,1219.3 1716.3,1221.3 1734.7,1222.9 1727.3,1224.9 1719.3,1226.9 1675.6,1228.7 1706.3,1231.3 1686.3,1233.3 1705.3,1235.3 1686.3,1236.0 1704.4,1237.5 1708.3,1239.0 1702.0,1240.5 1695.3,1242.0 1698.9,1243.5 1706.3,1245.0 1711.0,1246.7 1715.3,1248.4 1723.9,1251.0 1697.9,1253.6 1710.3,1256.0 1707.9,1257.5 1708.3,1259.0 1711.4,1260.7 1716.3,1262.4 1713.5,1264.2 1710.3,1266.0 1710.2,1267.5 1706.3,1269.0 1714.3,1271.6 1688.3,1274.0 1711.7,1275.5 1715.3,1277.0 1712.3,1279.0 1714.0,1280.5 1692.3,1282.0 1707.7,1283.5 1706.3,1285.0 1705.3,1286.5 1700.3,1288.0 1704.3,1290.5 1697.0,1292.0 1695.3,1293.5 1697.7,1295.1 1726.9,1296.7 1712.3,1299.1 1695.1,1300.6 1695.3,1302.1 1695.1,1303.6 1710.3,1305.1 1705.2,1306.6 1700.3,1308.1 1694.5,1309.6 1691.3,1311.1 1687.3,1313.1 1656.2,1315.1 1660.0,1316.6 1668.2,1318.1 1652.2,1319.7 1696.9,1321.7 1668.2,1324.1 1664.2,1325.6 1663.2,1327.1 1651.2,1329.7 1644.2,1332.1 1649.8,1333.6 1653.2,1335.1 1647.6,1336.6 1644.2,1338.1 1619.2,1340.1 1637.2,1342.5 1589.2,1344.1 1520.7,1345.7 1663.2,1347.7 1649.2,1350.1 1663.8,1351.7 1489.7,1353.1 1487.1,1355.7 1589.8,1357.3 1462.0,1359.1 1398.0,1361.7 1542.2,1363.4 1543.1,1365.1 1630.2,1366.5 1699.3,1368.1 1689.3,1370.5 1695.3,1373.1 1690.3,1375.1 1685.5,1376.6 1684.3,1378.1 1646.2,1380.5 1662.2,1383.1 1642.2,1385.7 1640.2,1388.1 1650.5,1389.6 1676.6,1391.1 1654.2,1393.1 1664.2,1395.5 1634.2,1396.7 1640.2,1399.2 1643.2,1401.2 1673.2,1402.6 1691.3,1404.2 1706.3,1406.2 1656.2,1408.2 1736.3,1410.2 1727.3,1412.6 1724.3,1415.2 1722.3,1417.2 1716.3,1419.8 1733.3,1421.2 1742.3,1423.8 1731.3,1425.2 1767.3,1427.2 1738.3,1429.6 1732.3,1431.2 1689.9,1433.2 1742.3,1435.6 1738.3,1438.2 1721.3,1440.2 1760.7,1442.2 1736.3,1444.2 1748.3,1446.2 1740.3,1448.6 1735.2,1450.2 1734.3,1451.8 1746.3,1454.2 1746.1,1455.7 1748.3,1457.2 1757.3,1459.2 1737.5,1460.7 1736.3,1462.2 1723.3,1464.6 1740.3,1467.2 1761.9,1469.2 1731.9,1470.6 1718.3,1472.8 1742.3,1475.2 1730.3,1477.2 1722.3,1479.2 1733.3,1481.8 1658.2,1483.8 1643.8,1485.8 1670.2,1488.2 1699.3,1490.6 1674.2,1492.8 1691.3,1495.2 1667.2,1497.2 1653.2,1498.6 1632.2,1501.2 1665.2,1502.8 1681.9,1504.6 1677.4,1506.3 1674.2,1507.9 1703.3,1509.9 1738.3,1512.3 1676.2,1514.3 1679.4,1515.8 1682.3,1517.3 1681.8,1518.8 1678.2,1520.3 1671.0,1522.1 1667.8,1523.9 1680.3,1526.3 1682.1,1527.8 1683.3,1529.3 1658.2,1531.9 1691.1,1533.3 1692.3,1534.7 1674.2,1536.3 1677.2,1538.7 1687.3,1541.3 1668.2,1542.7 1674.2,1545.3 1672.2,1547.9 1656.2,1549.9 1666.2,1552.3 1687.3,1554.3 1690.2,1556.1 1695.3,1557.9 1680.3,1560.3 1686.3,1562.7 1662.6,1565.3 1675.2,1567.3 1700.3,1569.9 1706.3,1572.3 1683.9,1574.3 1725.3,1576.3 1716.3,1578.3 1666.2,1580.7 1655.2,1582.3 1665.2,1584.1 1655.2,1586.1 1728.3,1588.1 1653.2,1590.7 1726.3,1593.1 1712.3,1595.1 1633.8,1597.1 1682.3,1599.1 1664.2,1601.5 1640.2,1604.1 1646.2,1606.1 1643.2,1608.7 1677.2,1610.7 1673.6,1612.1 1704.3,1613.5 1709.3,1616.1" stroke-width="1.5" stroke-linejoin="round" shape-rendering="crispEdges"/>
<path d="M1627.2 203.0h0M1605.2 205.4h0M1633.2 208.0h0M1628.2 210.0h0M1630.3 211.5h0M1614.2 213.0h0M1610.2 215.6h0M1630.5 217.1h0M1637.2 218.6h0M1629.2 221.0h0M1630.2 223.0h0M1612.2 225.0h0M1638.2 226.6h0M1630.2 229.0h0M1597.6 231.4h0M1619.2 234.0h0M1642.2 236.0h0M1648.2 238.6h0M1649.2 240.8h0M1648.2 243.0h0M1607.2 245.0h0M1605.8 246.5h0M1590.8 248.0h0M1667.8 250.1h0M1627.7 251.6h0M1623.2 253.1h0M1628.2 254.6h0M1636.2 256.1h0M1614.9 257.6h0M1613.2 259.1h0M1635.3 260.6h0M1635.2 262.1h0M1629.2 264.7h0M1632.7 266.1h0M1611.2 267.5h0M1636.2 270.1h0M1630.1 271.6h0M1629.2 273.1h0M1632.6 274.6h0M1632.2 276.1h0M1651.2 278.1h0M1645.2 280.7h0M1630.2 283.1h0M1627.3 284.6h0M1619.8 286.1h0M1634.2 288.7h0M1612.6 291.1h0M1642.2 293.5h0M1636.6 295.8h0M1635.2 298.1h0M1637.9 299.6h0M1638.2 301.1h0M1638.1 303.1h0M1637.2 305.1h0M1643.9 306.9h0M1645.2 308.7h0M1641.0 310.4h0M1640.2 312.1h0M1644.5 314.1h0M1648.2 316.1h0M1620.2 317.5h0M1685.7 320.1h0M1550.1 321.7h0M1625.2 324.1h0M1626.2 325.6h0M1602.2 327.1h0M1626.3 328.6h0M1630.2 330.1h0M1630.0 331.6h0M1604.2 333.1h0M1636.2 335.1h0M1646.2 337.5h0M1654.2 340.1h0M1646.9 341.6h0M1633.2 343.1h0M1658.2 345.1h0M1656.6 346.6h0M1651.2 348.1h0M1655.6 349.6h0M1656.2 351.1h0M1669.2 353.7h0M1635.2 355.1h0M1647.8 356.7h0M1651.2 358.2h0M1555.1 359.8h0M1638.2 362.2h0M1635.1 363.7h0M1659.2 365.2h0M1658.2 367.6h0M1633.2 370.2h0M1637.2 371.7h0M1638.2 373.2h0M1632.3 375.2h0M1628.2 377.2h0M1634.2 378.7h0M1652.2 380.2h0M1647.9 381.7h0M1640.2 383.2h0M1647.9 384.7h0M1651.2 386.2h0M1585.8 388.2h0M1644.2 390.2h0M1629.2 392.2h0M1651.2 393.8h0M1632.2 396.2h0M1598.2 398.8h0M1535.7 401.2h0M1652.2 403.2h0M1657.2 405.2h0M1652.7 406.7h0M1651.2 408.2h0M1632.2 410.2h0M1654.2 412.8h0M1612.8 414.6h0M1636.2 416.8h0M1632.0 418.5h0M1627.2 420.2h0M1633.4 421.7h0M1634.2 423.2h0M1639.4 425.4h0M1644.2 427.6h0M1638.2 430.2h0M1632.4 431.7h0M1628.2 433.2h0M1630.8 434.7h0M1636.2 436.2h0M1644.4 438.2h0M1649.2 440.2h0M1642.9 441.7h0M1640.2 443.2h0M1639.3 444.7h0M1637.2 446.2h0M1650.2 448.8h0M1642.2 451.2h0M1645.1 452.7h0M1647.2 454.2h0M1642.3 455.7h0M1631.2 457.2h0M1636.7 458.7h0M1640.2 460.2h0M1639.7 461.7h0M1634.2 463.2h0M1603.6 465.7h0M1635.2 467.7h0M1644.2 469.3h0M1659.2 471.7h0M1649.2 474.3h0M1640.2 476.9h0M1645.2 478.3h0M1671.2 480.3h0M1658.2 482.3h0M1681.3 484.3h0M1630.2 486.3h0M1604.2 488.9h0M1603.6 490.3h0M1605.2 491.7h0M1612.2 494.3h0M1620.2 496.9h0M1625.7 498.6h0M1633.2 500.3h0M1656.8 502.3h0M1618.2 504.9h0M1621.6 506.3h0M1620.2 507.7h0M1621.7 509.3h0M1622.2 510.9h0M1626.2 513.3h0M1620.8 514.8h0M1618.2 516.3h0M1617.3 517.8h0M1622.2 519.3h0M1620.7 521.3h0M1616.2 523.3h0M1619.8 525.3h0M1625.2 527.3h0M1618.5 528.8h0M1612.2 530.3h0M1608.8 531.8h0M1608.2 533.3h0M1609.2 535.9h0M1633.2 537.7h0M1656.2 539.7h0M1607.2 541.9h0M1607.2 544.4h0M1616.2 547.0h0M1605.2 549.6h0M1676.2 551.6h0M1619.0 553.0h0M1618.2 554.4h0M1613.2 557.0h0M1618.1 558.5h0M1625.2 560.0h0M1643.2 562.6h0M1646.6 564.1h0M1629.2 565.6h0M1660.2 568.0h0M1662.2 569.5h0M1659.2 571.0h0M1703.7 573.0h0M1700.6 574.5h0M1703.3 576.0h0M1677.2 578.0h0M1703.3 580.0h0M1681.3 582.6h0M1720.3 584.4h0M1706.3 587.0h0M1706.6 588.5h0M1724.3 590.0h0M1702.6 591.5h0M1700.3 593.0h0M1744.9 595.6h0M1682.3 597.1h0M1695.6 599.1h0M1658.6 601.1h0M1681.3 603.7h0M1683.1 605.2h0M1724.7 606.7h0M1700.9 608.2h0M1704.3 609.7h0M1694.3 612.1h0M1693.9 613.6h0M1698.3 615.1h0M1702.3 617.7h0M1645.2 620.1h0M1693.3 621.6h0M1689.3 623.1h0M1719.3 625.1h0M1714.7 626.9h0M1734.3 628.7h0M1717.3 631.1h0M1681.3 633.7h0M1676.2 636.1h0M1682.3 637.9h0M1683.3 639.7h0M1664.2 641.7h0M1676.2 643.6h0M1682.3 645.5h0M1665.2 648.1h0M1627.2 650.5h0M1650.2 653.1h0M1668.4 654.6h0M1671.2 656.1h0M1711.3 658.5h0M1711.4 660.0h0M1708.3 661.5h0M1675.2 664.1h0M1682.9 665.6h0M1723.9 667.1h0M1682.3 669.5h0M1688.3 672.1h0M1685.3 673.6h0M1722.7 675.1h0M1650.8 677.7h0M1699.3 680.1h0M1686.3 682.1h0M1705.3 684.5h0M1705.9 686.5h0M1802.4 688.5h0M1686.3 690.5h0M1688.4 692.0h0M1765.3 693.5h0M1684.3 695.5h0M1733.3 697.7h0M1685.3 700.1h0M1703.3 702.7h0M1692.3 704.8h0M1713.3 706.6h0M1701.3 708.6h0M1714.3 711.2h0M1708.3 713.8h0M1710.3 716.2h0M1692.3 718.2h0M1762.3 720.2h0M1700.3 722.8h0M1640.2 724.6h0M1651.2 726.6h0M1640.2 729.2h0M1674.2 731.2h0M1671.9 732.7h0M1642.2 734.2h0M1696.3 736.2h0M1674.2 738.6h0M1699.3 740.2h0M1713.3 742.2h0M1714.9 743.7h0M1729.3 745.2h0M1721.3 747.2h0M1726.3 749.2h0M1714.3 751.8h0M1756.7 753.8h0M1695.3 756.2h0M1704.3 758.6h0M1704.3 761.2h0M1725.3 763.2h0M1754.3 764.6h0M1755.3 767.2h0M1761.3 769.8h0M1681.9 771.6h0M1727.9 774.2h0M1658.2 776.2h0M1675.2 778.8h0M1711.3 780.8h0M1766.9 783.2h0M1752.3 785.2h0M1732.3 787.2h0M1725.4 788.7h0M1760.3 790.2h0M1658.6 792.2h0M1678.2 794.6h0M1656.2 796.6h0M1657.3 798.4h0M1630.2 800.2h0M1646.2 802.8h0M1647.4 804.3h0M1628.2 805.8h0M1678.2 808.2h0M1651.2 810.2h0M1622.2 812.3h0M1664.2 814.7h0M1709.9 817.3h0M1695.3 819.3h0M1694.3 821.3h0M1688.3 823.9h0M1703.3 825.9h0M1708.9 828.3h0M1740.7 830.7h0M1762.7 832.7h0M1756.3 835.3h0M1730.3 836.7h0M1686.7 839.3h0M1710.3 841.7h0M1717.3 843.9h0M1724.3 846.3h0M1731.3 848.3h0M1726.3 850.7h0M1720.3 853.3h0M1758.3 854.7h0M1747.3 857.3h0M1743.9 859.7h0M1754.0 861.5h0M1773.3 863.3h0M1773.2 864.8h0M1776.3 866.3h0M1772.6 868.1h0M1759.3 869.9h0M1778.3 872.3h0M1779.0 873.8h0M1781.3 875.3h0M1772.0 876.8h0M1768.3 878.3h0M1775.3 879.8h0M1779.3 881.3h0M1775.2 882.8h0M1770.3 884.3h0M1780.3 886.7h0M1770.3 888.9h0M1774.4 890.5h0M1779.3 892.0h0M1739.3 894.0h0M1723.3 896.6h0M1764.3 899.0h0M1762.7 900.5h0M1756.3 902.0h0M1760.3 903.5h0M1766.3 905.0h0M1743.3 907.6h0M1763.3 909.1h0M1762.3 910.6h0M1724.7 913.0h0M1770.3 915.4h0M1761.1 917.2h0M1691.9 919.0h0M1720.3 921.4h0M1724.7 923.2h0M1740.3 925.0h0M1715.4 926.5h0M1710.3 928.0h0M1747.9 930.0h0M1716.3 932.0h0M1716.9 933.5h0M1730.3 935.0h0M1676.6 937.6h0M1708.3 940.0h0M1693.9 942.0h0M1730.3 943.7h0M1704.3 946.1h0M1705.4 947.6h0M1706.3 949.1h0M1720.3 951.1h0M1713.7 952.6h0M1689.3 954.1h0M1710.3 956.1h0M1724.7 958.7h0M1665.2 961.1h0M1696.3 963.1h0M1697.7 964.6h0M1655.2 966.1h0M1696.3 968.1h0M1695.9 969.6h0M1659.2 971.1h0M1704.3 973.1h0M1688.3 975.5h0M1712.3 977.1h0M1710.5 978.6h0M1709.3 980.1h0M1694.3 982.7h0M1657.2 985.1h0M1721.3 987.1h0M1664.6 988.7h0M1686.3 991.1h0M1682.3 992.6h0M1678.2 994.1h0M1703.3 996.1h0M1694.3 998.7h0M1678.2 1000.7h0M1704.3 1002.5h0M1693.3 1005.1h0M1685.3 1007.5h0M1660.6 1009.7h0M1703.3 1011.1h0M1698.0 1012.6h0M1692.3 1014.1h0M1688.8 1015.6h0M1706.3 1017.1h0M1671.2 1019.1h0M1695.7 1020.6h0M1692.3 1022.1h0M1618.6 1024.7h0M1676.2 1027.1h0M1692.1 1028.6h0M1696.3 1030.1h0M1635.2 1032.1h0M1692.3 1034.1h0M1688.3 1036.7h0M1703.3 1038.1h0M1712.3 1039.5h0M1706.3 1042.1h0M1710.3 1044.1h0M1731.9 1045.5h0M1721.3 1048.1h0M1712.9 1049.6h0M1667.6 1051.2h0M1696.3 1053.2h0M1700.4 1054.7h0M1707.3 1056.2h0M1702.3 1058.2h0M1710.3 1060.6h0M1695.3 1062.8h0M1712.3 1064.8h0M1728.7 1066.2h0M1710.3 1068.2h0M1706.3 1070.8h0M1716.3 1072.2h0M1718.4 1073.7h0M1720.3 1075.2h0M1716.5 1076.7h0M1710.3 1078.2h0M1714.3 1080.8h0M1730.3 1083.2h0M1718.3 1085.2h0M1706.3 1087.2h0M1725.3 1089.2h0M1724.3 1091.6h0M1709.3 1093.2h0M1700.4 1094.7h0M1697.3 1096.2h0M1702.3 1098.8h0M1720.3 1101.2h0M1725.1 1102.7h0M1730.3 1104.2h0M1706.0 1105.7h0M1700.3 1107.2h0M1728.3 1109.6h0M1722.3 1111.6h0M1669.6 1113.6h0M1669.2 1115.6h0M1695.3 1117.2h0M1686.3 1119.2h0M1684.3 1121.2h0M1708.3 1122.8h0M1701.3 1125.2h0M1715.3 1127.2h0M1709.3 1128.6h0M1675.2 1130.2h0M1629.2 1132.2h0M1631.2 1134.2h0M1694.3 1136.6h0M1686.3 1138.2h0M1659.2 1139.8h0M1679.3 1141.6h0M1690.3 1144.2h0M1678.2 1146.2h0M1651.6 1147.8h0M1720.3 1149.2h0M1711.3 1151.2h0M1674.2 1153.6h0M1686.3 1155.2h0M1706.3 1156.6h0M1686.3 1159.3h0M1643.2 1160.9h0M1672.2 1162.9h0M1688.3 1164.9h0M1693.2 1166.6h0M1692.3 1168.3h0M1663.2 1170.3h0M1672.2 1172.3h0M1689.3 1174.3h0M1687.4 1175.8h0M1690.3 1177.3h0M1691.2 1178.8h0M1687.3 1180.3h0M1686.8 1181.8h0M1682.3 1183.3h0M1694.3 1185.3h0M1686.9 1186.8h0M1685.3 1188.3h0M1684.0 1189.8h0M1682.3 1191.3h0M1688.8 1192.8h0M1692.3 1194.3h0M1688.6 1195.8h0M1688.3 1197.3h0M1690.2 1198.8h0M1690.3 1200.3h0M1702.3 1202.9h0M1719.9 1205.3h0M1686.3 1207.3h0M1696.3 1209.3h0M1712.3 1211.7h0M1710.3 1214.3h0M1712.3 1215.8h0M1665.8 1217.3h0M1695.3 1219.3h0M1716.3 1221.3h0M1734.7 1222.9h0M1727.3 1224.9h0M1719.3 1226.9h0M1675.6 1228.7h0M1706.3 1231.3h0M1686.3 1233.3h0M1705.3 1235.3h0M1686.3 1236.0h0M1704.4 1237.5h0M1708.3 1239.0h0M1702.0 1240.5h0M1695.3 1242.0h0M1698.9 1243.5h0M1706.3 1245.0h0M1711.0 1246.7h0M1715.3 1248.4h0M1723.9 1251.0h0M1697.9 1253.6h0M1710.3 1256.0h0M1707.9 1257.5h0M1708.3 1259.0h0M1711.4 1260.7h0M1716.3 1262.4h0M1713.5 1264.2h0M1710.3 1266.0h0M1710.2 1267.5h0M1706.3 1269.0h0M1714.3 1271.6h0M1688.3 1274.0h0M1711.7 1275.5h0M1715.3 1277.0h0M1712.3 1279.0h0M1714.0 1280.5h0M1692.3 1282.0h0M1707.7 1283.5h0M1706.3 1285.0h0M1705.3 1286.5h0M1700.3 1288.0h0M1704.3 1290.5h0M1697.0 1292.0h0M1695.3 1293.5h0M1697.7 1295.1h0M1726.9 1296.7h0M1712.3 1299.1h0M1695.1 1300.6h0M1695.3 1302.1h0M1695.1 1303.6h0M1710.3 1305.1h0M1705.2 1306.6h0M1700.3 1308.1h0M1694.5 1309.6h0M1691.3 1311.1h0M1687.3 1313.1h0M1656.2 1315.1h0M1660.0 1316.6h0M1668.2 1318.1h0M1652.2 1319.7h0M1696.9 1321.7h0M1668.2 1324.1h0M1664.2 1325.6h0M1663.2 1327.1h0M1651.2 1329.7h0M1644.2 1332.1h0M1649.8 1333.6h0M1653.2 1335.1h0M1647.6 1336.6h0M1644.2 1338.1h0M1619.2 1340.1h0M1637.2 1342.5h0M1589.2 1344.1h0M1520.7 1345.7h0M1663.2 1347.7h0M1649.2 1350.1h0M1663.8 1351.7h0M1489.7 1353.1h0M1487.1 1355.7h0M1589.8 1357.3h0M1462.0 1359.1h0M1398.0 1361.7h0M1542.2 1363.4h0M1543.1 1365.1h0M1630.2 1366.5h0M1699.3 1368.1h0M1689.3 1370.5h0M1695.3 1373.1h0M1690.3 1375.1h0M1685.5 1376.6h0M1684.3 1378.1h0M1646.2 1380.5h0M1662.2 1383.1h0M1642.2 1385.7h0M1640.2 1388.1h0M1650.5 1389.6h0M1676.6 1391.1h0M1654.2 1393.1h0M1664.2 1395.5h0M1634.2 1396.7h0M1640.2 1399.2h0M1643.2 1401.2h0M1673.2 1402.6h0M1691.3 1404.2h0M1706.3 1406.2h0M1656.2 1408.2h0M1736.3 1410.2h0M1727.3 1412.6h0M1724.3 1415.2h0M1722.3 1417.2h0M1716.3 1419.8h0M1733.3 1421.2h0M1742.3 1423.8h0M1731.3 1425.2h0M1767.3 1427.2h0M1738.3 1429.6h0M1732.3 1431.2h0M1689.9 1433.2h0M1742.3 1435.6h0M1738.3 1438.2h0M1721.3 1440.2h0M1760.7 1442.2h0M1736.3 1444.2h0M1748.3 1446.2h0M1740.3 1448.6h0M1735.2 1450.2h0M1734.3 1451.8h0M1746.3 1454.2h0M1746.1 1455.7h0M1748.3 1457.2h0M1757.3 1459.2h0M1737.5 1460.7h0M1736.3 1462.2h0M1723.3 1464.6h0M1740.3 1467.2h0M1761.9 1469.2h0M1731.9 1470.6h0M1718.3 1472.8h0M1742.3 1475.2h0M1730.3 1477.2h0M1722.3 1479.2h0M1733.3 1481.8h0M1658.2 1483.8h0M1643.8 1485.8h0M1670.2 1488.2h0M1699.3 1490.6h0M1674.2 1492.8h0M1691.3 1495.2h0M1667.2 1497.2h0M1653.2 1498.6h0M1632.2 1501.2h0M1665.2 1502.8h0M1681.9 1504.6h0M1677.4 1506.3h0M1674.2 1507.9h0M1703.3 1509.9h0M1738.3 1512.3h0M1676.2 1514.3h0M1679.4 1515.8h0M1682.3 1517.3h0M1681.8 1518.8h0M1678.2 1520.3h0M1671.0 1522.1h0M1667.8 1523.9h0M1680.3 1526.3h0M1682.1 1527.8h0M1683.3 1529.3h0M1658.2 1531.9h0M1691.1 1533.3h0M1692.3 1534.7h0M1674.2 1536.3h0M1677.2 1538.7h0M1687.3 1541.3h0M1668.2 1542.7h0M1674.2 1545.3h0M1672.2 1547.9h0M1656.2 1549.9h0M1666.2 1552.3h0M1687.3 1554.3h0M1690.2 1556.1h0M1695.3 1557.9h0M1680.3 1560.3h0M1686.3 1562.7h0M1662.6 1565.3h0M1675.2 1567.3h0M1700.3 1569.9h0M1706.3 1572.3h0M1683.9 1574.3h0M1725.3 1576.3h0M1716.3 1578.3h0M1666.2 1580.7h0M1655.2 1582.3h0M1665.2 1584.1h0M1655.2 1586.1h0M1728.3 1588.1h0M1653.2 1590.7h0M1726.3 1593.1h0M1712.3 1595.1h0M1633.8 1597.1h0M1682.3 1599.1h0M1664.2 1601.5h0M1640.2 1604.1h0M1646.2 1606.1h0M1643.2 1608.7h0M1677.2 1610.7h0M1673.6 1612.1h0M1704.3 1613.5h0M1709.3 1616.1h0" stroke-width="8.3" stroke-linecap="round"/>
</g>
<path d="M1449.3 1641.1V1620.1H1803.8V1641.1" fill="none" stroke="#000" stroke-width="2.0" stroke-linejoin="miter"/>
<line x1="1508.4" y1="1620.1" x2="1508.4" y2="1633.1" stroke="#000" stroke-width="2.0" />
<line x1="1567.5" y1="1620.1" x2="1567.5" y2="1641.1" stroke="#000" stroke-width="2.0" />
<line x1="1626.5" y1="1620.1" x2="1626.5" y2="1633.1" stroke="#000" stroke-width="2.0" />
<line x1="1685.6" y1="1620.1" x2="1685.6" y2="1641.1" stroke="#000" stroke-width="2.0" />
<line x1="1744.7" y1="1620.1" x2="1744.7" y2="1633.1" stroke="#000" stroke-width="2.0" />
<text transform="translate(1450.3,1709.8) scale(1,1.04)" font-size="49.6" text-anchor="middle" fill="#000" >1.0</text>
<text transform="translate(1568.5,1709.8) scale(1,1.04)" font-size="49.6" text-anchor="middle" fill="#000" >1.5</text>
<text transform="translate(1686.6,1709.8) scale(1,1.04)" font-size="49.6" text-anchor="middle" fill="#000" >2.0</text>
<text transform="translate(1804.8,1709.8) scale(1,1.04)" font-size="49.6" text-anchor="middle" fill="#000" >2.5</text>
<text x="1627.0" y="1810.0" font-size="58.2" text-anchor="middle" fill="#000" >Skewness</text>
<clipPath id="c3"><rect x="1823.0" y="194.9" width="395.4" height="1433.2"/></clipPath>
<g fill="none" stroke="#000" clip-path="url(#c3)">
<polyline points="1985.1,203.0 1972.5,205.4 1994.2,208.0 1993.2,210.6 1982.1,213.0 1983.1,215.6 1988.8,217.1 1994.2,218.6 1984.1,221.0 1992.0,222.5 1996.2,224.0 2011.2,226.6 1998.2,229.0 1991.2,231.4 2010.2,234.0 2004.2,236.0 2006.2,238.6 2011.9,240.0 2012.2,241.4 2019.2,244.0 1988.2,245.0 1993.1,246.5 1968.1,248.0 2039.2,250.1 2005.0,251.6 2002.2,253.1 1999.1,254.6 2016.2,256.1 1998.0,257.6 1994.2,259.1 1998.7,260.6 2006.2,262.1 2008.2,264.7 2005.7,266.1 2003.2,267.5 2018.2,270.1 2004.5,271.6 2001.2,273.1 2005.8,274.6 2005.2,276.1 2016.2,278.1 2013.2,280.7 1991.2,282.7 1985.1,284.4 1980.1,286.1 1979.1,288.7 1965.1,291.1 1996.2,293.1 2003.2,295.1 2009.2,296.6 2009.2,298.1 2008.5,299.6 2013.2,301.1 2016.6,302.6 2016.2,304.1 2021.4,306.4 2022.2,308.7 2023.1,310.4 2007.2,312.1 2021.2,314.7 2032.2,317.1 2030.0,318.6 2078.2,320.1 1930.1,321.7 2007.2,324.1 2007.5,325.6 1986.2,327.1 2005.8,328.6 2002.2,330.1 1982.1,331.7 2019.2,334.1 2020.5,335.8 2024.2,337.5 2013.2,340.1 2007.2,341.6 2006.2,343.1 2040.2,344.1 2017.2,346.5 2046.2,349.1 2032.2,351.5 2049.2,354.1 1993.8,355.7 2023.2,358.2 1964.1,359.8 2013.2,362.2 2013.0,363.7 2048.2,365.2 2043.2,367.6 2002.2,369.2 1983.5,371.2 1998.0,372.7 1998.2,374.2 1996.5,375.7 1991.2,377.2 2010.2,379.2 1995.5,380.7 1987.2,382.2 1986.4,383.7 2014.2,385.2 2015.7,386.7 2030.2,388.2 1989.2,390.2 2006.2,392.2 2019.2,393.8 1973.1,395.2 1969.8,396.7 1968.1,398.2 1984.1,399.2 1955.7,401.2 2024.2,403.2 2042.2,405.2 2048.0,407.0 2048.2,408.8 2011.2,410.2 2019.2,412.2 1989.2,414.6 2003.2,416.2 2017.2,418.2 2008.2,420.8 2013.2,423.2 2015.4,424.7 2019.2,426.2 2002.2,428.2 2005.2,430.2 1990.2,431.6 1978.1,433.2 2000.2,435.2 2007.8,436.7 2012.2,438.2 2016.2,440.2 1997.4,441.7 1998.2,443.2 2001.5,444.7 2004.2,446.2 2020.2,448.8 1998.2,451.2 2001.8,452.7 2013.2,454.2 2009.6,455.7 1978.5,457.2 2001.5,458.7 1995.2,460.2 2017.2,462.2 2017.6,463.8 2047.2,465.3 2080.2,467.3 2036.2,469.3 2033.2,471.3 2046.2,473.3 2059.2,474.9 2013.6,477.3 2040.2,478.9 2116.3,480.3 2100.3,482.9 2122.3,484.3 2094.3,486.3 2076.6,488.9 2090.3,490.3 2092.2,491.7 2100.3,494.3 2063.2,496.3 2061.2,497.8 2057.2,499.3 2066.6,500.8 2115.9,502.3 2052.5,503.8 2046.2,505.3 2079.2,507.7 2066.2,509.2 1964.7,510.7 1968.1,513.3 1992.0,514.8 1990.2,516.3 1965.1,518.9 1970.1,520.3 2042.2,521.7 2000.2,524.3 2001.1,525.8 1968.1,527.3 2011.2,529.3 2009.8,530.8 2036.2,532.3 2039.6,533.8 2004.2,535.3 2018.3,536.8 2089.2,538.3 2147.3,540.3 2061.2,541.9 2061.2,544.0 2030.2,546.4 2077.2,549.0 2164.3,551.6 2040.5,553.3 2019.8,555.0 2116.3,557.6 2084.2,560.0 2099.9,561.5 2098.3,563.0 2100.6,564.5 2082.2,566.0 2101.3,568.4 2111.3,571.0 2143.3,573.4 2083.2,576.0 2087.7,577.7 2161.3,579.4 2087.2,582.0 2146.4,583.5 2151.3,585.0 2135.3,587.6 2156.3,590.0 2116.5,591.5 2117.3,593.0 2178.3,595.6 2082.2,598.1 2100.2,599.8 2047.2,601.5 2080.2,604.1 2152.3,606.7 2117.2,608.2 2114.3,609.7 2111.1,611.1 2097.3,612.5 2105.0,614.2 2108.4,615.9 2156.3,617.7 2149.7,619.1 2116.3,620.5 2138.9,622.1 2141.3,623.7 2172.3,625.7 2171.1,627.2 2168.3,628.7 2160.3,630.1 2155.3,631.5 2126.3,634.1 2117.3,636.1 2120.0,637.9 2122.3,639.7 2109.3,642.1 2106.9,643.6 2084.2,645.1 2063.2,647.7 2068.5,649.1 1996.2,650.5 2031.2,653.1 2068.0,654.6 2063.2,656.1 2123.9,658.5 2122.0,660.0 2120.3,661.5 2082.2,664.1 2084.3,665.6 2144.9,667.1 2081.2,669.5 2088.2,672.1 2091.5,673.6 2130.3,675.1 2025.2,677.7 2097.3,680.1 2081.2,682.1 2106.3,684.1 2099.3,686.1 2264.4,688.7 2083.2,690.5 2088.6,692.0 2195.3,693.5 2079.2,695.5 2146.7,697.7 2077.2,700.1 2098.3,702.7 2086.2,704.8 2117.3,706.6 2102.3,708.6 2124.3,711.2 2104.3,713.8 2106.3,716.2 2084.2,718.2 2194.3,720.2 2100.3,722.8 2005.8,724.6 2023.2,726.6 2008.2,729.2 2061.2,731.2 2058.9,732.7 2008.2,734.2 2086.2,736.2 2060.2,738.6 2099.3,740.2 2116.3,742.2 2112.1,743.7 2145.3,745.2 2120.3,747.2 2134.3,749.2 2112.3,751.8 2183.7,753.8 2090.6,756.2 2100.3,758.6 2100.3,761.2 2134.3,763.2 2180.7,764.6 2181.3,767.2 2202.0,769.8 2073.2,771.6 2134.3,774.2 2034.6,776.2 2055.2,778.8 2106.3,780.8 2201.4,783.2 2178.3,785.2 2145.3,787.2 2128.3,788.7 2190.7,790.2 2037.2,792.2 2065.2,794.6 2047.2,796.6 2064.2,799.2 2042.2,801.6 2064.2,803.2 2019.6,805.8 2085.6,808.2 2054.2,810.2 2057.0,811.8 2035.8,813.3 2052.2,814.7 2114.3,817.3 2094.3,819.3 2104.3,821.3 2097.3,823.9 2117.3,825.9 2124.3,828.3 2167.9,830.7 2197.9,832.7 2186.7,835.3 2147.3,836.7 2079.8,839.3 2115.9,841.7 2128.3,843.9 2140.3,846.3 2156.7,848.3 2149.3,850.7 2131.3,853.3 2190.7,854.7 2176.5,856.2 2175.9,857.7 2186.3,859.7 2189.2,861.5 2211.4,863.3 2213.5,864.8 2214.4,866.3 2199.6,868.1 2194.3,869.9 2264.4,872.3 2213.3,873.8 2217.4,875.3 2217.4,876.8 2202.4,878.3 2206.3,879.8 2264.4,881.3 2206.4,882.8 2204.4,884.3 2264.4,886.7 2206.4,888.9 2207.4,890.5 2264.4,892.0 2152.3,894.0 2128.3,896.6 2197.3,899.0 2190.5,900.5 2184.3,902.0 2184.4,903.5 2200.4,905.0 2164.3,907.6 2193.7,909.1 2198.3,910.6 2137.3,913.0 2206.4,915.4 2204.4,917.2 2090.6,919.0 2134.3,921.4 2138.4,923.2 2160.3,925.0 2125.4,926.5 2118.3,928.0 2171.3,930.0 2124.3,932.0 2122.6,933.5 2143.3,935.0 2068.2,937.6 2116.3,940.0 2083.2,942.0 2146.7,943.7 2110.3,946.1 2111.4,947.6 2112.3,949.1 2136.3,951.1 2122.1,952.6 2081.8,954.1 2104.3,956.1 2141.3,958.7 2049.2,961.1 2092.2,963.1 2097.1,964.6 2040.2,966.1 2099.3,968.1 2102.7,969.6 2120.3,971.1 2114.3,973.1 2095.3,975.5 2124.3,977.1 2104.1,978.6 2101.3,980.1 2096.3,982.7 2057.8,985.1 2139.9,987.1 2084.2,988.7 2080.8,990.4 2073.2,992.1 2116.2,994.1 2116.3,996.1 2078.2,998.7 2080.9,1000.4 2120.3,1002.1 2115.2,1003.6 2108.3,1005.1 2088.2,1007.5 2055.6,1009.7 2119.3,1011.1 2114.9,1012.6 2106.3,1014.1 2112.0,1015.6 2114.3,1017.1 2061.2,1019.1 2091.2,1020.6 2094.3,1022.1 2028.2,1024.7 2066.2,1027.1 2091.8,1028.6 2098.7,1030.1 2044.8,1032.1 2090.2,1034.1 2084.2,1036.7 2104.3,1038.1 2125.3,1039.5 2116.3,1042.1 2120.3,1044.1 2151.7,1045.5 2135.3,1048.1 2127.5,1049.6 2045.8,1051.2 2094.3,1053.2 2099.3,1054.7 2106.3,1056.2 2100.3,1058.2 2106.3,1060.6 2090.2,1062.8 2115.3,1064.8 2143.9,1066.2 2114.3,1068.2 2107.3,1070.8 2120.3,1072.2 2129.3,1074.2 2136.3,1075.8 2118.3,1078.2 2122.3,1080.8 2145.7,1083.2 2132.3,1085.2 2117.3,1087.2 2139.3,1089.2 2140.3,1091.6 2110.3,1093.2 2118.1,1094.7 2092.2,1096.2 2098.3,1098.8 2127.3,1101.2 2126.6,1102.7 2145.3,1104.2 2137.3,1105.6 2097.9,1107.6 2145.3,1109.6 2132.3,1111.6 2053.2,1113.6 2055.2,1115.6 2094.3,1117.2 2078.2,1119.2 2074.2,1121.2 2115.3,1122.8 2102.3,1125.2 2123.3,1127.2 2112.3,1128.6 2058.2,1130.2 1985.8,1132.2 1995.8,1134.2 2086.6,1136.6 2077.2,1138.2 2038.2,1139.8 2064.2,1141.6 2080.2,1144.2 2063.2,1146.2 2026.8,1147.8 2133.9,1149.2 2114.3,1151.2 2058.2,1153.6 2076.2,1155.2 2102.3,1156.6 2074.2,1159.3 2015.8,1160.9 2074.2,1162.9 2080.2,1165.3 2079.3,1166.8 2084.2,1168.3 2040.2,1170.3 2053.2,1172.3 2080.2,1174.3 2082.7,1175.8 2082.2,1177.3 2080.8,1178.8 2081.2,1180.3 2076.8,1181.8 2069.2,1183.3 2089.2,1185.3 2084.7,1186.8 2076.2,1188.3 2072.4,1189.8 2074.2,1191.3 2081.1,1192.8 2085.2,1194.3 2082.5,1195.8 2082.2,1197.3 2099.3,1199.3 2106.3,1201.3 2124.3,1202.9 2128.3,1205.3 2074.2,1207.3 2090.2,1209.3 2118.3,1211.7 2118.3,1214.3 2117.1,1215.8 2046.2,1217.3 2086.2,1219.3 2122.3,1221.3 2147.9,1222.9 2136.3,1224.9 2125.3,1226.9 2058.6,1228.7 2108.3,1231.3 2074.2,1233.3 2108.3,1235.3 2074.2,1236.0 2109.2,1237.5 2112.3,1239.0 2109.6,1240.5 2092.2,1242.0 2108.4,1243.5 2110.3,1245.0 2108.9,1246.7 2127.3,1248.4 2135.3,1251.0 2094.3,1253.6 2119.3,1256.0 2116.0,1257.5 2116.3,1259.0 2113.5,1260.7 2112.3,1262.4 2109.0,1264.2 2109.3,1266.0 2113.7,1267.5 2112.3,1269.0 2131.3,1270.4 2119.9,1272.2 2085.8,1274.0 2122.5,1275.5 2125.3,1277.0 2122.3,1279.0 2116.4,1280.5 2089.8,1282.0 2106.1,1283.5 2104.3,1285.0 2101.7,1286.5 2103.3,1288.0 2106.3,1290.5 2101.6,1292.0 2096.3,1293.5 2097.3,1295.1 2142.3,1296.7 2129.3,1299.1 2097.0,1300.6 2092.2,1302.1 2113.7,1303.6 2115.3,1305.1 2110.2,1306.6 2106.3,1308.1 2104.5,1309.6 2101.3,1311.1 2082.2,1313.1 2034.2,1315.1 2038.2,1316.6 2046.2,1318.1 2030.2,1319.7 2099.7,1321.7 2058.2,1324.1 2060.0,1325.6 2059.2,1327.1 2028.2,1329.7 2019.2,1332.1 2027.4,1333.6 2032.2,1335.1 2027.8,1336.6 2024.2,1338.1 2046.2,1340.1 2052.2,1342.5 2001.2,1344.1 1974.1,1345.7 2089.2,1347.7 2084.2,1350.1 2107.3,1351.7 1917.1,1353.1 1875.0,1355.7 1983.7,1357.3 1971.1,1359.1 1932.1,1360.7 1902.1,1363.1 1959.7,1365.1 2044.2,1366.5 2096.3,1368.1 2088.2,1370.5 2090.2,1373.1 2078.2,1375.1 2130.3,1376.1 2090.2,1378.5 2110.3,1380.5 2100.3,1382.1 2075.2,1384.1 2061.2,1385.7 2023.6,1387.5 2054.2,1389.7 2079.2,1391.1 2056.2,1393.5 2079.2,1395.5 2014.2,1396.7 2024.2,1399.2 2043.2,1401.2 2067.2,1402.6 2110.3,1404.2 2137.3,1406.2 2097.3,1408.2 2194.3,1410.2 2160.3,1412.6 2156.3,1415.2 2154.3,1417.2 2139.9,1419.8 2174.3,1421.2 2186.3,1423.8 2264.4,1425.2 2184.3,1427.8 2264.4,1429.6 2193.3,1431.2 2152.3,1433.2 2194.3,1435.6 2190.3,1438.2 2179.3,1440.2 2264.4,1442.2 2180.3,1444.2 2204.4,1446.2 2207.4,1448.6 2202.8,1450.2 2200.4,1451.8 2264.4,1453.6 2210.4,1456.2 2204.4,1457.6 2186.3,1459.2 2188.4,1460.7 2187.3,1462.2 2160.3,1464.6 2188.3,1467.2 2212.4,1469.2 2188.3,1470.6 2156.7,1472.8 2170.3,1474.6 2203.8,1476.2 2192.3,1478.2 2193.3,1480.2 2182.3,1482.2 2115.3,1484.2 2081.2,1485.8 2064.2,1487.2 2154.3,1489.8 2115.3,1491.2 2063.2,1492.8 2090.2,1495.2 2051.2,1497.2 2066.2,1498.6 2009.6,1501.2 2057.2,1502.8 2089.8,1504.6 2082.2,1506.3 2076.2,1508.3 2126.3,1509.9 2182.3,1512.3 2106.3,1514.3 2112.3,1516.3 2075.8,1518.3 2094.3,1520.3 2089.7,1522.1 2082.2,1523.9 2088.2,1526.3 2089.0,1527.8 2086.2,1529.3 2082.2,1531.9 2060.8,1533.3 2118.3,1534.7 2092.2,1536.3 2100.3,1538.7 2104.3,1541.3 2086.2,1542.7 2101.3,1545.3 2076.2,1547.9 2073.2,1549.9 2074.2,1552.3 2096.3,1554.3 2118.3,1555.7 2134.3,1557.7 2104.3,1559.3 2108.3,1561.7 2104.3,1563.3 2082.2,1565.3 2086.2,1567.3 2140.3,1569.9 2142.3,1572.3 2075.2,1574.3 2142.3,1576.3 2138.3,1578.3 2088.2,1580.7 2132.3,1582.3 2092.2,1584.1 2132.3,1586.1 2167.3,1588.1 2064.2,1590.7 2118.3,1593.1 2135.3,1595.1 2051.2,1597.1 2124.3,1599.1 2104.3,1601.5 2088.2,1604.1 2049.2,1606.1 2030.2,1608.7 2075.2,1610.7 2100.5,1612.4 2102.3,1614.1 2125.3,1616.7 2131.3,1618.1" stroke-width="1.5" stroke-linejoin="round" shape-rendering="crispEdges"/>
<path d="M1985.1 203.0h0M1972.5 205.4h0M1994.2 208.0h0M1993.2 210.6h0M1982.1 213.0h0M1983.1 215.6h0M1988.8 217.1h0M1994.2 218.6h0M1984.1 221.0h0M1992.0 222.5h0M1996.2 224.0h0M2011.2 226.6h0M1998.2 229.0h0M1991.2 231.4h0M2010.2 234.0h0M2004.2 236.0h0M2006.2 238.6h0M2011.9 240.0h0M2012.2 241.4h0M2019.2 244.0h0M1988.2 245.0h0M1993.1 246.5h0M1968.1 248.0h0M2039.2 250.1h0M2005.0 251.6h0M2002.2 253.1h0M1999.1 254.6h0M2016.2 256.1h0M1998.0 257.6h0M1994.2 259.1h0M1998.7 260.6h0M2006.2 262.1h0M2008.2 264.7h0M2005.7 266.1h0M2003.2 267.5h0M2018.2 270.1h0M2004.5 271.6h0M2001.2 273.1h0M2005.8 274.6h0M2005.2 276.1h0M2016.2 278.1h0M2013.2 280.7h0M1991.2 282.7h0M1985.1 284.4h0M1980.1 286.1h0M1979.1 288.7h0M1965.1 291.1h0M1996.2 293.1h0M2003.2 295.1h0M2009.2 296.6h0M2009.2 298.1h0M2008.5 299.6h0M2013.2 301.1h0M2016.6 302.6h0M2016.2 304.1h0M2021.4 306.4h0M2022.2 308.7h0M2023.1 310.4h0M2007.2 312.1h0M2021.2 314.7h0M2032.2 317.1h0M2030.0 318.6h0M2078.2 320.1h0M1930.1 321.7h0M2007.2 324.1h0M2007.5 325.6h0M1986.2 327.1h0M2005.8 328.6h0M2002.2 330.1h0M1982.1 331.7h0M2019.2 334.1h0M2020.5 335.8h0M2024.2 337.5h0M2013.2 340.1h0M2007.2 341.6h0M2006.2 343.1h0M2040.2 344.1h0M2017.2 346.5h0M2046.2 349.1h0M2032.2 351.5h0M2049.2 354.1h0M1993.8 355.7h0M2023.2 358.2h0M1964.1 359.8h0M2013.2 362.2h0M2013.0 363.7h0M2048.2 365.2h0M2043.2 367.6h0M2002.2 369.2h0M1983.5 371.2h0M1998.0 372.7h0M1998.2 374.2h0M1996.5 375.7h0M1991.2 377.2h0M2010.2 379.2h0M1995.5 380.7h0M1987.2 382.2h0M1986.4 383.7h0M2014.2 385.2h0M2015.7 386.7h0M2030.2 388.2h0M1989.2 390.2h0M2006.2 392.2h0M2019.2 393.8h0M1973.1 395.2h0M1969.8 396.7h0M1968.1 398.2h0M1984.1 399.2h0M1955.7 401.2h0M2024.2 403.2h0M2042.2 405.2h0M2048.0 407.0h0M2048.2 408.8h0M2011.2 410.2h0M2019.2 412.2h0M1989.2 414.6h0M2003.2 416.2h0M2017.2 418.2h0M2008.2 420.8h0M2013.2 423.2h0M2015.4 424.7h0M2019.2 426.2h0M2002.2 428.2h0M2005.2 430.2h0M1990.2 431.6h0M1978.1 433.2h0M2000.2 435.2h0M2007.8 436.7h0M2012.2 438.2h0M2016.2 440.2h0M1997.4 441.7h0M1998.2 443.2h0M2001.5 444.7h0M2004.2 446.2h0M2020.2 448.8h0M1998.2 451.2h0M2001.8 452.7h0M2013.2 454.2h0M2009.6 455.7h0M1978.5 457.2h0M2001.5 458.7h0M1995.2 460.2h0M2017.2 462.2h0M2017.6 463.8h0M2047.2 465.3h0M2080.2 467.3h0M2036.2 469.3h0M2033.2 471.3h0M2046.2 473.3h0M2059.2 474.9h0M2013.6 477.3h0M2040.2 478.9h0M2116.3 480.3h0M2100.3 482.9h0M2122.3 484.3h0M2094.3 486.3h0M2076.6 488.9h0M2090.3 490.3h0M2092.2 491.7h0M2100.3 494.3h0M2063.2 496.3h0M2061.2 497.8h0M2057.2 499.3h0M2066.6 500.8h0M2115.9 502.3h0M2052.5 503.8h0M2046.2 505.3h0M2079.2 507.7h0M2066.2 509.2h0M1964.7 510.7h0M1968.1 513.3h0M1992.0 514.8h0M1990.2 516.3h0M1965.1 518.9h0M1970.1 520.3h0M2042.2 521.7h0M2000.2 524.3h0M2001.1 525.8h0M1968.1 527.3h0M2011.2 529.3h0M2009.8 530.8h0M2036.2 532.3h0M2039.6 533.8h0M2004.2 535.3h0M2018.3 536.8h0M2089.2 538.3h0M2147.3 540.3h0M2061.2 541.9h0M2061.2 544.0h0M2030.2 546.4h0M2077.2 549.0h0M2164.3 551.6h0M2040.5 553.3h0M2019.8 555.0h0M2116.3 557.6h0M2084.2 560.0h0M2099.9 561.5h0M2098.3 563.0h0M2100.6 564.5h0M2082.2 566.0h0M2101.3 568.4h0M2111.3 571.0h0M2143.3 573.4h0M2083.2 576.0h0M2087.7 577.7h0M2161.3 579.4h0M2087.2 582.0h0M2146.4 583.5h0M2151.3 585.0h0M2135.3 587.6h0M2156.3 590.0h0M2116.5 591.5h0M2117.3 593.0h0M2178.3 595.6h0M2082.2 598.1h0M2100.2 599.8h0M2047.2 601.5h0M2080.2 604.1h0M2152.3 606.7h0M2117.2 608.2h0M2114.3 609.7h0M2111.1 611.1h0M2097.3 612.5h0M2105.0 614.2h0M2108.4 615.9h0M2156.3 617.7h0M2149.7 619.1h0M2116.3 620.5h0M2138.9 622.1h0M2141.3 623.7h0M2172.3 625.7h0M2171.1 627.2h0M2168.3 628.7h0M2160.3 630.1h0M2155.3 631.5h0M2126.3 634.1h0M2117.3 636.1h0M2120.0 637.9h0M2122.3 639.7h0M2109.3 642.1h0M2106.9 643.6h0M2084.2 645.1h0M2063.2 647.7h0M2068.5 649.1h0M1996.2 650.5h0M2031.2 653.1h0M2068.0 654.6h0M2063.2 656.1h0M2123.9 658.5h0M2122.0 660.0h0M2120.3 661.5h0M2082.2 664.1h0M2084.3 665.6h0M2144.9 667.1h0M2081.2 669.5h0M2088.2 672.1h0M2091.5 673.6h0M2130.3 675.1h0M2025.2 677.7h0M2097.3 680.1h0M2081.2 682.1h0M2106.3 684.1h0M2099.3 686.1h0M2264.4 688.7h0M2083.2 690.5h0M2088.6 692.0h0M2195.3 693.5h0M2079.2 695.5h0M2146.7 697.7h0M2077.2 700.1h0M2098.3 702.7h0M2086.2 704.8h0M2117.3 706.6h0M2102.3 708.6h0M2124.3 711.2h0M2104.3 713.8h0M2106.3 716.2h0M2084.2 718.2h0M2194.3 720.2h0M2100.3 722.8h0M2005.8 724.6h0M2023.2 726.6h0M2008.2 729.2h0M2061.2 731.2h0M2058.9 732.7h0M2008.2 734.2h0M2086.2 736.2h0M2060.2 738.6h0M2099.3 740.2h0M2116.3 742.2h0M2112.1 743.7h0M2145.3 745.2h0M2120.3 747.2h0M2134.3 749.2h0M2112.3 751.8h0M2183.7 753.8h0M2090.6 756.2h0M2100.3 758.6h0M2100.3 761.2h0M2134.3 763.2h0M2180.7 764.6h0M2181.3 767.2h0M2202.0 769.8h0M2073.2 771.6h0M2134.3 774.2h0M2034.6 776.2h0M2055.2 778.8h0M2106.3 780.8h0M2201.4 783.2h0M2178.3 785.2h0M2145.3 787.2h0M2128.3 788.7h0M2190.7 790.2h0M2037.2 792.2h0M2065.2 794.6h0M2047.2 796.6h0M2064.2 799.2h0M2042.2 801.6h0M2064.2 803.2h0M2019.6 805.8h0M2085.6 808.2h0M2054.2 810.2h0M2057.0 811.8h0M2035.8 813.3h0M2052.2 814.7h0M2114.3 817.3h0M2094.3 819.3h0M2104.3 821.3h0M2097.3 823.9h0M2117.3 825.9h0M2124.3 828.3h0M2167.9 830.7h0M2197.9 832.7h0M2186.7 835.3h0M2147.3 836.7h0M2079.8 839.3h0M2115.9 841.7h0M2128.3 843.9h0M2140.3 846.3h0M2156.7 848.3h0M2149.3 850.7h0M2131.3 853.3h0M2190.7 854.7h0M2176.5 856.2h0M2175.9 857.7h0M2186.3 859.7h0M2189.2 861.5h0M2211.4 863.3h0M2213.5 864.8h0M2214.4 866.3h0M2199.6 868.1h0M2194.3 869.9h0M2264.4 872.3h0M2213.3 873.8h0M2217.4 875.3h0M2217.4 876.8h0M2202.4 878.3h0M2206.3 879.8h0M2264.4 881.3h0M2206.4 882.8h0M2204.4 884.3h0M2264.4 886.7h0M2206.4 888.9h0M2207.4 890.5h0M2264.4 892.0h0M2152.3 894.0h0M2128.3 896.6h0M2197.3 899.0h0M2190.5 900.5h0M2184.3 902.0h0M2184.4 903.5h0M2200.4 905.0h0M2164.3 907.6h0M2193.7 909.1h0M2198.3 910.6h0M2137.3 913.0h0M2206.4 915.4h0M2204.4 917.2h0M2090.6 919.0h0M2134.3 921.4h0M2138.4 923.2h0M2160.3 925.0h0M2125.4 926.5h0M2118.3 928.0h0M2171.3 930.0h0M2124.3 932.0h0M2122.6 933.5h0M2143.3 935.0h0M2068.2 937.6h0M2116.3 940.0h0M2083.2 942.0h0M2146.7 943.7h0M2110.3 946.1h0M2111.4 947.6h0M2112.3 949.1h0M2136.3 951.1h0M2122.1 952.6h0M2081.8 954.1h0M2104.3 956.1h0M2141.3 958.7h0M2049.2 961.1h0M2092.2 963.1h0M2097.1 964.6h0M2040.2 966.1h0M2099.3 968.1h0M2102.7 969.6h0M2120.3 971.1h0M2114.3 973.1h0M2095.3 975.5h0M2124.3 977.1h0M2104.1 978.6h0M2101.3 980.1h0M2096.3 982.7h0M2057.8 985.1h0M2139.9 987.1h0M2084.2 988.7h0M2080.8 990.4h0M2073.2 992.1h0M2116.2 994.1h0M2116.3 996.1h0M2078.2 998.7h0M2080.9 1000.4h0M2120.3 1002.1h0M2115.2 1003.6h0M2108.3 1005.1h0M2088.2 1007.5h0M2055.6 1009.7h0M2119.3 1011.1h0M2114.9 1012.6h0M2106.3 1014.1h0M2112.0 1015.6h0M2114.3 1017.1h0M2061.2 1019.1h0M2091.2 1020.6h0M2094.3 1022.1h0M2028.2 1024.7h0M2066.2 1027.1h0M2091.8 1028.6h0M2098.7 1030.1h0M2044.8 1032.1h0M2090.2 1034.1h0M2084.2 1036.7h0M2104.3 1038.1h0M2125.3 1039.5h0M2116.3 1042.1h0M2120.3 1044.1h0M2151.7 1045.5h0M2135.3 1048.1h0M2127.5 1049.6h0M2045.8 1051.2h0M2094.3 1053.2h0M2099.3 1054.7h0M2106.3 1056.2h0M2100.3 1058.2h0M2106.3 1060.6h0M2090.2 1062.8h0M2115.3 1064.8h0M2143.9 1066.2h0M2114.3 1068.2h0M2107.3 1070.8h0M2120.3 1072.2h0M2129.3 1074.2h0M2136.3 1075.8h0M2118.3 1078.2h0M2122.3 1080.8h0M2145.7 1083.2h0M2132.3 1085.2h0M2117.3 1087.2h0M2139.3 1089.2h0M2140.3 1091.6h0M2110.3 1093.2h0M2118.1 1094.7h0M2092.2 1096.2h0M2098.3 1098.8h0M2127.3 1101.2h0M2126.6 1102.7h0M2145.3 1104.2h0M2137.3 1105.6h0M2097.9 1107.6h0M2145.3 1109.6h0M2132.3 1111.6h0M2053.2 1113.6h0M2055.2 1115.6h0M2094.3 1117.2h0M2078.2 1119.2h0M2074.2 1121.2h0M2115.3 1122.8h0M2102.3 1125.2h0M2123.3 1127.2h0M2112.3 1128.6h0M2058.2 1130.2h0M1985.8 1132.2h0M1995.8 1134.2h0M2086.6 1136.6h0M2077.2 1138.2h0M2038.2 1139.8h0M2064.2 1141.6h0M2080.2 1144.2h0M2063.2 1146.2h0M2026.8 1147.8h0M2133.9 1149.2h0M2114.3 1151.2h0M2058.2 1153.6h0M2076.2 1155.2h0M2102.3 1156.6h0M2074.2 1159.3h0M2015.8 1160.9h0M2074.2 1162.9h0M2080.2 1165.3h0M2079.3 1166.8h0M2084.2 1168.3h0M2040.2 1170.3h0M2053.2 1172.3h0M2080.2 1174.3h0M2082.7 1175.8h0M2082.2 1177.3h0M2080.8 1178.8h0M2081.2 1180.3h0M2076.8 1181.8h0M2069.2 1183.3h0M2089.2 1185.3h0M2084.7 1186.8h0M2076.2 1188.3h0M2072.4 1189.8h0M2074.2 1191.3h0M2081.1 1192.8h0M2085.2 1194.3h0M2082.5 1195.8h0M2082.2 1197.3h0M2099.3 1199.3h0M2106.3 1201.3h0M2124.3 1202.9h0M2128.3 1205.3h0M2074.2 1207.3h0M2090.2 1209.3h0M2118.3 1211.7h0M2118.3 1214.3h0M2117.1 1215.8h0M2046.2 1217.3h0M2086.2 1219.3h0M2122.3 1221.3h0M2147.9 1222.9h0M2136.3 1224.9h0M2125.3 1226.9h0M2058.6 1228.7h0M2108.3 1231.3h0M2074.2 1233.3h0M2108.3 1235.3h0M2074.2 1236.0h0M2109.2 1237.5h0M2112.3 1239.0h0M2109.6 1240.5h0M2092.2 1242.0h0M2108.4 1243.5h0M2110.3 1245.0h0M2108.9 1246.7h0M2127.3 1248.4h0M2135.3 1251.0h0M2094.3 1253.6h0M2119.3 1256.0h0M2116.0 1257.5h0M2116.3 1259.0h0M2113.5 1260.7h0M2112.3 1262.4h0M2109.0 1264.2h0M2109.3 1266.0h0M2113.7 1267.5h0M2112.3 1269.0h0M2131.3 1270.4h0M2119.9 1272.2h0M2085.8 1274.0h0M2122.5 1275.5h0M2125.3 1277.0h0M2122.3 1279.0h0M2116.4 1280.5h0M2089.8 1282.0h0M2106.1 1283.5h0M2104.3 1285.0h0M2101.7 1286.5h0M2103.3 1288.0h0M2106.3 1290.5h0M2101.6 1292.0h0M2096.3 1293.5h0M2097.3 1295.1h0M2142.3 1296.7h0M2129.3 1299.1h0M2097.0 1300.6h0M2092.2 1302.1h0M2113.7 1303.6h0M2115.3 1305.1h0M2110.2 1306.6h0M2106.3 1308.1h0M2104.5 1309.6h0M2101.3 1311.1h0M2082.2 1313.1h0M2034.2 1315.1h0M2038.2 1316.6h0M2046.2 1318.1h0M2030.2 1319.7h0M2099.7 1321.7h0M2058.2 1324.1h0M2060.0 1325.6h0M2059.2 1327.1h0M2028.2 1329.7h0M2019.2 1332.1h0M2027.4 1333.6h0M2032.2 1335.1h0M2027.8 1336.6h0M2024.2 1338.1h0M2046.2 1340.1h0M2052.2 1342.5h0M2001.2 1344.1h0M1974.1 1345.7h0M2089.2 1347.7h0M2084.2 1350.1h0M2107.3 1351.7h0M1917.1 1353.1h0M1875.0 1355.7h0M1983.7 1357.3h0M1971.1 1359.1h0M1932.1 1360.7h0M1902.1 1363.1h0M1959.7 1365.1h0M2044.2 1366.5h0M2096.3 1368.1h0M2088.2 1370.5h0M2090.2 1373.1h0M2078.2 1375.1h0M2130.3 1376.1h0M2090.2 1378.5h0M2110.3 1380.5h0M2100.3 1382.1h0M2075.2 1384.1h0M2061.2 1385.7h0M2023.6 1387.5h0M2054.2 1389.7h0M2079.2 1391.1h0M2056.2 1393.5h0M2079.2 1395.5h0M2014.2 1396.7h0M2024.2 1399.2h0M2043.2 1401.2h0M2067.2 1402.6h0M2110.3 1404.2h0M2137.3 1406.2h0M2097.3 1408.2h0M2194.3 1410.2h0M2160.3 1412.6h0M2156.3 1415.2h0M2154.3 1417.2h0M2139.9 1419.8h0M2174.3 1421.2h0M2186.3 1423.8h0M2264.4 1425.2h0M2184.3 1427.8h0M2264.4 1429.6h0M2193.3 1431.2h0M2152.3 1433.2h0M2194.3 1435.6h0M2190.3 1438.2h0M2179.3 1440.2h0M2264.4 1442.2h0M2180.3 1444.2h0M2204.4 1446.2h0M2207.4 1448.6h0M2202.8 1450.2h0M2200.4 1451.8h0M2264.4 1453.6h0M2210.4 1456.2h0M2204.4 1457.6h0M2186.3 1459.2h0M2188.4 1460.7h0M2187.3 1462.2h0M2160.3 1464.6h0M2188.3 1467.2h0M2212.4 1469.2h0M2188.3 1470.6h0M2156.7 1472.8h0M2170.3 1474.6h0M2203.8 1476.2h0M2192.3 1478.2h0M2193.3 1480.2h0M2182.3 1482.2h0M2115.3 1484.2h0M2081.2 1485.8h0M2064.2 1487.2h0M2154.3 1489.8h0M2115.3 1491.2h0M2063.2 1492.8h0M2090.2 1495.2h0M2051.2 1497.2h0M2066.2 1498.6h0M2009.6 1501.2h0M2057.2 1502.8h0M2089.8 1504.6h0M2082.2 1506.3h0M2076.2 1508.3h0M2126.3 1509.9h0M2182.3 1512.3h0M2106.3 1514.3h0M2112.3 1516.3h0M2075.8 1518.3h0M2094.3 1520.3h0M2089.7 1522.1h0M2082.2 1523.9h0M2088.2 1526.3h0M2089.0 1527.8h0M2086.2 1529.3h0M2082.2 1531.9h0M2060.8 1533.3h0M2118.3 1534.7h0M2092.2 1536.3h0M2100.3 1538.7h0M2104.3 1541.3h0M2086.2 1542.7h0M2101.3 1545.3h0M2076.2 1547.9h0M2073.2 1549.9h0M2074.2 1552.3h0M2096.3 1554.3h0M2118.3 1555.7h0M2134.3 1557.7h0M2104.3 1559.3h0M2108.3 1561.7h0M2104.3 1563.3h0M2082.2 1565.3h0M2086.2 1567.3h0M2140.3 1569.9h0M2142.3 1572.3h0M2075.2 1574.3h0M2142.3 1576.3h0M2138.3 1578.3h0M2088.2 1580.7h0M2132.3 1582.3h0M2092.2 1584.1h0M2132.3 1586.1h0M2167.3 1588.1h0M2064.2 1590.7h0M2118.3 1593.1h0M2135.3 1595.1h0M2051.2 1597.1h0M2124.3 1599.1h0M2104.3 1601.5h0M2088.2 1604.1h0M2049.2 1606.1h0M2030.2 1608.7h0M2075.2 1610.7h0M2100.5 1612.4h0M2102.3 1614.1h0M2125.3 1616.7h0M2131.3 1618.1h0" stroke-width="8.3" stroke-linecap="round"/>
</g>
<path d="M1863.0 182.3V202.9H2217.2V182.3" fill="none" stroke="#000" stroke-width="2.0" stroke-linejoin="miter"/>
<line x1="1951.5" y1="202.9" x2="1951.5" y2="190.1" stroke="#000" stroke-width="2.0" />
<line x1="2040.1" y1="202.9" x2="2040.1" y2="182.3" stroke="#000" stroke-width="2.0" />
<line x1="2128.6" y1="202.9" x2="2128.6" y2="190.1" stroke="#000" stroke-width="2.0" />
<text transform="translate(1863.0,158.0) scale(1,1.04)" font-size="49.6" text-anchor="middle" fill="#000" >2.0</text>
<text transform="translate(2040.1,158.0) scale(1,1.04)" font-size="49.6" text-anchor="middle" fill="#000" >2.5</text>
<text transform="translate(2217.2,158.0) scale(1,1.04)" font-size="49.6" text-anchor="middle" fill="#000" >3.0</text>
<text x="2040.0" y="50.3" font-size="58.5" text-anchor="middle" fill="#000" >Kurtosis</text>
<line x1="211.0" y1="573.3" x2="2220.6" y2="573.3" stroke="#858585" stroke-width="2.0" stroke-dasharray="28.3 9.8"/>
</svg>
</body></html>
